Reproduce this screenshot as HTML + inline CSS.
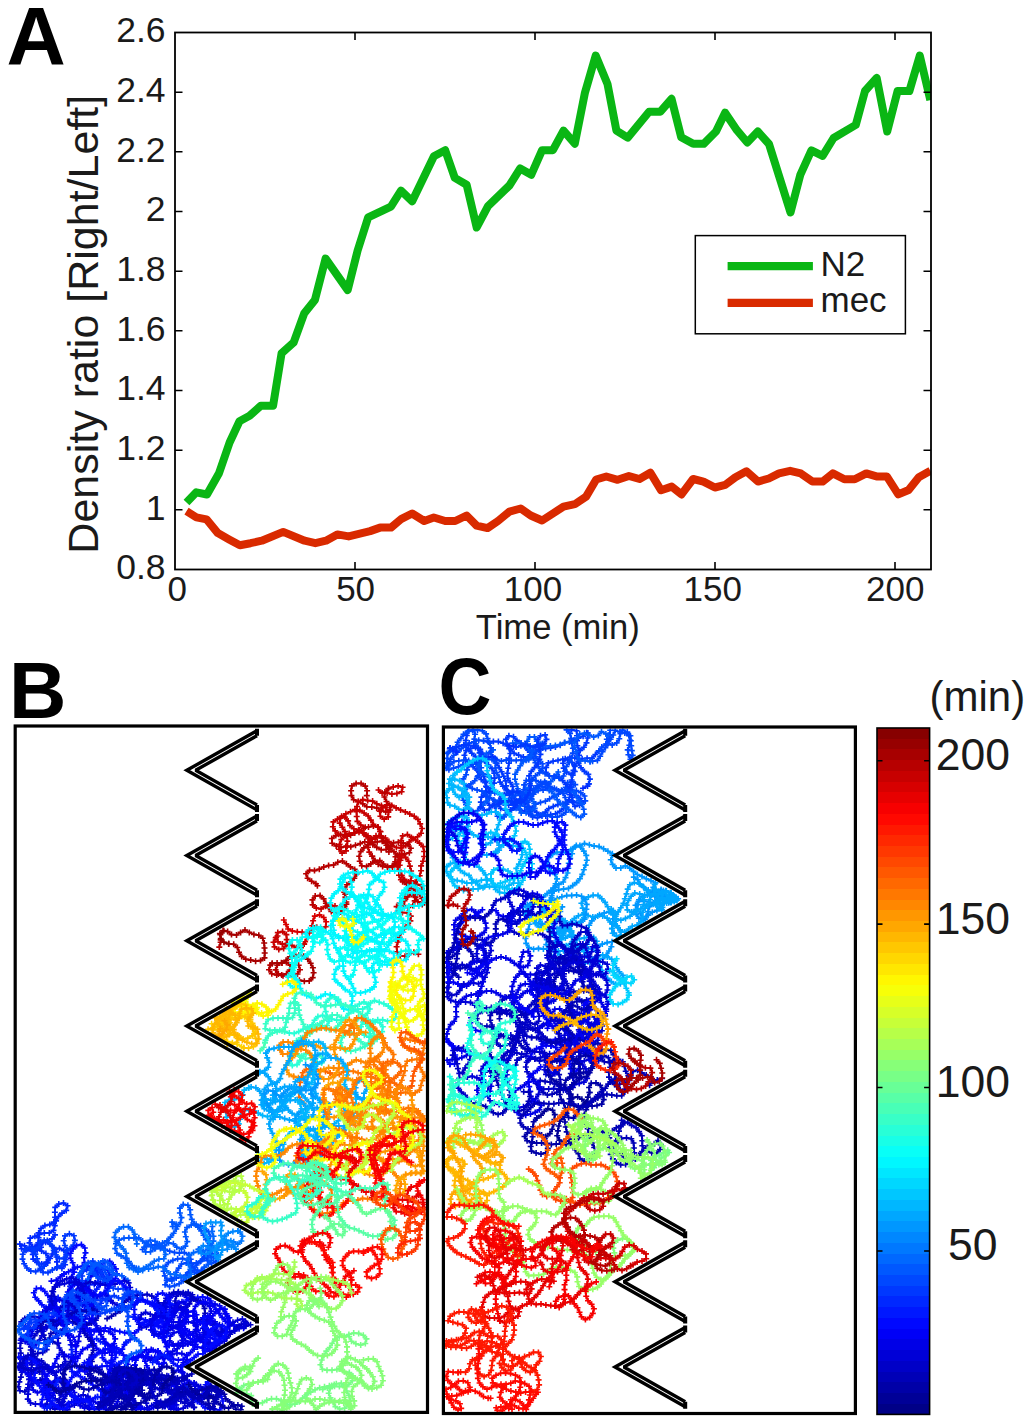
<!DOCTYPE html>
<html><head><meta charset="utf-8"><style>
html,body{margin:0;padding:0;background:#fff;}
svg{display:block;}
</style></head><body>
<svg width="1033" height="1425" viewBox="0 0 1033 1425">
<rect width="1033" height="1425" fill="#fff"/>
<defs><clipPath id="ca"><rect x="175.0" y="32.5" width="756.0" height="537.0"/></clipPath></defs>
<g clip-path="url(#ca)" fill="none" stroke-width="8" stroke-linejoin="round">
<polyline points="186.5,502.5 196.3,492.3 207.0,494.5 219.0,473.2 229.6,442.5 239.5,421.2 249.6,415.8 260.8,405.7 273.1,405.7 281.6,353.2 293.6,342.6 304.3,313.2 314.9,299.9 325.6,258.6 347.7,290.1 357.6,250.6 368.2,217.3 390.9,206.6 401.0,190.6 412.2,201.3 433.9,156.3 445.2,150.2 454.8,177.9 466.6,184.7 476.7,227.5 488.0,206.1 509.4,185.5 520.2,168.4 531.3,174.7 542.1,150.2 552.9,150.2 563.5,130.6 574.8,143.7 584.9,92.9 595.7,55.6 607.5,84.0 616.4,130.6 627.7,137.7 649.1,111.7 660.4,111.7 671.5,98.8 681.2,137.2 693.2,143.8 703.7,143.8 716.0,131.5 725.1,112.7 736.9,130.2 747.3,142.5 757.8,131.5 769.0,144.0 790.5,212.5 800.4,174.6 811.4,150.3 822.6,155.8 833.6,138.0 855.8,124.9 865.0,91.0 876.7,77.9 887.2,131.5 897.6,91.0 909.4,91.0 919.8,55.7 930.3,100.1" stroke="#0ab614"/>
<polyline points="186.5,511.2 196.4,517.3 206.5,519.3 217.8,533.1 229.1,539.4 239.9,545.2 250.5,543.2 261.8,540.7 283.2,531.9 304.6,540.7 315.4,543.2 326.0,540.7 337.3,534.4 348.7,536.4 370.1,531.1 380.1,527.6 391.0,527.6 401.5,518.8 412.1,513.5 424.2,521.0 433.8,517.5 445.2,521.0 455.2,521.0 466.6,515.5 476.6,525.6 487.5,528.1 498.0,521.0 509.4,511.7 520.7,508.5 530.7,515.5 542.1,520.5 563.5,506.7 574.8,504.2 586.1,496.6 596.2,479.5 606.3,476.5 617.6,479.8 628.9,476.0 639.5,479.0 650.3,472.7 661.1,490.3 671.7,486.6 681.5,494.4 693.1,479.0 703.4,481.6 714.9,487.5 725.2,484.9 735.4,477.2 746.4,471.3 758.0,481.6 768.8,478.5 779.0,473.4 790.1,470.8 800.8,473.4 812.4,481.6 822.6,481.6 832.9,473.4 844.4,479.3 854.7,479.3 866.3,473.4 876.5,476.4 886.8,476.4 898.3,494.4 908.6,490.0 918.8,477.2 930.4,470.8" stroke="#d92a00"/>
</g>
<rect x="175.0" y="32.5" width="756.0" height="537.0" fill="none" stroke="#000" stroke-width="1.8"/>
<path d="M355.0 569.5v-7.5M355.0 32.5v7.5M535.0 569.5v-7.5M535.0 32.5v7.5M715.0 569.5v-7.5M715.0 32.5v7.5M895.0 569.5v-7.5M895.0 32.5v7.5M175.0 509.8h7.5M931.0 509.8h-7.5M175.0 450.2h7.5M931.0 450.2h-7.5M175.0 390.5h7.5M931.0 390.5h-7.5M175.0 330.8h7.5M931.0 330.8h-7.5M175.0 271.2h7.5M931.0 271.2h-7.5M175.0 211.5h7.5M931.0 211.5h-7.5M175.0 151.8h7.5M931.0 151.8h-7.5M175.0 92.2h7.5M931.0 92.2h-7.5" stroke="#000" stroke-width="1.6" fill="none"/>
<g font-family='"Liberation Sans", sans-serif' font-size="35.5" fill="#1a1a1a">
<text x="165.5" y="579.3" text-anchor="end">0.8</text>
<text x="165.5" y="519.6" text-anchor="end">1</text>
<text x="165.5" y="460.0" text-anchor="end">1.2</text>
<text x="165.5" y="400.3" text-anchor="end">1.4</text>
<text x="165.5" y="340.6" text-anchor="end">1.6</text>
<text x="165.5" y="281.0" text-anchor="end">1.8</text>
<text x="165.5" y="221.3" text-anchor="end">2</text>
<text x="165.5" y="161.6" text-anchor="end">2.2</text>
<text x="165.5" y="102.0" text-anchor="end">2.4</text>
<text x="165.5" y="42.3" text-anchor="end">2.6</text>
<text x="177.2" y="600.8" text-anchor="middle" font-size="35">0</text>
<text x="355.6" y="600.8" text-anchor="middle" font-size="35">50</text>
<text x="533.0" y="600.8" text-anchor="middle" font-size="35">100</text>
<text x="712.7" y="600.8" text-anchor="middle" font-size="35">150</text>
<text x="895.2" y="600.8" text-anchor="middle" font-size="35">200</text>
<text x="557.8" y="638.8" text-anchor="middle" font-size="34.6">Time (min)</text>
</g>
<text transform="translate(97.5,324.2) rotate(-90)" text-anchor="middle" font-family='"Liberation Sans", sans-serif' font-size="43" fill="#1a1a1a">Density ratio [Right/Left]</text>
<rect x="695.3" y="235.6" width="210.1" height="98.2" fill="#fff" stroke="#000" stroke-width="1.5"/>
<path d="M727.6 266.2H812.9" stroke="#0ab614" stroke-width="8.2"/>
<path d="M727.6 302.9H812.9" stroke="#d92a00" stroke-width="8.2"/>
<g font-family='"Liberation Sans", sans-serif' font-size="35" fill="#1a1a1a"><text x="820.5" y="275.8">N2</text><text x="820.5" y="311.8">mec</text></g>
<g font-family='"Liberation Sans", sans-serif' font-weight="bold" font-size="78" fill="#000">
<text x="6.5" y="63.6" font-size="82">A</text>
<text x="9" y="717.7" font-size="79.5">B</text>
<text transform="translate(441.6,713.6) scale(0.91,1)" x="-3.3" y="0" font-size="80.5">C</text>
</g>
<defs>
<clipPath id="cB"><rect x="16.8" y="727.6" width="409.1" height="683.2"/></clipPath>
<clipPath id="cC"><rect x="445" y="728.6" width="408.8" height="683.3"/></clipPath>
<marker id="m1" markerUnits="userSpaceOnUse" markerWidth="6.0" markerHeight="6.0" refX="3.0" refY="3.0" overflow="visible"><path d="M0 3.0H6.0M3.0 0V6.0" stroke="#000097" stroke-width="1.60"/></marker>
<marker id="m2" markerUnits="userSpaceOnUse" markerWidth="6.0" markerHeight="6.0" refX="3.0" refY="3.0" overflow="visible"><path d="M0 3.0H6.0M3.0 0V6.0" stroke="#0000a7" stroke-width="1.60"/></marker>
<marker id="m3" markerUnits="userSpaceOnUse" markerWidth="6.0" markerHeight="6.0" refX="3.0" refY="3.0" overflow="visible"><path d="M0 3.0H6.0M3.0 0V6.0" stroke="#0000b7" stroke-width="1.60"/></marker>
<marker id="m4" markerUnits="userSpaceOnUse" markerWidth="6.0" markerHeight="6.0" refX="3.0" refY="3.0" overflow="visible"><path d="M0 3.0H6.0M3.0 0V6.0" stroke="#0000c7" stroke-width="1.60"/></marker>
<marker id="m5" markerUnits="userSpaceOnUse" markerWidth="6.0" markerHeight="6.0" refX="3.0" refY="3.0" overflow="visible"><path d="M0 3.0H6.0M3.0 0V6.0" stroke="#0000d7" stroke-width="1.60"/></marker>
<marker id="m6" markerUnits="userSpaceOnUse" markerWidth="6.0" markerHeight="6.0" refX="3.0" refY="3.0" overflow="visible"><path d="M0 3.0H6.0M3.0 0V6.0" stroke="#0000e7" stroke-width="1.60"/></marker>
<marker id="m7" markerUnits="userSpaceOnUse" markerWidth="6.0" markerHeight="6.0" refX="3.0" refY="3.0" overflow="visible"><path d="M0 3.0H6.0M3.0 0V6.0" stroke="#0000f7" stroke-width="1.60"/></marker>
<marker id="m8" markerUnits="userSpaceOnUse" markerWidth="6.0" markerHeight="6.0" refX="3.0" refY="3.0" overflow="visible"><path d="M0 3.0H6.0M3.0 0V6.0" stroke="#0008ff" stroke-width="1.60"/></marker>
<marker id="m9" markerUnits="userSpaceOnUse" markerWidth="6.0" markerHeight="6.0" refX="3.0" refY="3.0" overflow="visible"><path d="M0 3.0H6.0M3.0 0V6.0" stroke="#0018ff" stroke-width="1.60"/></marker>
<marker id="m10" markerUnits="userSpaceOnUse" markerWidth="6.0" markerHeight="6.0" refX="3.0" refY="3.0" overflow="visible"><path d="M0 3.0H6.0M3.0 0V6.0" stroke="#0028ff" stroke-width="1.60"/></marker>
<marker id="m11" markerUnits="userSpaceOnUse" markerWidth="6.0" markerHeight="6.0" refX="3.0" refY="3.0" overflow="visible"><path d="M0 3.0H6.0M3.0 0V6.0" stroke="#0038ff" stroke-width="1.60"/></marker>
<marker id="m12" markerUnits="userSpaceOnUse" markerWidth="6.0" markerHeight="6.0" refX="3.0" refY="3.0" overflow="visible"><path d="M0 3.0H6.0M3.0 0V6.0" stroke="#0048ff" stroke-width="1.60"/></marker>
<marker id="m13" markerUnits="userSpaceOnUse" markerWidth="6.0" markerHeight="6.0" refX="3.0" refY="3.0" overflow="visible"><path d="M0 3.0H6.0M3.0 0V6.0" stroke="#0058ff" stroke-width="1.60"/></marker>
<marker id="m14" markerUnits="userSpaceOnUse" markerWidth="6.0" markerHeight="6.0" refX="3.0" refY="3.0" overflow="visible"><path d="M0 3.0H6.0M3.0 0V6.0" stroke="#0068ff" stroke-width="1.60"/></marker>
<marker id="m15" markerUnits="userSpaceOnUse" markerWidth="6.0" markerHeight="6.0" refX="3.0" refY="3.0" overflow="visible"><path d="M0 3.0H6.0M3.0 0V6.0" stroke="#0078ff" stroke-width="1.60"/></marker>
<marker id="m16" markerUnits="userSpaceOnUse" markerWidth="6.0" markerHeight="6.0" refX="3.0" refY="3.0" overflow="visible"><path d="M0 3.0H6.0M3.0 0V6.0" stroke="#0087ff" stroke-width="1.60"/></marker>
<marker id="m17" markerUnits="userSpaceOnUse" markerWidth="6.0" markerHeight="6.0" refX="3.0" refY="3.0" overflow="visible"><path d="M0 3.0H6.0M3.0 0V6.0" stroke="#0097ff" stroke-width="1.60"/></marker>
<marker id="m18" markerUnits="userSpaceOnUse" markerWidth="6.0" markerHeight="6.0" refX="3.0" refY="3.0" overflow="visible"><path d="M0 3.0H6.0M3.0 0V6.0" stroke="#00a7ff" stroke-width="1.60"/></marker>
<marker id="m19" markerUnits="userSpaceOnUse" markerWidth="6.0" markerHeight="6.0" refX="3.0" refY="3.0" overflow="visible"><path d="M0 3.0H6.0M3.0 0V6.0" stroke="#00b7ff" stroke-width="1.60"/></marker>
<marker id="m20" markerUnits="userSpaceOnUse" markerWidth="6.0" markerHeight="6.0" refX="3.0" refY="3.0" overflow="visible"><path d="M0 3.0H6.0M3.0 0V6.0" stroke="#00c7ff" stroke-width="1.60"/></marker>
<marker id="m21" markerUnits="userSpaceOnUse" markerWidth="6.0" markerHeight="6.0" refX="3.0" refY="3.0" overflow="visible"><path d="M0 3.0H6.0M3.0 0V6.0" stroke="#00d7ff" stroke-width="1.60"/></marker>
<marker id="m23" markerUnits="userSpaceOnUse" markerWidth="6.0" markerHeight="6.0" refX="3.0" refY="3.0" overflow="visible"><path d="M0 3.0H6.0M3.0 0V6.0" stroke="#00f7ff" stroke-width="1.60"/></marker>
<marker id="m24" markerUnits="userSpaceOnUse" markerWidth="6.0" markerHeight="6.0" refX="3.0" refY="3.0" overflow="visible"><path d="M0 3.0H6.0M3.0 0V6.0" stroke="#08fff7" stroke-width="1.60"/></marker>
<marker id="m25" markerUnits="userSpaceOnUse" markerWidth="6.0" markerHeight="6.0" refX="3.0" refY="3.0" overflow="visible"><path d="M0 3.0H6.0M3.0 0V6.0" stroke="#18ffe7" stroke-width="1.60"/></marker>
<marker id="m26" markerUnits="userSpaceOnUse" markerWidth="6.0" markerHeight="6.0" refX="3.0" refY="3.0" overflow="visible"><path d="M0 3.0H6.0M3.0 0V6.0" stroke="#28ffd7" stroke-width="1.60"/></marker>
<marker id="m27" markerUnits="userSpaceOnUse" markerWidth="6.0" markerHeight="6.0" refX="3.0" refY="3.0" overflow="visible"><path d="M0 3.0H6.0M3.0 0V6.0" stroke="#38ffc7" stroke-width="1.60"/></marker>
<marker id="m28" markerUnits="userSpaceOnUse" markerWidth="6.0" markerHeight="6.0" refX="3.0" refY="3.0" overflow="visible"><path d="M0 3.0H6.0M3.0 0V6.0" stroke="#48ffb7" stroke-width="1.60"/></marker>
<marker id="m29" markerUnits="userSpaceOnUse" markerWidth="6.0" markerHeight="6.0" refX="3.0" refY="3.0" overflow="visible"><path d="M0 3.0H6.0M3.0 0V6.0" stroke="#58ffa7" stroke-width="1.60"/></marker>
<marker id="m30" markerUnits="userSpaceOnUse" markerWidth="6.0" markerHeight="6.0" refX="3.0" refY="3.0" overflow="visible"><path d="M0 3.0H6.0M3.0 0V6.0" stroke="#68ff97" stroke-width="1.60"/></marker>
<marker id="m31" markerUnits="userSpaceOnUse" markerWidth="6.0" markerHeight="6.0" refX="3.0" refY="3.0" overflow="visible"><path d="M0 3.0H6.0M3.0 0V6.0" stroke="#78ff87" stroke-width="1.60"/></marker>
<marker id="m32" markerUnits="userSpaceOnUse" markerWidth="6.0" markerHeight="6.0" refX="3.0" refY="3.0" overflow="visible"><path d="M0 3.0H6.0M3.0 0V6.0" stroke="#87ff78" stroke-width="1.60"/></marker>
<marker id="m33" markerUnits="userSpaceOnUse" markerWidth="6.0" markerHeight="6.0" refX="3.0" refY="3.0" overflow="visible"><path d="M0 3.0H6.0M3.0 0V6.0" stroke="#97ff68" stroke-width="1.60"/></marker>
<marker id="m34" markerUnits="userSpaceOnUse" markerWidth="6.0" markerHeight="6.0" refX="3.0" refY="3.0" overflow="visible"><path d="M0 3.0H6.0M3.0 0V6.0" stroke="#a7ff58" stroke-width="1.60"/></marker>
<marker id="m35" markerUnits="userSpaceOnUse" markerWidth="6.0" markerHeight="6.0" refX="3.0" refY="3.0" overflow="visible"><path d="M0 3.0H6.0M3.0 0V6.0" stroke="#b7ff48" stroke-width="1.60"/></marker>
<marker id="m36" markerUnits="userSpaceOnUse" markerWidth="6.0" markerHeight="6.0" refX="3.0" refY="3.0" overflow="visible"><path d="M0 3.0H6.0M3.0 0V6.0" stroke="#c7ff38" stroke-width="1.60"/></marker>
<marker id="m37" markerUnits="userSpaceOnUse" markerWidth="6.0" markerHeight="6.0" refX="3.0" refY="3.0" overflow="visible"><path d="M0 3.0H6.0M3.0 0V6.0" stroke="#d7ff28" stroke-width="1.60"/></marker>
<marker id="m39" markerUnits="userSpaceOnUse" markerWidth="6.0" markerHeight="6.0" refX="3.0" refY="3.0" overflow="visible"><path d="M0 3.0H6.0M3.0 0V6.0" stroke="#f7ff08" stroke-width="1.60"/></marker>
<marker id="m40" markerUnits="userSpaceOnUse" markerWidth="6.0" markerHeight="6.0" refX="3.0" refY="3.0" overflow="visible"><path d="M0 3.0H6.0M3.0 0V6.0" stroke="#fff700" stroke-width="1.60"/></marker>
<marker id="m42" markerUnits="userSpaceOnUse" markerWidth="6.0" markerHeight="6.0" refX="3.0" refY="3.0" overflow="visible"><path d="M0 3.0H6.0M3.0 0V6.0" stroke="#ffd700" stroke-width="1.60"/></marker>
<marker id="m43" markerUnits="userSpaceOnUse" markerWidth="6.0" markerHeight="6.0" refX="3.0" refY="3.0" overflow="visible"><path d="M0 3.0H6.0M3.0 0V6.0" stroke="#ffc700" stroke-width="1.60"/></marker>
<marker id="m44" markerUnits="userSpaceOnUse" markerWidth="6.0" markerHeight="6.0" refX="3.0" refY="3.0" overflow="visible"><path d="M0 3.0H6.0M3.0 0V6.0" stroke="#ffb700" stroke-width="1.60"/></marker>
<marker id="m45" markerUnits="userSpaceOnUse" markerWidth="6.0" markerHeight="6.0" refX="3.0" refY="3.0" overflow="visible"><path d="M0 3.0H6.0M3.0 0V6.0" stroke="#ffa700" stroke-width="1.60"/></marker>
<marker id="m46" markerUnits="userSpaceOnUse" markerWidth="6.0" markerHeight="6.0" refX="3.0" refY="3.0" overflow="visible"><path d="M0 3.0H6.0M3.0 0V6.0" stroke="#ff9700" stroke-width="1.60"/></marker>
<marker id="m47" markerUnits="userSpaceOnUse" markerWidth="6.0" markerHeight="6.0" refX="3.0" refY="3.0" overflow="visible"><path d="M0 3.0H6.0M3.0 0V6.0" stroke="#ff8700" stroke-width="1.60"/></marker>
<marker id="m48" markerUnits="userSpaceOnUse" markerWidth="6.0" markerHeight="6.0" refX="3.0" refY="3.0" overflow="visible"><path d="M0 3.0H6.0M3.0 0V6.0" stroke="#ff7800" stroke-width="1.60"/></marker>
<marker id="m49" markerUnits="userSpaceOnUse" markerWidth="6.0" markerHeight="6.0" refX="3.0" refY="3.0" overflow="visible"><path d="M0 3.0H6.0M3.0 0V6.0" stroke="#ff6800" stroke-width="1.60"/></marker>
<marker id="m50" markerUnits="userSpaceOnUse" markerWidth="6.0" markerHeight="6.0" refX="3.0" refY="3.0" overflow="visible"><path d="M0 3.0H6.0M3.0 0V6.0" stroke="#ff5800" stroke-width="1.60"/></marker>
<marker id="m51" markerUnits="userSpaceOnUse" markerWidth="6.0" markerHeight="6.0" refX="3.0" refY="3.0" overflow="visible"><path d="M0 3.0H6.0M3.0 0V6.0" stroke="#ff4800" stroke-width="1.60"/></marker>
<marker id="m52" markerUnits="userSpaceOnUse" markerWidth="6.0" markerHeight="6.0" refX="3.0" refY="3.0" overflow="visible"><path d="M0 3.0H6.0M3.0 0V6.0" stroke="#ff3800" stroke-width="1.60"/></marker>
<marker id="m53" markerUnits="userSpaceOnUse" markerWidth="6.0" markerHeight="6.0" refX="3.0" refY="3.0" overflow="visible"><path d="M0 3.0H6.0M3.0 0V6.0" stroke="#ff2800" stroke-width="1.60"/></marker>
<marker id="m54" markerUnits="userSpaceOnUse" markerWidth="6.0" markerHeight="6.0" refX="3.0" refY="3.0" overflow="visible"><path d="M0 3.0H6.0M3.0 0V6.0" stroke="#ff1800" stroke-width="1.60"/></marker>
<marker id="m55" markerUnits="userSpaceOnUse" markerWidth="6.0" markerHeight="6.0" refX="3.0" refY="3.0" overflow="visible"><path d="M0 3.0H6.0M3.0 0V6.0" stroke="#ff0800" stroke-width="1.60"/></marker>
<marker id="m56" markerUnits="userSpaceOnUse" markerWidth="6.0" markerHeight="6.0" refX="3.0" refY="3.0" overflow="visible"><path d="M0 3.0H6.0M3.0 0V6.0" stroke="#f70000" stroke-width="1.60"/></marker>
<marker id="m57" markerUnits="userSpaceOnUse" markerWidth="6.0" markerHeight="6.0" refX="3.0" refY="3.0" overflow="visible"><path d="M0 3.0H6.0M3.0 0V6.0" stroke="#e70000" stroke-width="1.60"/></marker>
<marker id="m58" markerUnits="userSpaceOnUse" markerWidth="6.0" markerHeight="6.0" refX="3.0" refY="3.0" overflow="visible"><path d="M0 3.0H6.0M3.0 0V6.0" stroke="#d70000" stroke-width="1.60"/></marker>
<marker id="m59" markerUnits="userSpaceOnUse" markerWidth="6.0" markerHeight="6.0" refX="3.0" refY="3.0" overflow="visible"><path d="M0 3.0H6.0M3.0 0V6.0" stroke="#c70000" stroke-width="1.60"/></marker>
<marker id="m60" markerUnits="userSpaceOnUse" markerWidth="6.0" markerHeight="6.0" refX="3.0" refY="3.0" overflow="visible"><path d="M0 3.0H6.0M3.0 0V6.0" stroke="#b70000" stroke-width="1.60"/></marker>
<marker id="m61" markerUnits="userSpaceOnUse" markerWidth="6.0" markerHeight="6.0" refX="3.0" refY="3.0" overflow="visible"><path d="M0 3.0H6.0M3.0 0V6.0" stroke="#a70000" stroke-width="1.60"/></marker>
<marker id="m62" markerUnits="userSpaceOnUse" markerWidth="6.0" markerHeight="6.0" refX="3.0" refY="3.0" overflow="visible"><path d="M0 3.0H6.0M3.0 0V6.0" stroke="#970000" stroke-width="1.60"/></marker>
</defs>
<g clip-path="url(#cB)" fill="none" stroke-width="2.00" stroke-linejoin="round">
<polyline points="55.0,1234.9 52.0,1238.9 47.3,1240.4 42.9,1242.6 41.0,1247.2 37.1,1250.2 32.3,1251.3 27.9,1249.3 24.5,1245.7 19.8,1244.1 21.6,1248.7 26.1,1250.3 31.0,1249.4 35.1,1246.5 38.3,1242.8 38.6,1237.8 38.6,1232.9 41.0,1228.5 44.9,1225.6 49.8,1224.6 53.8,1222.1 55.1,1217.3 54.9,1212.3 55.2,1207.4 58.8,1204.0 63.5,1203.1 67.6,1205.8 66.2,1210.4 62.0,1213.1 58.5,1216.5 56.1,1220.9 54.8,1225.6 53.5,1230.4 49.3,1232.9 44.3,1233.1 39.5,1234.4 34.9,1236.3 30.3,1238.1 29.5,1242.9 32.6,1246.7 37.0,1249.1 41.6,1251.0 45.9,1253.5 48.5,1257.6 46.3,1262.1 41.7,1263.9 37.0,1262.4 33.2,1259.1 32.8,1254.4 34.5,1249.7 37.3,1245.7 40.8,1242.0 45.6,1242.2 50.2,1244.2 53.8,1247.6 56.1,1252.0 56.4,1257.0 57.0,1261.9 57.4,1266.9 61.9,1268.4 65.1,1264.8 65.7,1259.8 66.2,1254.9 63.8,1250.6 59.5,1248.2 54.9,1249.8 52.2,1254.0 50.1,1258.5 47.7,1262.9 44.1,1266.3" stroke="#0028ff" marker-start="url(#m10)" marker-mid="url(#m10)" marker-end="url(#m10)"/>
<polyline points="44.1,1266.3 40.2,1269.5 35.7,1271.6 30.8,1271.1 26.9,1268.0 24.1,1263.8 22.5,1259.1 22.7,1254.2 25.2,1249.8 29.4,1247.4 33.8,1249.5 35.4,1254.1 37.2,1258.8 38.7,1263.6 40.4,1268.3 43.1,1272.4 48.0,1272.6 52.3,1270.0 56.8,1267.9 61.2,1265.5 64.4,1261.8 65.5,1257.0 66.2,1252.1 70.0,1248.8 73.3,1245.1 74.9,1240.4 73.9,1235.7 69.4,1233.7 65.0,1235.9 63.7,1240.7 64.9,1245.5 67.6,1249.7 67.2,1254.6 64.1,1258.4 59.3,1258.4 55.8,1254.9 53.7,1250.3 51.8,1245.7 48.8,1241.7 44.2,1240.2 39.8,1242.4 38.6,1247.2 34.6,1250.0 32.2,1250.6" stroke="#0038ff" marker-start="url(#m11)" marker-mid="url(#m11)" marker-end="url(#m11)"/>
<polyline points="51.4,1281.1 56.3,1280.2 60.2,1277.0 64.0,1273.9" stroke="#0000f7" marker-start="url(#m7)" marker-mid="url(#m7)" marker-end="url(#m7)"/>
<polyline points="64.0,1273.9 68.5,1271.7 72.9,1269.3 77.4,1267.3 82.3,1266.3 87.2,1266.0 92.0,1267.0 96.2,1269.7 100.2,1272.7 103.7,1276.2 107.1,1279.9 111.7,1281.6 115.4,1278.6 116.9,1273.8 115.9,1268.9 113.2,1264.8 109.7,1261.2 104.9,1261.8 101.4,1265.4 97.2,1268.1 92.3,1268.5 87.9,1266.2 84.5,1262.6 84.1,1257.7 85.5,1252.9 84.8,1248.0 81.4,1244.5 76.6,1245.5 73.1,1249.0 70.5,1253.3 70.4,1258.2 72.7,1262.7 74.6,1267.2 74.1,1272.1 71.7,1276.5 70.4,1281.3" stroke="#0008ff" marker-start="url(#m8)" marker-mid="url(#m8)" marker-end="url(#m8)"/>
<polyline points="70.4,1281.3 70.1,1286.2 69.7,1291.2 69.0,1296.2 71.0,1300.6 75.8,1301.5 80.4,1299.8 84.5,1296.8 88.8,1294.4 93.6,1292.9 96.8,1289.1 99.9,1285.2 103.7,1282.0 107.4,1278.6 109.5,1274.3 107.5,1270.0 102.5,1269.5 97.6,1270.0 93.4,1272.8 90.5,1276.7 89.2,1281.5 87.2,1286.1 83.8,1289.8 80.4,1293.5 76.1,1295.7 71.1,1296.1 67.0,1298.5 66.2,1303.5 68.3,1307.9 72.7,1310.2 75.8,1314.1 80.1,1316.4 85.1,1317.0 88.9,1314.0 90.4,1309.3 91.2,1304.3" stroke="#0018ff" marker-start="url(#m9)" marker-mid="url(#m9)" marker-end="url(#m9)"/>
<polyline points="91.2,1304.3 92.8,1299.7 96.1,1296.0 100.7,1294.2 102.8,1298.5 101.0,1303.2 97.1,1306.3 93.5,1309.7 92.1,1314.4 92.1,1319.4 88.9,1322.9 84.1,1321.8 79.8,1319.3 78.2,1317.4" stroke="#0028ff" marker-start="url(#m10)" marker-mid="url(#m10)" marker-end="url(#m10)"/>
<polyline points="94.8,1273.3 90.8,1276.3 87.7,1280.1 87.0,1284.9" stroke="#0000f7" marker-start="url(#m7)" marker-mid="url(#m7)" marker-end="url(#m7)"/>
<polyline points="87.0,1284.9 88.5,1289.7 91.1,1293.9 93.4,1298.4 94.1,1303.3 93.1,1308.2 93.2,1313.2 92.4,1318.1 90.3,1322.5 85.6,1323.8 81.1,1321.7 76.8,1319.0 72.9,1315.9 69.1,1312.7 65.3,1309.5 60.7,1307.7 55.8,1307.0 50.9,1308.1 46.0,1307.6 41.9,1304.7 38.7,1300.9 35.2,1297.3 33.8,1292.7 36.4,1288.5 41.0,1288.3 44.8,1291.5 47.8,1295.5 50.5,1299.7 54.0,1303.3 56.9,1307.3 59.5,1311.6 59.1,1316.5 56.2,1320.3 51.4,1320.2 48.5,1316.2 47.1,1311.6" stroke="#0008ff" marker-start="url(#m8)" marker-mid="url(#m8)" marker-end="url(#m8)"/>
<polyline points="47.1,1311.6 48.7,1306.8 49.9,1302.0 53.2,1298.4 58.1,1297.6 62.1,1300.5 65.3,1304.4 69.1,1307.5 73.8,1309.3 78.1,1311.7 79.5,1316.4 77.0,1320.6 72.7,1322.9 67.9,1321.7 64.7,1317.8 60.8,1314.8 55.9,1314.0 52.0,1317.1 53.3,1321.7 57.4,1324.3 62.1,1322.8 65.4,1319.0 68.0,1314.7 68.8,1309.8 69.6,1304.9 71.4,1300.3 71.7,1295.3 72.1,1290.3 72.2,1285.3 75.1,1281.3 79.8,1281.6 84.5,1283.3 89.4,1284.5 94.3,1284.4 98.1,1281.4 98.5,1276.5" stroke="#0018ff" marker-start="url(#m9)" marker-mid="url(#m9)" marker-end="url(#m9)"/>
<polyline points="98.5,1276.5 95.9,1272.5 91.7,1270.0 86.7,1269.8 82.0,1271.6 79.1,1275.5 78.6,1280.5 78.3,1285.4 77.1,1290.3 77.0,1295.3 80.3,1298.7 85.2,1299.2 90.2,1299.2 92.6,1299.8" stroke="#0028ff" marker-start="url(#m10)" marker-mid="url(#m10)" marker-end="url(#m10)"/>
<polyline points="127.4,1290.6 123.1,1288.5 118.1,1289.2 113.2,1288.3 108.8,1286.1 106.1,1281.9 103.6,1277.6 101.2,1273.3 98.6,1269.0 96.2,1264.6 92.8,1261.1 88.1,1262.8 84.7,1266.3 83.1,1271.1 82.1,1276.0 82.3,1280.9 81.5,1285.8 79.9,1290.6 78.7,1292.7" stroke="#0038ff" marker-start="url(#m11)" marker-mid="url(#m11)" marker-end="url(#m11)"/>
<polyline points="78.7,1292.7 76.6,1297.2 76.2,1302.2 79.5,1305.5 84.4,1306.2 88.6,1303.7 90.3,1299.0 88.5,1294.4 84.9,1291.1 80.2,1292.3 76.9,1296.0 74.7,1300.5 72.4,1305.0 69.6,1309.1 68.8,1313.8 73.1,1315.6 77.8,1314.2 82.5,1312.4 87.5,1311.7 92.4,1311.0 97.2,1309.8 101.9,1307.9 106.3,1305.8 107.6,1301.0 107.5,1296.0 108.0,1291.1 109.6,1286.3 109.9,1281.4 107.8,1276.9 105.4,1272.5 102.9,1268.2 99.3,1264.8 94.4,1264.8 90.8,1268.1 93.0,1272.4 96.1,1276.3 100.4,1279.0 105.0,1280.8 109.6,1279.1 112.7,1275.3 112.9,1270.4 111.1,1265.8 107.5,1262.5" stroke="#0048ff" marker-start="url(#m12)" marker-mid="url(#m12)" marker-end="url(#m12)"/>
<polyline points="107.5,1262.5 102.9,1260.9 98.4,1262.9 94.3,1265.8 91.4,1269.9 89.2,1274.3 88.0,1279.1 87.3,1284.1 86.9,1289.1 87.1,1294.0 84.3,1298.2 79.8,1299.9 75.5,1297.6 72.4,1293.8 70.1,1289.3 71.5,1284.6 75.2,1281.3 77.9,1277.1 80.2,1272.7 82.9,1268.5 85.6,1264.4 90.4,1263.1 95.2,1264.5 100.1,1265.6 105.0,1266.4 109.2,1269.1 112.6,1272.7 117.1,1274.6 121.9,1275.7 125.6,1279.1 127.7,1280.4" stroke="#0058ff" marker-start="url(#m13)" marker-mid="url(#m13)" marker-end="url(#m13)"/>
<polyline points="142.5,1249.5 146.5,1246.5 151.2,1244.8 156.1,1245.1 160.7,1247.1 165.1,1249.4 169.7,1251.2 174.5,1252.5 179.4,1253.1 184.4,1252.6 188.8,1254.8 190.7,1259.3 191.1,1264.3 192.9,1268.9 197.4,1270.6 197.4,1270.3 192.5,1269.9 188.4,1272.6 186.5,1277.2 183.1,1280.8 179.1,1283.8 174.5,1285.6 169.6,1286.7 165.1,1284.8 166.7,1280.4 171.2,1278.4 176.2,1278.1 181.1,1277.3 185.6,1275.1 189.3,1271.8 192.6,1268.0 196.6,1265.0 200.2,1261.6 204.1,1258.5" stroke="#0048ff" marker-start="url(#m12)" marker-mid="url(#m12)" marker-end="url(#m12)"/>
<polyline points="204.1,1258.5 208.9,1257.2 213.8,1257.4 218.1,1259.8 218.2,1254.9 216.2,1250.3 212.5,1247.1 209.4,1243.2 206.0,1239.6 203.5,1235.3 201.2,1230.9 197.9,1227.1 194.2,1223.8 191.8,1219.4 190.4,1214.7 190.2,1209.8 187.9,1205.3 183.2,1204.5 179.9,1208.1 179.9,1213.0 181.5,1217.6 180.5,1222.5 177.4,1226.4 172.6,1226.5 172.1,1222.1 176.1,1224.2 176.3,1229.0 173.6,1233.2 170.5,1237.1 167.0,1240.7 162.6,1243.0 158.6,1246.0 154.4,1248.7 150.5,1251.7 145.7,1251.9 144.1,1247.3 146.1,1242.7 150.3,1240.2 155.0,1241.3 159.2,1244.0 162.6,1247.6 163.9,1249.8" stroke="#0058ff" marker-start="url(#m13)" marker-mid="url(#m13)" marker-end="url(#m13)"/>
<polyline points="163.9,1249.8 165.7,1254.4 163.8,1258.7 158.9,1259.3 154.3,1261.3 150.5,1264.4 146.2,1267.0 142.6,1270.5 138.0,1272.0 133.6,1269.8 129.2,1267.5 126.8,1263.2 126.6,1258.2 126.2,1253.2 123.4,1249.1 120.0,1245.5 116.6,1241.8 114.4,1237.4 115.6,1232.5 119.1,1229.0 123.5,1226.7 128.4,1226.8 132.2,1230.0 134.8,1234.3 136.4,1239.0 136.8,1243.9" stroke="#0068ff" marker-start="url(#m14)" marker-mid="url(#m14)" marker-end="url(#m14)"/>
<polyline points="198.4,1249.2 202.2,1252.3 204.8,1256.5 207.5,1260.8 211.6,1263.4 215.9,1261.5 216.4,1256.6 212.5,1253.5 207.7,1253.8 204.2,1257.3 200.9,1261.0 196.3,1262.9 191.3,1263.3 186.4,1262.9 181.5,1264.0 178.7,1268.1 176.0,1272.3 174.9,1277.2 171.9,1280.9 167.1,1280.3 164.8,1275.9 163.6,1271.2 165.2,1266.4 168.4,1262.6 172.9,1260.4 177.6,1258.8 182.6,1258.5 187.2,1259.8 190.5,1263.6 192.9,1267.9 194.7,1272.6 196.9,1273.3 201.2,1270.6 204.4,1267.2" stroke="#0048ff" marker-start="url(#m12)" marker-mid="url(#m12)" marker-end="url(#m12)"/>
<polyline points="204.4,1267.2 208.4,1264.3 211.5,1260.4 211.1,1255.5 209.8,1250.7 208.4,1245.9 209.0,1241.0 210.4,1236.4 208.5,1231.8 204.7,1228.7 200.6,1225.8 196.1,1224.2 191.2,1225.0 187.0,1227.6 184.9,1232.0 185.8,1236.8 187.3,1241.6 185.4,1246.1 181.5,1249.0 176.8,1247.3 173.4,1243.7 168.6,1242.8 164.6,1245.7 160.4,1248.5 155.4,1248.5 150.8,1246.6 146.7,1243.7 142.6,1241.0 138.8,1237.8 133.9,1238.0 128.9,1237.8 124.0,1238.3 119.2,1240.0 116.0,1243.7 115.2,1248.6 116.9,1253.2 121.1,1255.9 125.4,1258.4 129.0,1261.6 132.1,1265.6 136.2,1268.3 138.6,1268.8" stroke="#0058ff" marker-start="url(#m13)" marker-mid="url(#m13)" marker-end="url(#m13)"/>
<polyline points="138.6,1268.8 143.6,1268.5 148.6,1269.0 153.5,1268.1 158.2,1266.6 163.1,1267.4 166.6,1270.8 170.3,1274.1 175.3,1274.4 180.1,1275.6 184.7,1277.6 188.6,1277.1 191.1,1274.2 190.4,1269.2 188.4,1264.7 187.5,1259.8 189.5,1255.4 193.6,1252.6 198.4,1251.4 203.4,1251.5 207.7,1249.1 211.3,1245.5 213.5,1241.1 213.5,1236.2 212.1,1231.4 212.4,1226.5" stroke="#0068ff" marker-start="url(#m14)" marker-mid="url(#m14)" marker-end="url(#m14)"/>
<polyline points="233.7,1241.8 237.8,1244.2 241.4,1241.0 242.5,1236.2 240.2,1232.0 237.9,1231.0" stroke="#0078ff" marker-start="url(#m15)" marker-mid="url(#m15)" marker-end="url(#m15)"/>
<polyline points="237.9,1231.0 232.9,1231.5 228.2,1233.2 224.5,1236.4 223.5,1241.2 227.0,1244.7 231.5,1246.9 236.0,1249.1 233.3,1245.0 230.9,1240.8 226.1,1240.3 222.4,1243.5 218.9,1247.0 214.3,1248.9 210.2,1251.8 206.0,1254.2 201.2,1253.4 199.7,1248.9 203.3,1245.6 208.0,1247.0 212.6,1249.0 217.5,1250.2 222.5,1250.1 227.3,1249.2 229.0,1244.8 225.4,1241.7 220.5,1242.4 216.7,1245.5" stroke="#0087ff" marker-start="url(#m16)" marker-mid="url(#m16)" marker-end="url(#m16)"/>
<polyline points="216.7,1245.5 215.2,1250.3 214.7,1255.3 217.8,1259.1 220.4,1254.9 222.3,1250.3 222.5,1245.3 222.4,1240.4 221.1,1235.5 221.1,1230.6 221.8,1225.6 220.7,1222.2 215.8,1222.5 210.8,1222.2 206.0,1223.6 204.0,1227.9 204.9,1232.8 207.3,1237.2 209.0,1241.8" stroke="#0097ff" marker-start="url(#m17)" marker-mid="url(#m17)" marker-end="url(#m17)"/>
<polyline points="108.0,1391.9 110.8,1387.8 111.4,1382.9 111.3,1377.9 114.9,1374.8 119.7,1373.3 124.7,1373.6" stroke="#0000b7" marker-start="url(#m3)" marker-mid="url(#m3)" marker-end="url(#m3)"/>
<polyline points="124.7,1373.6 129.1,1375.9 133.2,1378.8 138.1,1379.2 141.0,1375.6 138.7,1371.2 134.1,1369.5 129.3,1370.4 124.5,1371.8 119.5,1371.8 114.8,1370.2 110.3,1371.3 108.6,1376.0 106.3,1380.4 104.9,1385.2 105.5,1389.9 108.9,1393.6" stroke="#0000c7" marker-start="url(#m4)" marker-mid="url(#m4)" marker-end="url(#m4)"/>
<polyline points="108.9,1393.6 113.5,1395.1 118.0,1393.1 122.3,1390.5 126.7,1388.2 131.7,1387.7 136.6,1386.9 141.3,1385.1 146.1,1383.8 151.0,1384.5 155.1,1387.3 159.5,1389.7 164.5,1389.2 169.4,1389.4 172.7,1393.1 174.1,1397.9 174.2,1402.9 174.0,1405.3" stroke="#0000d7" marker-start="url(#m5)" marker-mid="url(#m5)" marker-end="url(#m5)"/>
<polyline points="174.0,1405.3 170.9,1409.2 172.8,1404.6 170.7,1400.5 166.4,1401.8 165.0,1406.6 164.1,1406.3 167.5,1402.8 170.6,1398.9 174.4,1395.6 175.8,1390.9 174.4,1386.1 173.8,1381.1 173.0,1376.2 173.9,1371.5 178.3,1370.1 182.6,1372.6" stroke="#0000e7" marker-start="url(#m6)" marker-mid="url(#m6)" marker-end="url(#m6)"/>
<polyline points="182.6,1372.6 184.6,1377.1 181.9,1380.8 177.0,1381.3 173.2,1378.1 168.6,1376.3 163.7,1377.6 159.2,1379.7 154.4,1378.5 151.5,1374.5 149.2,1370.0 146.8,1365.7 145.0,1361.1 145.9,1356.2 148.6,1352.1 153.1,1350.3 158.0,1350.9" stroke="#0000f7" marker-start="url(#m7)" marker-mid="url(#m7)" marker-end="url(#m7)"/>
<polyline points="158.0,1350.9 161.6,1354.4 164.5,1358.5 163.7,1363.3 159.0,1363.9 155.4,1360.5 151.4,1357.5 146.6,1356.3 141.6,1355.7 136.8,1357.1 132.3,1359.2 127.6,1358.0 123.5,1355.1 120.2,1351.4 116.7,1347.9 112.4,1345.4 107.5,1344.5 105.1,1343.8" stroke="#0008ff" marker-start="url(#m8)" marker-mid="url(#m8)" marker-end="url(#m8)"/>
<polyline points="105.1,1343.8 100.5,1341.8 96.7,1338.6" stroke="#0018ff" marker-start="url(#m9)" marker-mid="url(#m9)" marker-end="url(#m9)"/>
<polyline points="93.6,1356.9 91.9,1361.5 88.4,1365.1 86.5,1369.5 87.8,1374.3 90.8,1378.3 95.5,1379.3" stroke="#0000b7" marker-start="url(#m3)" marker-mid="url(#m3)" marker-end="url(#m3)"/>
<polyline points="95.5,1379.3 100.2,1380.5 104.8,1382.4 109.7,1383.2 114.7,1383.1 119.3,1385.0 123.2,1388.1 126.4,1391.9 130.0,1395.3 132.7,1399.5 134.5,1404.1 136.2,1408.8 138.2,1407.3 135.7,1402.9 133.2,1398.7 133.6,1393.8 137.8,1391.4" stroke="#0000c7" marker-start="url(#m4)" marker-mid="url(#m4)" marker-end="url(#m4)"/>
<polyline points="137.8,1391.4 141.7,1394.3 144.3,1398.6 146.3,1403.1 147.4,1407.9 151.7,1405.5 155.9,1402.8 160.7,1401.4 165.3,1403.2 169.2,1406.4 173.6,1408.8 178.3,1409.4 183.2,1408.3 187.6,1405.9 191.2,1402.5 194.0,1398.5 194.8,1393.5 195.4,1391.1" stroke="#0000d7" marker-start="url(#m5)" marker-mid="url(#m5)" marker-end="url(#m5)"/>
<polyline points="195.4,1391.1 194.9,1386.3 190.9,1383.3 187.1,1380.2 184.2,1376.1 181.9,1371.7 180.7,1366.9 183.4,1362.8 187.2,1359.6 186.7,1355.1 181.9,1353.6 176.9,1353.3 172.1,1354.6 167.4,1356.2 162.5,1357.4 157.7,1358.8 152.8,1359.8" stroke="#0000e7" marker-start="url(#m6)" marker-mid="url(#m6)" marker-end="url(#m6)"/>
<polyline points="152.8,1359.8 148.0,1358.6 143.2,1357.0 138.3,1356.4 133.4,1357.5 128.9,1359.5 127.7,1364.3 127.6,1369.3 124.9,1373.5 121.7,1377.3 117.9,1380.6 115.1,1384.7 110.4,1386.1 106.0,1388.4 102.9,1392.4 100.7,1396.8 100.9,1401.8" stroke="#0000f7" marker-start="url(#m7)" marker-mid="url(#m7)" marker-end="url(#m7)"/>
<polyline points="100.9,1401.8 101.8,1406.7 105.7,1409.7 105.1,1404.7 105.0,1399.7 103.8,1394.9 100.8,1390.9 97.1,1387.6 92.8,1385.0 88.7,1382.2 84.8,1379.1 80.4,1376.6 76.0,1374.3 71.9,1371.4 71.5,1366.7 72.8,1361.9 71.5,1357.0 71.7,1354.5" stroke="#0008ff" marker-start="url(#m8)" marker-mid="url(#m8)" marker-end="url(#m8)"/>
<polyline points="71.7,1354.5 71.7,1349.6 70.7,1344.7" stroke="#0018ff" marker-start="url(#m9)" marker-mid="url(#m9)" marker-end="url(#m9)"/>
<polyline points="62.7,1364.9 58.2,1366.8 53.2,1366.8 48.3,1367.7 43.7,1369.7 39.3,1371.9 34.5,1373.2" stroke="#0000b7" marker-start="url(#m3)" marker-mid="url(#m3)" marker-end="url(#m3)"/>
<polyline points="34.5,1373.2 30.3,1370.5 25.6,1368.9 20.7,1370.0 18.6,1367.8 20.1,1363.1 20.5,1358.1 20.7,1353.1 20.2,1348.2 20.5,1343.2 22.6,1338.8 27.4,1338.2 30.4,1341.9 30.9,1346.9 33.1,1351.4 34.3,1356.2 36.4,1360.7" stroke="#0000c7" marker-start="url(#m4)" marker-mid="url(#m4)" marker-end="url(#m4)"/>
<polyline points="36.4,1360.7 39.5,1364.6 41.6,1369.1 42.6,1374.0 42.4,1379.0 43.9,1383.8 45.1,1388.6 47.1,1393.2 50.8,1396.5 55.2,1398.7 58.5,1402.5 62.5,1405.4 67.4,1404.4 71.7,1401.9 76.5,1400.6 81.3,1399.4 86.3,1399.5 88.8,1399.8" stroke="#0000d7" marker-start="url(#m5)" marker-mid="url(#m5)" marker-end="url(#m5)"/>
<polyline points="88.8,1399.8 93.5,1401.4 98.0,1403.7 102.0,1406.6 106.2,1409.2 111.1,1409.2 114.7,1405.8 117.5,1401.7 119.1,1396.9 122.9,1393.9 127.6,1392.2 131.1,1388.8 132.8,1384.1 134.0,1379.3 135.8,1374.6 136.4,1369.8 134.8,1365.1" stroke="#0000e7" marker-start="url(#m6)" marker-mid="url(#m6)" marker-end="url(#m6)"/>
<polyline points="134.8,1365.1 135.8,1360.2 138.5,1356.1 142.1,1352.6 146.2,1349.8 151.2,1349.5 155.6,1351.7 160.0,1354.1 163.5,1357.6 163.9,1362.5 161.5,1366.8 158.3,1370.7 154.9,1374.3 151.5,1378.0 148.3,1381.8 143.6,1381.2 140.6,1377.1" stroke="#0000f7" marker-start="url(#m7)" marker-mid="url(#m7)" marker-end="url(#m7)"/>
<polyline points="140.6,1377.1 137.0,1373.8 132.0,1373.1 128.7,1369.3 124.6,1366.8 119.6,1366.9 114.9,1365.4 110.3,1363.4 105.7,1361.4 102.4,1357.8 102.4,1352.9 105.2,1349.1 110.2,1349.6 114.4,1352.3 119.3,1352.8 122.3,1349.1 124.5,1344.6 126.1,1342.6" stroke="#0008ff" marker-start="url(#m8)" marker-mid="url(#m8)" marker-end="url(#m8)"/>
<polyline points="126.1,1342.6 130.1,1339.7 134.6,1337.7" stroke="#0018ff" marker-start="url(#m9)" marker-mid="url(#m9)" marker-end="url(#m9)"/>
<polyline points="59.7,1393.2 56.6,1389.3 53.2,1385.7 49.4,1382.4 45.1,1380.1 40.1,1379.9 35.3,1381.1" stroke="#0000b7" marker-start="url(#m3)" marker-mid="url(#m3)" marker-end="url(#m3)"/>
<polyline points="35.3,1381.1 31.5,1384.4 27.8,1387.8 24.8,1391.8 20.0,1390.8 18.4,1386.7 19.4,1381.9 20.9,1377.1 21.8,1372.3 22.1,1367.3 23.2,1362.4 27.0,1359.3 31.9,1359.3 36.9,1359.2 41.5,1360.9 45.0,1364.4 48.8,1367.4" stroke="#0000c7" marker-start="url(#m4)" marker-mid="url(#m4)" marker-end="url(#m4)"/>
<polyline points="48.8,1367.4 52.4,1370.9 55.0,1375.2 57.7,1379.4 61.4,1382.7 63.4,1387.3 65.6,1391.7 70.1,1394.1 73.7,1397.5 77.5,1400.7 82.0,1402.8 85.8,1406.0 89.6,1409.2 94.5,1409.0 99.4,1408.4 104.1,1406.7 107.7,1403.4 109.2,1401.4" stroke="#0000d7" marker-start="url(#m5)" marker-mid="url(#m5)" marker-end="url(#m5)"/>
<polyline points="109.2,1401.4 112.0,1397.3 112.8,1392.4 112.1,1387.5 111.7,1382.5 112.9,1377.8 116.5,1374.3 121.4,1373.9 125.4,1376.7 129.0,1380.2 133.2,1382.9 138.1,1383.9 142.5,1381.7 147.1,1379.8 152.0,1380.6 156.9,1381.6 161.7,1382.7" stroke="#0000e7" marker-start="url(#m6)" marker-mid="url(#m6)" marker-end="url(#m6)"/>
<polyline points="161.7,1382.7 166.5,1384.1 171.4,1385.1 176.2,1386.7 181.0,1387.9 185.4,1390.4 189.3,1393.5 193.2,1396.6 197.5,1398.9 202.4,1398.9 204.6,1394.7 204.3,1389.8 200.3,1387.4 196.7,1390.7 198.4,1395.1 203.3,1394.1 205.6,1389.7" stroke="#0000f7" marker-start="url(#m7)" marker-mid="url(#m7)" marker-end="url(#m7)"/>
<polyline points="205.6,1389.7 205.6,1384.8 207.8,1381.9 210.2,1386.3 214.3,1389.2 218.1,1392.5 221.4,1396.2 222.7,1401.0 222.7,1406.0 219.7,1410.0 214.8,1409.5 209.8,1409.3 205.0,1407.9 201.5,1404.3 197.3,1401.6 193.0,1399.1 189.5,1395.5 188.6,1393.2" stroke="#0008ff" marker-start="url(#m8)" marker-mid="url(#m8)" marker-end="url(#m8)"/>
<polyline points="188.6,1393.2 187.8,1388.2 184.8,1384.3" stroke="#0018ff" marker-start="url(#m9)" marker-mid="url(#m9)" marker-end="url(#m9)"/>
<polyline points="71.6,1316.8 73.4,1321.5 77.3,1324.5 82.0,1326.1 86.8,1324.9 91.4,1322.9 95.6,1320.2" stroke="#0000b7" marker-start="url(#m3)" marker-mid="url(#m3)" marker-end="url(#m3)"/>
<polyline points="95.6,1320.2 98.4,1316.0 97.0,1311.4 92.6,1309.1 87.8,1308.4 85.9,1304.2 89.9,1301.5 93.8,1303.9 91.9,1308.4 87.5,1307.6 86.3,1302.7 85.0,1297.9 84.1,1293.0 83.9,1288.1 85.9,1283.7 90.4,1281.9 95.2,1283.1" stroke="#0000c7" marker-start="url(#m4)" marker-mid="url(#m4)" marker-end="url(#m4)"/>
<polyline points="95.2,1283.1 100.2,1283.9 105.1,1285.0 110.0,1284.6 115.0,1284.1 119.6,1282.2 124.3,1280.6 128.6,1282.9 130.2,1287.5 129.6,1292.5 129.6,1297.5 131.4,1302.2 131.2,1307.0 126.5,1308.1 121.8,1306.2 117.0,1305.0 112.7,1302.5 110.9,1300.8" stroke="#0000d7" marker-start="url(#m5)" marker-mid="url(#m5)" marker-end="url(#m5)"/>
<polyline points="110.9,1300.8 108.1,1296.6 104.2,1293.8 99.7,1295.8 95.6,1298.7 92.0,1302.2 87.3,1304.0 82.5,1305.0 80.1,1300.7 78.5,1296.0 78.2,1291.0 81.3,1287.2 86.2,1287.0 89.8,1290.3 92.9,1294.2 93.8,1299.1 92.4,1303.8" stroke="#0000e7" marker-start="url(#m6)" marker-mid="url(#m6)" marker-end="url(#m6)"/>
<polyline points="92.4,1303.8 89.3,1307.8 84.6,1309.6 79.8,1310.7 75.2,1308.8 71.8,1305.1 68.7,1301.2 66.5,1296.7 67.8,1292.0 70.7,1288.0 74.4,1284.6 79.2,1283.2 83.1,1286.1 86.3,1290.0 90.3,1293.0 94.8,1294.9 99.8,1294.8" stroke="#0000f7" marker-start="url(#m7)" marker-mid="url(#m7)" marker-end="url(#m7)"/>
<polyline points="99.8,1294.8 104.2,1292.5 107.3,1288.6 109.7,1284.2 113.2,1280.8 118.1,1281.0 122.1,1283.8 125.9,1287.1 129.3,1290.7 132.7,1294.4 136.4,1297.7 140.9,1300.0 145.4,1302.0 150.0,1304.0 154.2,1306.7 159.1,1307.8 163.6,1305.8 165.5,1304.2" stroke="#0008ff" marker-start="url(#m8)" marker-mid="url(#m8)" marker-end="url(#m8)"/>
<polyline points="165.5,1304.2 170.3,1303.2 175.0,1304.6" stroke="#0018ff" marker-start="url(#m9)" marker-mid="url(#m9)" marker-end="url(#m9)"/>
<polyline points="73.6,1357.8 70.3,1361.6 67.0,1365.3 64.6,1369.7 64.1,1374.6 64.7,1379.5 65.2,1384.4" stroke="#0000b7" marker-start="url(#m3)" marker-mid="url(#m3)" marker-end="url(#m3)"/>
<polyline points="65.2,1384.4 66.8,1389.1 66.9,1394.1 64.4,1398.5 62.0,1402.8 63.2,1407.5 67.5,1409.9 62.8,1408.3 59.6,1404.7 59.2,1399.7 60.8,1395.0 63.0,1390.5 65.2,1386.0 63.9,1381.3 59.3,1379.4 54.7,1381.2 51.3,1384.8" stroke="#0000c7" marker-start="url(#m4)" marker-mid="url(#m4)" marker-end="url(#m4)"/>
<polyline points="51.3,1384.8 49.8,1389.4 48.5,1394.2 47.5,1399.1 47.1,1404.0 50.2,1407.8 54.9,1409.1 59.9,1408.5 64.9,1408.2 69.7,1406.8 74.3,1405.1 76.1,1400.5 78.5,1396.3 83.2,1394.8 87.9,1396.2 90.4,1400.3 89.6,1405.2 89.1,1407.7" stroke="#0000d7" marker-start="url(#m5)" marker-mid="url(#m5)" marker-end="url(#m5)"/>
<polyline points="89.1,1407.7 84.5,1408.2 80.2,1405.8 76.8,1402.1 75.3,1397.4 74.4,1392.5 71.8,1388.3 68.7,1384.3 65.1,1380.9 60.4,1379.1 55.9,1380.6 54.7,1385.5 54.2,1390.4 53.0,1395.2 49.1,1397.9 45.2,1395.0 43.6,1390.3" stroke="#0000e7" marker-start="url(#m6)" marker-mid="url(#m6)" marker-end="url(#m6)"/>
<polyline points="43.6,1390.3 43.7,1385.3 45.1,1380.6 47.0,1376.0 49.3,1371.6 52.4,1367.6 54.9,1363.3 56.7,1358.7 59.3,1354.5 64.1,1354.2 68.5,1356.6 73.0,1358.9 77.7,1358.1 80.2,1353.8 82.8,1349.6 87.4,1347.5 91.3,1344.6" stroke="#0000f7" marker-start="url(#m7)" marker-mid="url(#m7)" marker-end="url(#m7)"/>
<polyline points="91.3,1344.6 92.5,1339.8 91.3,1335.0 87.9,1331.4 83.6,1328.8 80.3,1325.1 77.8,1320.8 73.9,1318.0 68.9,1317.8 63.9,1318.1 60.1,1321.3 56.0,1324.2 51.7,1326.6 46.7,1327.4 41.8,1328.0 36.8,1327.8 32.1,1329.3 29.9,1330.5" stroke="#0008ff" marker-start="url(#m8)" marker-mid="url(#m8)" marker-end="url(#m8)"/>
<polyline points="29.9,1330.5 27.1,1334.5 22.7,1336.7" stroke="#0018ff" marker-start="url(#m9)" marker-mid="url(#m9)" marker-end="url(#m9)"/>
<polyline points="91.4,1310.1 86.4,1310.7 81.5,1311.4 76.5,1311.3 72.0,1313.4 67.9,1316.2 64.2,1319.4" stroke="#0000b7" marker-start="url(#m3)" marker-mid="url(#m3)" marker-end="url(#m3)"/>
<polyline points="64.2,1319.4 60.9,1323.1 56.4,1325.2 51.4,1325.8 46.7,1327.6 42.1,1329.4 37.7,1331.8 34.7,1335.7 32.6,1340.2 31.9,1345.1 30.7,1350.0 30.9,1354.9 31.5,1359.9 31.9,1364.9 31.2,1369.7 30.7,1374.7 29.3,1379.4" stroke="#0000c7" marker-start="url(#m4)" marker-mid="url(#m4)" marker-end="url(#m4)"/>
<polyline points="29.3,1379.4 28.2,1384.2 28.7,1389.2 28.2,1394.1 27.7,1399.1 30.6,1403.0 35.4,1404.1 40.4,1404.3 45.3,1405.4 50.1,1406.8 55.0,1406.6 59.8,1405.2 63.1,1401.5 63.8,1396.7 61.7,1392.2 58.7,1388.2 53.8,1387.4 51.4,1388.2" stroke="#0000d7" marker-start="url(#m5)" marker-mid="url(#m5)" marker-end="url(#m5)"/>
<polyline points="51.4,1388.2 46.9,1390.3 42.0,1391.3 37.4,1392.7 33.3,1390.1 31.5,1385.5 31.3,1380.5 28.8,1376.2 25.4,1372.5 21.1,1370.1 18.3,1366.4 23.2,1365.2 27.8,1363.3 32.6,1361.9 37.5,1361.8 41.4,1364.8 43.6,1369.2" stroke="#0000e7" marker-start="url(#m6)" marker-mid="url(#m6)" marker-end="url(#m6)"/>
<polyline points="43.6,1369.2 44.8,1374.1 46.1,1378.9 47.1,1383.8 46.9,1388.8 49.4,1392.9 54.1,1392.5 55.0,1387.8 52.2,1383.8 48.1,1381.0 43.3,1381.7 38.4,1382.7 34.1,1380.6 30.7,1377.0 27.9,1372.9 27.5,1367.9 26.4,1363.0" stroke="#0000f7" marker-start="url(#m7)" marker-mid="url(#m7)" marker-end="url(#m7)"/>
<polyline points="26.4,1363.0 23.2,1359.4 18.7,1357.1 23.7,1357.1 28.7,1357.3 33.2,1359.4 36.2,1363.3 36.8,1368.1 34.9,1372.7 34.3,1377.7 36.3,1382.2 39.6,1385.9 42.6,1389.8 43.4,1394.7 42.3,1399.6 41.4,1404.4 44.5,1408.0 47.0,1407.9" stroke="#0008ff" marker-start="url(#m8)" marker-mid="url(#m8)" marker-end="url(#m8)"/>
<polyline points="47.0,1407.9 51.0,1405.1 52.5,1400.4" stroke="#0018ff" marker-start="url(#m9)" marker-mid="url(#m9)" marker-end="url(#m9)"/>
<polyline points="57.3,1343.8 52.8,1341.6 49.4,1338.1 50.9,1333.6 55.5,1332.0 60.4,1331.3 64.7,1328.7" stroke="#0000b7" marker-start="url(#m3)" marker-mid="url(#m3)" marker-end="url(#m3)"/>
<polyline points="64.7,1328.7 66.9,1324.3 63.8,1320.9 58.8,1320.6 53.9,1321.3 49.1,1320.0 44.2,1319.1 39.4,1317.6 34.5,1316.6 29.5,1316.8 24.8,1318.4 21.3,1321.9 21.2,1324.1 25.5,1326.7 30.1,1328.4 34.9,1327.5 38.4,1324.0" stroke="#0000c7" marker-start="url(#m4)" marker-mid="url(#m4)" marker-end="url(#m4)"/>
<polyline points="38.4,1324.0 40.4,1319.5 42.8,1315.0 46.4,1311.5 50.2,1308.3 54.2,1305.3 56.5,1301.0 54.5,1296.5 53.2,1291.7 54.4,1287.0 57.8,1283.2 62.2,1280.9 66.6,1278.7 71.5,1277.7 76.0,1279.5 77.8,1284.1 78.2,1289.1 78.1,1291.6" stroke="#0000d7" marker-start="url(#m5)" marker-mid="url(#m5)" marker-end="url(#m5)"/>
<polyline points="78.1,1291.6 77.7,1296.5 74.5,1300.2 69.5,1300.5 64.5,1300.2 59.5,1300.1 54.6,1300.8 52.0,1304.8 52.8,1309.6 56.7,1312.6 60.8,1315.5 65.0,1318.2 69.8,1318.2 74.5,1317.0 78.4,1320.1 82.1,1323.4 85.1,1327.4" stroke="#0000e7" marker-start="url(#m6)" marker-mid="url(#m6)" marker-end="url(#m6)"/>
<polyline points="85.1,1327.4 89.4,1329.9 94.1,1331.4 99.1,1331.5 104.0,1330.8 108.9,1331.5 112.8,1334.5 115.2,1338.9 114.1,1343.8 113.0,1348.6 109.7,1352.3 104.9,1353.3 100.3,1351.6 96.6,1348.2 94.1,1343.9 91.8,1339.5 90.1,1334.8" stroke="#0000f7" marker-start="url(#m7)" marker-mid="url(#m7)" marker-end="url(#m7)"/>
<polyline points="90.1,1334.8 90.9,1330.2 95.6,1329.2 100.5,1328.7 105.4,1327.8 110.3,1328.8 114.9,1330.6 119.8,1331.5 124.7,1332.7 129.6,1333.6 134.6,1332.9 138.4,1329.8 141.1,1325.6 144.5,1322.1 149.3,1321.3 154.1,1320.0 157.4,1316.6 158.0,1314.1" stroke="#0008ff" marker-start="url(#m8)" marker-mid="url(#m8)" marker-end="url(#m8)"/>
<polyline points="158.0,1314.1 157.9,1309.1 158.2,1304.2" stroke="#0018ff" marker-start="url(#m9)" marker-mid="url(#m9)" marker-end="url(#m9)"/>
<polyline points="107.1,1318.6 111.5,1316.2 115.6,1313.5 120.0,1311.1 122.9,1307.2 124.2,1302.4 127.9,1299.0" stroke="#0000b7" marker-start="url(#m3)" marker-mid="url(#m3)" marker-end="url(#m3)"/>
<polyline points="127.9,1299.0 132.5,1297.1 137.2,1295.3 142.2,1294.9 147.1,1294.4 151.8,1296.0 156.0,1298.7 158.6,1302.9 160.2,1307.6 161.0,1312.6 160.7,1317.4 162.9,1321.9 166.6,1325.3 171.1,1327.4 175.9,1326.5 180.2,1323.8 183.8,1320.5" stroke="#0000c7" marker-start="url(#m4)" marker-mid="url(#m4)" marker-end="url(#m4)"/>
<polyline points="183.8,1320.5 185.8,1316.0 187.6,1311.3 185.6,1307.2 180.8,1308.3 176.3,1310.5 171.4,1311.3 166.8,1313.3 163.3,1310.2 166.3,1306.7 171.3,1307.0 174.5,1310.6 174.7,1315.5 171.5,1319.2 166.8,1318.5 164.5,1314.2 165.5,1309.3 166.4,1307.0" stroke="#0000d7" marker-start="url(#m5)" marker-mid="url(#m5)" marker-end="url(#m5)"/>
<polyline points="166.4,1307.0 167.6,1302.2 170.0,1297.9 173.6,1294.5 178.2,1292.7 183.0,1293.9 186.5,1297.5 190.8,1299.6 195.8,1299.4 200.4,1301.2 205.2,1302.1 210.0,1303.5 215.0,1304.1 219.6,1305.9 223.1,1309.4 225.3,1313.9 227.4,1318.4" stroke="#0000e7" marker-start="url(#m6)" marker-mid="url(#m6)" marker-end="url(#m6)"/>
<polyline points="227.4,1318.4 230.1,1322.6 234.4,1325.1 239.2,1326.3 244.2,1326.4 243.6,1328.3 238.7,1327.3 234.0,1325.6 229.3,1324.2 225.3,1321.2 222.1,1317.4 219.1,1313.4 216.0,1309.4 212.9,1305.5 210.8,1301.0 207.5,1298.1 202.6,1297.1" stroke="#0000f7" marker-start="url(#m7)" marker-mid="url(#m7)" marker-end="url(#m7)"/>
<polyline points="202.6,1297.1 197.7,1297.6 192.7,1297.9 188.1,1299.8 183.9,1302.3 178.9,1302.8 174.9,1305.5 174.1,1310.4 173.0,1315.2 170.0,1319.2 166.9,1323.1 163.3,1326.6 158.3,1326.6 154.7,1323.4 150.3,1321.1 145.4,1319.9 140.7,1318.4 138.3,1317.8" stroke="#0008ff" marker-start="url(#m8)" marker-mid="url(#m8)" marker-end="url(#m8)"/>
<polyline points="138.3,1317.8 133.3,1317.0 128.4,1316.4" stroke="#0018ff" marker-start="url(#m9)" marker-mid="url(#m9)" marker-end="url(#m9)"/>
<polyline points="199.5,1321.4 202.9,1317.7 205.2,1313.3 204.5,1308.4 202.5,1303.9 198.5,1300.9 193.9,1298.9" stroke="#0000b7" marker-start="url(#m3)" marker-mid="url(#m3)" marker-end="url(#m3)"/>
<polyline points="193.9,1298.9 190.0,1295.8 185.6,1293.7 180.7,1293.7 176.4,1296.2 175.2,1301.0 176.6,1305.7 181.0,1307.9 185.9,1307.0 189.5,1303.9 191.7,1299.4 192.4,1294.7 188.2,1292.3 183.2,1292.7 178.4,1291.7 173.7,1292.3 169.3,1294.7" stroke="#0000c7" marker-start="url(#m4)" marker-mid="url(#m4)" marker-end="url(#m4)"/>
<polyline points="169.3,1294.7 166.1,1298.4 163.9,1302.9 160.7,1306.7 157.8,1310.8 155.4,1315.1 152.3,1319.0 150.0,1323.5 146.4,1326.9 141.7,1327.8 138.8,1324.2 139.1,1319.2 141.3,1314.7 145.6,1312.3 150.2,1314.2 155.0,1315.6 159.9,1315.5 162.4,1315.3" stroke="#0000d7" marker-start="url(#m5)" marker-mid="url(#m5)" marker-end="url(#m5)"/>
<polyline points="162.4,1315.3 167.4,1314.5 171.7,1312.2 174.6,1308.2 177.7,1304.3 182.0,1301.8 185.8,1304.5 184.8,1309.3 181.4,1313.0 179.6,1317.6 179.9,1322.5 180.3,1327.5 180.4,1332.5 182.7,1336.9 185.7,1340.9 190.5,1342.3 195.4,1341.4" stroke="#0000e7" marker-start="url(#m6)" marker-mid="url(#m6)" marker-end="url(#m6)"/>
<polyline points="195.4,1341.4 200.3,1340.5 204.8,1342.6 208.1,1346.3 211.5,1346.6 216.0,1344.6 216.5,1345.8 212.2,1348.4 207.3,1349.0 202.4,1348.0 197.5,1347.1 192.9,1345.2 188.1,1343.7 183.3,1342.7 178.3,1343.5 174.1,1345.9 169.1,1345.3" stroke="#0000f7" marker-start="url(#m7)" marker-mid="url(#m7)" marker-end="url(#m7)"/>
<polyline points="169.1,1345.3 165.1,1342.4 162.3,1338.3 163.1,1333.5 165.9,1329.3 167.5,1324.7 168.1,1319.7 168.8,1314.8 169.7,1309.8 169.6,1304.9 168.9,1300.0 166.6,1295.6 162.5,1293.1 157.9,1294.3 155.5,1298.7 154.1,1303.5 156.0,1308.0 157.1,1310.3" stroke="#0008ff" marker-start="url(#m8)" marker-mid="url(#m8)" marker-end="url(#m8)"/>
<polyline points="157.1,1310.3 159.6,1314.6 163.3,1318.0" stroke="#0018ff" marker-start="url(#m9)" marker-mid="url(#m9)" marker-end="url(#m9)"/>
<polyline points="89.0,1359.3 91.5,1355.0 93.4,1350.4 93.2,1345.5 90.8,1341.1 87.7,1337.2 84.6,1333.2" stroke="#0000b7" marker-start="url(#m3)" marker-mid="url(#m3)" marker-end="url(#m3)"/>
<polyline points="84.6,1333.2 82.2,1328.9 81.6,1324.0 81.8,1319.0 80.5,1314.2 77.7,1310.2 74.6,1306.2 71.0,1302.8 66.1,1302.8 62.7,1306.4 59.6,1310.3 55.0,1310.2 52.4,1305.9 51.4,1301.0 51.5,1296.1 52.2,1291.1 55.1,1287.1" stroke="#0000c7" marker-start="url(#m4)" marker-mid="url(#m4)" marker-end="url(#m4)"/>
<polyline points="55.1,1287.1 59.5,1284.7 64.4,1283.8 69.2,1282.6 74.2,1282.3 79.1,1283.0 82.8,1286.3 82.2,1291.1 78.8,1294.7 74.7,1297.6 71.6,1301.5 68.7,1305.6 68.2,1310.6 67.3,1315.5 65.5,1320.1 63.8,1324.8 63.5,1329.8 64.6,1332.0" stroke="#0000d7" marker-start="url(#m5)" marker-mid="url(#m5)" marker-end="url(#m5)"/>
<polyline points="64.6,1332.0 67.8,1335.8 70.2,1340.2 72.0,1344.8 76.5,1345.7 78.5,1341.4 78.9,1336.4 80.3,1331.6 81.0,1326.7 81.1,1321.8 84.8,1318.5 89.5,1318.7 93.2,1322.2 96.7,1325.7 99.0,1330.1 100.9,1334.7 103.4,1339.1" stroke="#0000e7" marker-start="url(#m6)" marker-mid="url(#m6)" marker-end="url(#m6)"/>
<polyline points="103.4,1339.1 106.1,1343.2 110.0,1346.4 112.7,1350.5 111.8,1355.3 111.4,1360.3 112.0,1365.3 109.5,1369.6 107.9,1374.3 107.4,1379.2 108.9,1383.6 112.9,1386.6 114.9,1390.9 112.5,1395.3 108.7,1398.4 104.5,1401.2 101.2,1405.0" stroke="#0000f7" marker-start="url(#m7)" marker-mid="url(#m7)" marker-end="url(#m7)"/>
<polyline points="101.2,1405.0 99.3,1409.4 94.4,1409.2 91.8,1405.0 88.0,1401.7 83.2,1400.7 78.4,1402.1 73.4,1402.2 68.6,1403.3 67.0,1407.9 62.6,1409.3 58.1,1407.3 54.0,1404.4 50.0,1401.3 48.0,1396.8 46.9,1391.9 49.9,1388.1 52.3,1387.4" stroke="#0008ff" marker-start="url(#m8)" marker-mid="url(#m8)" marker-end="url(#m8)"/>
<polyline points="52.3,1387.4 56.2,1384.4 57.8,1379.7" stroke="#0018ff" marker-start="url(#m9)" marker-mid="url(#m9)" marker-end="url(#m9)"/>
<polyline points="177.4,1378.1 182.4,1377.4 187.1,1375.7 191.8,1374.0 187.4,1376.2 183.9,1379.5 179.3,1381.5" stroke="#0000b7" marker-start="url(#m3)" marker-mid="url(#m3)" marker-end="url(#m3)"/>
<polyline points="179.3,1381.5 174.3,1382.3 170.0,1384.7 166.7,1388.3 167.9,1392.8 172.4,1394.8 177.0,1396.7 182.0,1397.1 186.4,1399.2 184.8,1403.5 180.8,1401.2 181.3,1396.3 185.4,1393.6 190.1,1391.9 195.0,1392.8 199.3,1395.3 203.9,1397.2" stroke="#0000c7" marker-start="url(#m4)" marker-mid="url(#m4)" marker-end="url(#m4)"/>
<polyline points="203.9,1397.2 208.8,1398.3 213.7,1398.1 217.4,1394.9 217.0,1390.0 218.2,1389.4 220.7,1393.7 217.9,1397.4 213.2,1397.1 209.2,1394.1 207.4,1389.5 210.5,1385.9 215.3,1386.8 210.3,1386.5 205.5,1387.8 200.6,1386.8 196.2,1384.3 194.2,1382.9" stroke="#0000d7" marker-start="url(#m5)" marker-mid="url(#m5)" marker-end="url(#m5)"/>
<polyline points="194.2,1382.9 189.3,1382.3 184.5,1383.9 180.6,1387.0 177.1,1390.5 175.0,1395.0 175.7,1400.0 176.4,1404.9 176.5,1409.9 172.7,1406.6 167.8,1405.6 162.9,1405.3 157.9,1405.1 153.5,1407.4 149.2,1409.8 144.3,1409.2 140.1,1406.4" stroke="#0000e7" marker-start="url(#m6)" marker-mid="url(#m6)" marker-end="url(#m6)"/>
<polyline points="140.1,1406.4 135.4,1407.7 135.9,1409.5 140.7,1409.0 140.7,1409.3 136.1,1407.3 131.8,1404.6 129.0,1400.5 127.1,1396.0 126.8,1391.0 125.8,1386.2 123.4,1381.8 119.5,1378.7 115.9,1375.3 113.0,1371.3 111.9,1366.4 112.6,1361.5" stroke="#0000f7" marker-start="url(#m7)" marker-mid="url(#m7)" marker-end="url(#m7)"/>
<polyline points="112.6,1361.5 115.5,1357.5 116.4,1352.6 113.1,1349.0 108.1,1349.1 103.3,1350.2 98.9,1352.6 94.9,1355.6 90.9,1358.6 87.4,1362.2 87.5,1366.8 92.2,1368.1 97.1,1367.5 102.0,1366.3 107.0,1366.0 112.0,1366.2 116.8,1364.8 119.0,1363.8" stroke="#0008ff" marker-start="url(#m8)" marker-mid="url(#m8)" marker-end="url(#m8)"/>
<polyline points="119.0,1363.8 123.1,1360.9 126.4,1357.2" stroke="#0018ff" marker-start="url(#m9)" marker-mid="url(#m9)" marker-end="url(#m9)"/>
<polyline points="53.0,1321.9 48.2,1320.8 43.4,1321.9 40.6,1325.9 41.2,1330.8 43.7,1335.1 45.2,1339.8" stroke="#0000b7" marker-start="url(#m3)" marker-mid="url(#m3)" marker-end="url(#m3)"/>
<polyline points="45.2,1339.8 46.5,1344.7 46.7,1349.6 42.7,1352.6 37.8,1353.4 32.9,1354.6 28.0,1355.3 24.3,1358.6 22.4,1363.1 19.2,1366.9 24.0,1368.2 28.5,1370.2 33.5,1369.9 38.1,1368.0 42.9,1366.9 47.4,1369.1 51.4,1372.1" stroke="#0000c7" marker-start="url(#m4)" marker-mid="url(#m4)" marker-end="url(#m4)"/>
<polyline points="51.4,1372.1 56.2,1372.4 60.5,1370.0 63.4,1365.9 65.6,1361.5 63.9,1356.8 62.1,1352.2 59.4,1348.0 58.3,1343.1 57.7,1338.2 56.8,1333.3 54.6,1328.9 50.4,1326.3 45.5,1326.8 43.5,1331.3 41.8,1335.9 39.4,1340.2 38.4,1342.5" stroke="#0000d7" marker-start="url(#m5)" marker-mid="url(#m5)" marker-end="url(#m5)"/>
<polyline points="38.4,1342.5 34.3,1345.4 29.5,1344.4 25.5,1341.4 21.4,1338.6 20.6,1340.2 25.1,1341.2 29.0,1338.1 31.8,1333.9 33.5,1329.2 35.8,1324.9 39.2,1321.3 40.8,1316.6 42.8,1312.0 46.5,1308.7 50.9,1306.5 55.6,1308.0" stroke="#0000e7" marker-start="url(#m6)" marker-mid="url(#m6)" marker-end="url(#m6)"/>
<polyline points="55.6,1308.0 58.5,1312.0 60.7,1316.5 61.6,1321.4 63.6,1326.0 66.1,1330.4 69.5,1333.9 73.3,1337.2 75.4,1341.7 75.7,1346.7 75.9,1351.7 75.6,1356.6 75.3,1361.6 76.7,1366.3 80.5,1369.5 84.9,1371.8 89.7,1370.4" stroke="#0000f7" marker-start="url(#m7)" marker-mid="url(#m7)" marker-end="url(#m7)"/>
<polyline points="89.7,1370.4 92.1,1366.3 89.2,1362.4 84.5,1362.7 81.8,1366.9 79.3,1371.1 75.3,1374.1 71.8,1377.5 69.2,1381.8 67.5,1386.3 69.2,1391.1 71.9,1395.3 75.9,1397.9 80.8,1398.7 85.6,1399.9 90.5,1399.4 95.2,1397.5 97.5,1396.8" stroke="#0008ff" marker-start="url(#m8)" marker-mid="url(#m8)" marker-end="url(#m8)"/>
<polyline points="97.5,1396.8 102.5,1397.1 107.5,1397.3" stroke="#0018ff" marker-start="url(#m9)" marker-mid="url(#m9)" marker-end="url(#m9)"/>
<polyline points="57.3,1315.9 53.5,1312.6" stroke="#0028ff" marker-start="url(#m10)" marker-mid="url(#m10)" marker-end="url(#m10)"/>
<polyline points="53.5,1312.6 48.7,1313.6 45.0,1316.9 41.1,1320.1 36.4,1321.4 31.6,1322.8 27.6,1325.7 23.9,1329.1 19.2,1329.6 23.8,1328.0 28.7,1328.5 33.7,1327.9 36.6,1324.1 35.5,1319.5 30.7,1319.4 28.1,1323.5 27.7,1328.5 27.8,1333.5 28.5,1338.4 30.5,1343.0 33.9,1346.6 38.5,1348.7 43.3,1349.4 47.2,1346.3 49.9,1342.1 52.9,1338.1 57.2,1335.7 61.8,1334.1 63.5,1332.2" stroke="#0038ff" marker-start="url(#m11)" marker-mid="url(#m11)" marker-end="url(#m11)"/>
<polyline points="63.5,1332.2 66.1,1328.0 66.8,1323.0 64.6,1318.6 63.0,1313.9 63.8,1309.0 64.0,1304.0 64.4,1299.0 66.9,1294.9 71.5,1295.4 74.6,1299.3 76.4,1304.0 79.0,1308.2 80.3,1313.1 81.8,1317.8 81.6,1322.7 78.5,1326.6 74.5,1329.6 69.7,1330.9 64.8,1331.9 59.8,1331.9 55.1,1330.3 51.3,1327.1 49.0,1322.7 47.5,1317.9 44.1,1314.4 39.2,1313.5 34.2,1313.2 29.8,1315.1" stroke="#0048ff" marker-start="url(#m12)" marker-mid="url(#m12)" marker-end="url(#m12)"/>
<polyline points="29.8,1315.1 26.7,1319.1 23.2,1322.7 19.6,1326.1 18.0,1330.8 21.2,1334.6 25.0,1337.8 29.4,1340.1 34.2,1341.4 38.9,1343.2 43.8,1343.3 47.9,1340.8" stroke="#0058ff" marker-start="url(#m13)" marker-mid="url(#m13)" marker-end="url(#m13)"/>
<polyline points="86.2,1303.4 88.0,1308.1" stroke="#0028ff" marker-start="url(#m10)" marker-mid="url(#m10)" marker-end="url(#m10)"/>
<polyline points="88.0,1308.1 90.6,1312.3 95.3,1313.8 100.2,1313.6 105.1,1312.6 109.9,1311.0 114.2,1308.5 118.7,1306.6 123.6,1305.7 128.5,1306.5 133.1,1305.1 137.3,1302.3 140.4,1298.4 140.5,1293.5 136.3,1291.3 131.5,1292.7 127.3,1295.4 123.2,1298.2 118.5,1297.9 114.2,1295.5 109.6,1297.5 105.2,1299.8 100.3,1300.5 95.3,1299.8 90.4,1299.1 86.0,1301.3 81.4,1303.2 76.4,1303.3 74.1,1302.3" stroke="#0038ff" marker-start="url(#m11)" marker-mid="url(#m11)" marker-end="url(#m11)"/>
<polyline points="74.1,1302.3 70.3,1299.2 69.4,1294.3 72.9,1291.1 77.7,1292.2 81.8,1294.9 85.8,1297.9 90.2,1300.3 94.7,1302.4 98.5,1305.7 101.9,1309.2 106.7,1310.5 111.6,1309.5 116.6,1310.1 121.6,1310.1 126.6,1309.9 130.3,1306.7 132.1,1302.0 133.7,1297.3 132.9,1292.5 128.3,1291.4 124.4,1294.4 122.4,1299.0 121.7,1303.8 123.7,1308.3 127.3,1311.8 128.4,1316.5 127.1,1321.4 128.1,1326.3" stroke="#0048ff" marker-start="url(#m12)" marker-mid="url(#m12)" marker-end="url(#m12)"/>
<polyline points="128.1,1326.3 128.6,1331.2 131.0,1335.5 134.6,1338.9 138.9,1341.4 141.5,1345.6 140.8,1350.4 136.3,1352.5 131.5,1354.0 128.0,1357.4 126.2,1362.0 126.0,1366.9" stroke="#0058ff" marker-start="url(#m13)" marker-mid="url(#m13)" marker-end="url(#m13)"/>
<polyline points="245.4,1321.2 245.8,1326.2 250.5,1324.8 246.0,1322.8 241.3,1324.3 237.1,1327.0 233.7,1330.6 230.2,1334.2 226.8,1337.9 226.6,1337.8 225.1,1333.1 222.1,1329.0 219.5,1324.8 214.8,1323.6 212.8,1325.1" stroke="#0000c7" marker-start="url(#m4)" marker-mid="url(#m4)" marker-end="url(#m4)"/>
<polyline points="212.8,1325.1 212.7,1329.9 216.0,1333.5 220.6,1335.5 224.8,1338.2 224.3,1341.2 219.8,1343.4 214.8,1343.4 209.8,1343.2 206.1,1340.2 207.0,1335.4 211.5,1333.3 216.4,1332.7 221.2,1331.4 225.5,1328.9 229.5,1325.9 233.0,1322.3 237.6,1320.3 242.4,1319.1 244.9,1323.4 243.7,1326.7 239.1,1328.7 234.8,1331.0 229.8,1331.5 225.0,1332.5 220.2,1333.7 215.2,1333.7 210.2,1333.5 205.4,1332.4 202.8,1328.4 203.8,1323.6 205.4,1321.7" stroke="#0000d7" marker-start="url(#m5)" marker-mid="url(#m5)" marker-end="url(#m5)"/>
<polyline points="205.4,1321.7 210.2,1320.5 215.0,1321.7 217.7,1325.9 216.1,1330.1 211.5,1331.9 207.2,1334.5 206.7,1339.2 210.1,1342.5 214.4,1345.1 214.2,1348.2 209.9,1350.7 205.2,1351.6 203.7,1347.0 203.4,1342.1 202.9,1337.1 206.0,1333.2 210.4,1330.9 215.2,1331.1 219.2,1334.1 219.0,1339.0 217.3,1343.7 214.0,1345.6 209.2,1344.1 204.7,1341.9 203.0,1337.4 203.7,1332.6 208.2,1330.7 213.1,1331.7 217.5,1334.0 222.1,1336.0 223.7,1337.9" stroke="#0000e7" marker-start="url(#m6)" marker-mid="url(#m6)" marker-end="url(#m6)"/>
<polyline points="223.7,1337.9 225.1,1337.3 226.6,1332.5 227.7,1327.6 228.9,1322.8 229.4,1317.8 226.6,1313.7 224.9,1309.1 219.9,1309.1 215.7,1311.7 212.8,1315.7 211.0,1320.4 207.4,1323.9 206.0,1328.6 207.2,1333.4 210.1,1337.4 214.5,1339.5 219.4,1340.7 219.2,1341.9 216.7,1342.1" stroke="#0000f7" marker-start="url(#m7)" marker-mid="url(#m7)" marker-end="url(#m7)"/>
<polyline points="150.4,1360.1 154.7,1357.6 159.7,1357.1 164.7,1356.9 168.9,1354.4 172.8,1351.3 177.2,1348.8 180.4,1345.0 182.3,1340.4 181.7,1335.5 178.7,1331.6 174.0,1332.7 170.4,1336.1 169.6,1340.8 173.1,1344.1 177.9,1345.5 182.9,1346.0 187.5,1344.1 192.1,1342.1 196.5,1339.7 201.1,1337.9 204.3,1334.2 205.8,1329.4 205.1,1324.5 206.7,1319.8 209.6,1315.7 211.3,1311.1 209.5,1306.5 205.6,1303.4 203.5,1302.1" stroke="#0000e7" marker-start="url(#m6)" marker-mid="url(#m6)" marker-end="url(#m6)"/>
<polyline points="203.5,1302.1 198.7,1302.7 195.4,1306.4 193.8,1311.1 193.5,1316.1 194.0,1321.0 195.7,1325.7 198.0,1330.1 199.9,1334.7 199.4,1339.5 194.7,1340.7 190.3,1338.5 186.8,1334.9 183.9,1330.9 181.0,1326.8 179.4,1322.1 179.9,1317.2 183.6,1313.9 188.2,1311.9 193.1,1311.4 196.5,1314.8 197.2,1319.7 196.9,1324.7 195.7,1329.5 192.9,1333.7 188.2,1335.2 183.5,1333.7 180.2,1330.0 176.5,1326.8 171.8,1325.3 167.0,1323.7 162.2,1322.4" stroke="#0000f7" marker-start="url(#m7)" marker-mid="url(#m7)" marker-end="url(#m7)"/>
<polyline points="162.2,1322.4 157.2,1322.3 153.8,1325.8 152.3,1330.5 154.0,1335.1 158.7,1336.2 161.5,1332.4 160.6,1327.6 157.6,1323.6 153.1,1322.4 148.4,1324.1 143.6,1325.0 139.1,1322.8 135.5,1319.3 134.5,1314.5 134.3,1309.5 134.7,1304.6 138.0,1300.9 142.8,1299.5 147.4,1301.3 152.2,1302.7 156.7,1304.7 160.9,1307.4 164.1,1311.0 163.6,1315.9 160.1,1319.5 156.3,1322.7 153.5,1326.8 155.4,1331.3 158.1,1335.4 162.6,1337.5 166.8,1335.4 167.7,1333.0" stroke="#0008ff" marker-start="url(#m8)" marker-mid="url(#m8)" marker-end="url(#m8)"/>
<polyline points="167.7,1333.0 167.2,1328.0 166.7,1323.1 165.9,1318.2 168.4,1313.9" stroke="#0018ff" marker-start="url(#m9)" marker-mid="url(#m9)" marker-end="url(#m9)"/>
<polyline points="200.3,1339.8 197.1,1336.1 195.5,1331.4 196.2,1326.4 193.2,1322.9 188.3,1321.8 183.4,1322.9 178.5,1322.0 173.5,1322.1 168.6,1321.5 165.1,1318.1 160.9,1315.6 156.1,1316.8 152.6,1320.3 151.1,1325.1 150.9,1329.9 154.1,1333.7 159.0,1334.0 164.0,1333.3 168.2,1330.7 172.7,1328.5 177.5,1326.9 182.0,1325.0 185.5,1321.4 187.3,1316.8 186.2,1312.0 182.3,1309.0 177.5,1309.7 173.8,1313.1 172.4,1315.2" stroke="#0000e7" marker-start="url(#m6)" marker-mid="url(#m6)" marker-end="url(#m6)"/>
<polyline points="172.4,1315.2 170.2,1319.6 166.8,1323.2 163.8,1327.2 163.0,1332.1 163.9,1337.1 165.4,1341.8 166.4,1346.6 167.6,1351.4 170.0,1355.8 173.5,1359.2 178.4,1360.1 183.2,1359.4 186.7,1355.8 190.5,1352.6 194.1,1349.1 195.7,1344.4 195.0,1339.6 192.9,1335.1 189.3,1331.7 185.4,1328.7 183.9,1323.9 185.0,1319.1 188.4,1315.5 193.1,1316.2 196.4,1319.9 200.4,1322.9 205.3,1323.4 210.3,1323.2 211.5,1318.7 207.9,1315.5 203.6,1317.7" stroke="#0000f7" marker-start="url(#m7)" marker-mid="url(#m7)" marker-end="url(#m7)"/>
<polyline points="203.6,1317.7 202.5,1322.4 204.2,1327.1 208.1,1330.1 212.2,1332.9 215.2,1336.9 216.8,1341.6 214.6,1344.1 210.5,1346.4 211.3,1346.7 214.3,1342.6 218.5,1340.1 222.9,1337.9 225.7,1333.8 226.0,1328.8 222.4,1325.4 217.5,1325.5 213.3,1328.1 209.8,1331.7 207.6,1336.2 205.4,1340.7 205.1,1345.6 204.9,1350.6 202.9,1353.8 198.0,1354.3 194.1,1357.5 190.3,1360.7 186.7,1364.1 182.4,1366.2 177.4,1366.0 173.3,1363.3 170.2,1359.4 168.6,1357.5" stroke="#0008ff" marker-start="url(#m8)" marker-mid="url(#m8)" marker-end="url(#m8)"/>
<polyline points="168.6,1357.5 164.4,1354.9 159.5,1355.2 155.9,1358.5 152.7,1362.4" stroke="#0018ff" marker-start="url(#m9)" marker-mid="url(#m9)" marker-end="url(#m9)"/>
<polyline points="147.5,1378.6 144.6,1374.5 141.0,1371.1 136.3,1369.4 132.0,1371.7 131.5,1376.6 132.0,1381.6" stroke="#000097" marker-start="url(#m1)" marker-mid="url(#m1)" marker-end="url(#m1)"/>
<polyline points="132.0,1381.6 133.1,1386.5 133.9,1391.4 131.8,1395.9 128.8,1399.8 126.3,1404.2 125.8,1409.1 120.9,1409.8 124.3,1406.2 129.0,1404.8 132.9,1407.7 131.9,1409.7 130.8,1404.9 128.2,1400.8 123.6,1398.9 118.9,1397.2 113.9,1396.9 110.7,1400.4 109.8,1405.3 112.3,1409.5 116.9,1407.5 121.7,1406.4 126.7,1406.6 131.6,1405.6 136.5,1404.8 141.0,1402.8 145.5,1400.8 149.6,1397.9 150.8,1393.2 150.3,1388.2 152.1,1383.6 154.8,1379.4 158.5,1376.1 158.7,1371.3 154.2,1369.5" stroke="#0000a7" marker-start="url(#m2)" marker-mid="url(#m2)" marker-end="url(#m2)"/>
<polyline points="154.2,1369.5 149.5,1371.1 146.0,1374.7 142.7,1378.4 138.9,1381.6 134.4,1383.8 129.7,1385.6 125.0,1387.1 120.3,1385.6 116.4,1382.6 112.5,1379.6 107.5,1379.1 102.7,1380.3 97.7,1379.9 93.3,1377.7 90.3,1373.7 91.0,1368.9 95.7,1367.5 99.9,1369.9 103.3,1373.6 105.7,1377.9 109.4,1381.3 114.2,1381.2 118.5,1378.6 123.1,1380.5 127.7,1382.1 132.6,1383.1 137.3,1381.8 138.7,1377.1 136.0,1373.1 131.1,1372.4 126.2,1371.9 121.3,1370.6 116.6,1371.9 114.7,1373.6" stroke="#0000b7" marker-start="url(#m3)" marker-mid="url(#m3)" marker-end="url(#m3)"/>
<polyline points="114.7,1373.6 111.9,1377.5 112.0,1382.4 112.9,1387.3 110.0,1391.2 105.7,1393.8 102.6,1397.6 103.9,1402.2 108.5,1401.4 112.8,1398.9" stroke="#0000c7" marker-start="url(#m4)" marker-mid="url(#m4)" marker-end="url(#m4)"/>
<polyline points="48.5,1384.9 52.8,1387.5 56.3,1391.0 61.1,1391.8 65.8,1390.1 70.1,1387.6 74.8,1385.8" stroke="#000097" marker-start="url(#m1)" marker-mid="url(#m1)" marker-end="url(#m1)"/>
<polyline points="74.8,1385.8 79.6,1386.7 83.9,1389.2 88.8,1389.6 93.6,1387.9 97.9,1385.5 102.6,1383.6 107.3,1382.1 112.1,1380.6 115.6,1377.1 117.5,1372.5 121.4,1369.4 126.3,1368.8 131.2,1368.1 135.9,1369.7 138.5,1373.9 141.6,1377.7 146.4,1378.4 151.4,1377.8 156.4,1378.4 161.3,1379.0 165.9,1380.7 167.5,1385.4 164.5,1389.4 161.4,1393.3 157.4,1396.0 152.4,1396.6 147.5,1397.5 142.9,1396.0 138.3,1394.0 135.7,1389.9 137.5,1385.3 141.3,1382.0 144.8,1378.6 146.7,1374.0" stroke="#0000a7" marker-start="url(#m2)" marker-mid="url(#m2)" marker-end="url(#m2)"/>
<polyline points="146.7,1374.0 144.7,1369.8 139.8,1370.6 136.6,1374.4 133.3,1378.2 130.4,1382.2 126.7,1385.5 122.0,1387.1 117.1,1386.6 114.1,1382.9 113.1,1378.0 112.7,1373.1 114.5,1368.5 119.2,1367.2 123.7,1369.3 127.1,1372.8 128.6,1377.6 131.6,1381.4 136.5,1382.2 140.8,1380.0 143.9,1376.0 147.9,1373.3 152.4,1375.2 155.5,1379.1 158.7,1383.0 162.3,1386.4 166.6,1388.9 171.4,1390.2 176.2,1389.0 177.6,1384.2 175.9,1379.6 171.8,1376.8 166.9,1375.8 162.0,1375.2 159.5,1375.5" stroke="#0000b7" marker-start="url(#m3)" marker-mid="url(#m3)" marker-end="url(#m3)"/>
<polyline points="159.5,1375.5 154.7,1377.0 150.9,1380.0 151.1,1384.8 154.9,1387.8 159.8,1388.7 164.7,1389.5 169.3,1391.3 174.0,1392.8 179.0,1393.3" stroke="#0000c7" marker-start="url(#m4)" marker-mid="url(#m4)" marker-end="url(#m4)"/>
<polyline points="101.1,1380.3 96.2,1381.2 91.2,1380.7 86.2,1380.7 81.4,1381.8 76.8,1383.7 73.0,1386.9" stroke="#000097" marker-start="url(#m1)" marker-mid="url(#m1)" marker-end="url(#m1)"/>
<polyline points="73.0,1386.9 69.0,1389.7 64.4,1388.1 63.3,1383.4 63.3,1378.4 63.0,1373.4 65.6,1369.3 70.0,1367.0 74.8,1365.6 79.7,1366.4 84.5,1367.8 89.3,1368.9 94.0,1370.6 98.7,1372.5 103.1,1374.8 107.2,1377.6 111.4,1380.4 115.9,1382.4 120.6,1384.0 125.6,1383.9 130.6,1384.5 135.5,1384.3 140.1,1385.8 142.2,1390.2 139.1,1393.5 134.5,1391.9 130.0,1389.6 125.3,1388.1 120.5,1389.2 115.7,1390.6 110.9,1392.1 106.0,1392.7 102.4,1389.3 101.9,1384.4 105.3,1381.0" stroke="#0000a7" marker-start="url(#m2)" marker-mid="url(#m2)" marker-end="url(#m2)"/>
<polyline points="105.3,1381.0 109.6,1378.5 113.2,1375.0 115.6,1370.6 119.5,1367.7 124.2,1369.0 127.7,1372.6 131.6,1375.7 133.1,1380.3 130.7,1384.7 126.2,1386.9 121.9,1389.3 118.2,1392.7 116.1,1397.2 113.0,1401.2 110.5,1405.5 108.3,1409.9 112.9,1408.2 117.4,1406.0 121.7,1403.4 126.0,1400.8 129.1,1397.0 131.2,1392.4 133.7,1388.1 133.8,1383.1 136.5,1379.0 141.2,1377.3 145.9,1378.6 150.8,1379.7 155.8,1379.7 160.6,1378.3 165.5,1378.8 170.3,1380.4 175.0,1382.0 176.4,1384.0" stroke="#0000b7" marker-start="url(#m3)" marker-mid="url(#m3)" marker-end="url(#m3)"/>
<polyline points="176.4,1384.0 177.8,1388.8 180.1,1393.2 183.8,1396.6 186.9,1400.5 189.8,1404.5 193.8,1407.6 194.3,1407.2 192.5,1402.6 193.0,1397.6" stroke="#0000c7" marker-start="url(#m4)" marker-mid="url(#m4)" marker-end="url(#m4)"/>
<polyline points="162.3,1388.0 164.3,1383.5 168.1,1380.3 172.0,1377.2 173.6,1372.6 171.4,1368.1 166.7,1366.5" stroke="#000097" marker-start="url(#m1)" marker-mid="url(#m1)" marker-end="url(#m1)"/>
<polyline points="166.7,1366.5 161.9,1367.6 158.2,1370.9 155.2,1374.9 154.0,1379.7 153.0,1384.6 152.0,1389.5 149.0,1393.4 144.4,1395.0 140.2,1392.7 139.1,1387.9 140.1,1383.0 138.1,1378.6 136.1,1374.1 132.9,1370.2 128.1,1369.3 123.9,1371.9 121.0,1376.0 119.3,1380.7 119.1,1385.6 120.2,1390.5 122.0,1395.1 126.4,1397.2 131.1,1395.5 134.7,1392.2 138.3,1388.7 141.3,1384.7 143.1,1380.2 143.2,1375.2 141.0,1370.7 136.3,1369.1 131.4,1368.7 128.5,1372.6 129.7,1377.4 130.5,1382.3" stroke="#0000a7" marker-start="url(#m2)" marker-mid="url(#m2)" marker-end="url(#m2)"/>
<polyline points="130.5,1382.3 131.8,1387.1 132.6,1392.1 130.4,1396.2 125.5,1396.8 121.1,1394.7 120.0,1389.9 123.5,1386.4 127.7,1383.7 131.1,1380.0 135.4,1377.6 140.3,1376.8 145.1,1375.5 148.7,1378.5 146.8,1382.9 142.3,1385.1 137.4,1385.3 132.9,1387.5 128.0,1388.6 123.2,1387.5 118.3,1386.9 113.7,1389.0 111.5,1393.4 109.2,1397.9 105.1,1400.5 100.7,1402.5 98.0,1406.7 98.8,1407.6 103.1,1405.2 106.8,1401.8 110.0,1398.1 113.7,1394.6 118.1,1392.3 121.8,1388.9 123.0,1386.8" stroke="#0000b7" marker-start="url(#m3)" marker-mid="url(#m3)" marker-end="url(#m3)"/>
<polyline points="123.0,1386.8 122.8,1381.8 120.8,1377.2 121.3,1372.4 125.4,1369.7 130.3,1370.6 134.1,1373.7 137.1,1377.7 136.3,1382.5 132.1,1385.2" stroke="#0000c7" marker-start="url(#m4)" marker-mid="url(#m4)" marker-end="url(#m4)"/>
<polyline points="188.7,1384.8 191.6,1388.9 195.2,1392.3 199.2,1395.3 204.0,1396.5 208.9,1395.8 213.3,1397.8" stroke="#000097" marker-start="url(#m1)" marker-mid="url(#m1)" marker-end="url(#m1)"/>
<polyline points="213.3,1397.8 216.4,1401.7 220.3,1404.7 224.4,1407.6 228.6,1408.2 233.0,1405.9 237.9,1405.0 241.8,1406.2 240.8,1409.7 235.9,1409.2 233.8,1404.7 229.7,1401.9 225.8,1398.9 224.4,1394.3 221.0,1390.7 216.5,1388.6 211.6,1387.6 207.0,1389.1 206.0,1393.8 207.6,1398.5 208.7,1403.4 210.2,1408.1 213.0,1406.5 213.9,1401.6 216.2,1397.1 217.1,1392.2 216.3,1387.5 211.4,1386.5 206.8,1388.6 202.0,1389.8 197.2,1391.2 192.3,1392.1 187.3,1391.8 182.4,1391.7 177.9,1394.0" stroke="#0000a7" marker-start="url(#m2)" marker-mid="url(#m2)" marker-end="url(#m2)"/>
<polyline points="177.9,1394.0 174.0,1397.1 169.5,1399.3 165.1,1401.6 160.5,1403.4 156.3,1406.1 157.7,1407.9 162.4,1406.7 165.8,1403.0 170.3,1400.9 174.4,1398.1 176.5,1393.5 179.1,1389.3 183.3,1387.2 187.1,1390.4 190.3,1394.2 194.0,1397.5 198.9,1398.0 203.6,1396.3 207.0,1392.7 211.4,1390.4 216.1,1390.7 218.5,1394.8 216.4,1399.3 214.3,1403.8 213.7,1408.7 209.8,1407.3 205.9,1404.3 201.6,1401.7 197.6,1398.8 193.0,1396.9 188.6,1394.5 183.7,1394.0 179.5,1396.6 177.9,1398.5" stroke="#0000b7" marker-start="url(#m3)" marker-mid="url(#m3)" marker-end="url(#m3)"/>
<polyline points="177.9,1398.5 174.0,1401.6 169.7,1404.2 165.1,1406.0 160.7,1403.7 156.8,1400.5 154.0,1396.5 152.7,1391.7 151.0,1387.0 147.7,1383.3" stroke="#0000c7" marker-start="url(#m4)" marker-mid="url(#m4)" marker-end="url(#m4)"/>
<polyline points="378.5,790.0 382.1,793.1 387.1,793.0 391.9,794.0 396.9,793.5 401.6,791.8 402.6,787.3 398.1,785.9 393.2,787.0 388.5,788.6" stroke="#c70000" marker-start="url(#m59)" marker-mid="url(#m59)" marker-end="url(#m59)"/>
<polyline points="388.5,788.6 384.9,792.1 384.4,797.0 386.5,801.5 389.8,805.3 390.1,810.0 385.7,811.9 381.1,810.2 376.7,807.9 371.8,807.1 366.8,806.8 362.8,803.8 358.3,801.6 353.7,799.8 351.4,795.6 351.1,790.7 351.9,785.9 356.1,783.4 361.1,783.4 365.2,786.1 367.1,790.7 366.8,795.6" stroke="#b70000" marker-start="url(#m60)" marker-mid="url(#m60)" marker-end="url(#m60)"/>
<polyline points="365.2,827.3 360.8,825.0 357.4,821.4 356.7,816.5 356.6,811.5 357.0,806.5 358.3,801.8 362.8,799.6 367.7,800.6 372.6,801.1 376.8,803.8 381.4,805.6 385.9,807.8 388.5,812.0 388.2,816.9 384.2,819.3 380.4,816.2 379.7,811.3 382.8,807.5 387.0,804.9 391.8,805.4 396.1,807.9 400.6,810.0 405.3,811.9 409.8,814.0 414.2,816.3 417.9,819.4 420.2,823.9 422.1,828.5 421.1,833.3 417.5,836.7 413.0,838.8 409.2,842.0 405.8,845.6 401.4,847.9 396.4,847.5 391.9,845.6 388.9,841.6 385.4,838.0 380.9,835.9 376.0,835.8 371.7,838.4 368.8,842.4 368.0,847.3 369.3,852.1 372.2,856.2" stroke="#c70000" marker-start="url(#m59)" marker-mid="url(#m59)" marker-end="url(#m59)"/>
<polyline points="372.2,856.2 374.9,860.4 378.2,864.2 382.6,866.4 387.5,867.2 392.5,867.0 396.6,864.4 398.9,860.0 397.5,855.3 394.0,851.7 390.1,848.6 386.4,845.3 383.8,841.0 381.3,836.7 380.5,831.8 378.2,827.3 373.4,826.1 368.5,827.0 363.8,828.2 359.2,830.1 354.9,832.7 350.6,835.2 345.6,835.1 340.6,834.6 335.8,835.6 331.8,838.5 332.2,843.2 336.2,846.0 341.0,847.4 345.8,846.4 350.8,846.8 355.5,845.2 360.2,843.6 364.8,841.7" stroke="#b70000" marker-start="url(#m60)" marker-mid="url(#m60)" marker-end="url(#m60)"/>
<polyline points="338.7,834.2 335.2,830.9 332.8,826.8 333.4,821.9 337.5,819.1 341.6,816.3 345.9,813.8 350.5,811.7 355.0,809.5 359.9,810.3 364.1,813.0 368.1,816.0 370.9,820.1 373.4,824.3 377.7,827.0 380.1,831.2 379.1,836.0 375.1,839.0 370.1,839.1 366.1,836.4 362.6,832.8 358.6,829.8 353.8,828.7 350.0,825.5 348.1,820.9 344.9,817.1 340.4,818.3 339.7,823.1 342.3,827.3 345.0,831.6 347.0,836.1 347.4,841.1 347.2,846.1 346.0,850.9 342.1,853.1 339.1,849.2 339.6,844.2 341.3,839.6 344.9,836.1 349.1,833.5 354.1,832.9 359.0,832.3 363.9,832.9 368.0,835.7 370.1,840.2 372.8,844.4" stroke="#c70000" marker-start="url(#m59)" marker-mid="url(#m59)" marker-end="url(#m59)"/>
<polyline points="372.8,844.4 376.8,847.4 381.2,849.7 386.1,849.5 390.2,846.5 393.5,842.8 398.3,842.2 403.2,843.0 408.0,844.4 410.9,848.3 409.3,852.8 404.4,853.9 399.4,854.2 395.5,856.8 395.2,861.8 392.3,865.7 387.5,866.5 383.5,864.0 379.8,860.6 374.9,861.1 370.8,863.9 366.6,866.5 361.8,865.7 359.7,861.2 359.2,856.3 360.7,851.6 363.9,847.9 367.9,844.8 372.3,842.5 377.2,841.7 382.2,841.3 387.0,842.3 388.2,847.0 388.9,851.9" stroke="#b70000" marker-start="url(#m60)" marker-mid="url(#m60)" marker-end="url(#m60)"/>
<polyline points="418.4,954.3 413.9,952.2 409.2,953.7 405.0,956.3 400.2,955.7 397.2,951.7 396.6,946.8 397.7,942.0 399.5,937.3 401.1,932.6 404.3,928.7 407.6,925.1 410.4,920.9 410.8,916.1 407.4,912.7 402.4,912.5 397.7,911.2 396.6,906.6 399.7,902.7 402.9,898.9 405.2,894.4 407.9,890.3 409.4,885.6 410.6,880.8 411.7,875.9 411.1,871.0 409.9,866.1 408.6,861.3 405.6,857.4 400.8,857.4 398.1,861.5 397.4,866.4 398.9,871.1 401.8,875.2 404.5,879.4 408.5,882.1 413.4,882.9 417.3,880.0 419.7,875.7 421.1,870.8 421.1,865.9 423.0,861.3 424.1,856.5 424.1,851.5 423.1,846.6 419.5,843.1 415.6,840.0 411.4,837.4 407.4,834.5 402.7,835.9 401.2,840.5 401.2,845.5 401.5,850.5 401.7,855.5 400.5,860.3 399.7,865.3 399.0,870.2 399.0,875.2 400.9,879.8 402.7,881.5" stroke="#c70000" marker-start="url(#m59)" marker-mid="url(#m59)" marker-end="url(#m59)"/>
<polyline points="402.7,881.5 406.7,884.4 411.7,885.0 416.6,884.4 421.5,885.5 422.0,888.7 417.9,891.7 415.5,896.0 414.7,900.9 412.8,905.4 408.3,907.5 404.0,905.6 404.5,900.8 407.6,896.9 411.7,894.4 415.5,897.5 418.0,901.8 422.2,904.5 424.5,902.8 422.1,898.4 419.8,894.0 416.0,890.8 411.7,888.2 409.9,886.5" stroke="#b70000" marker-start="url(#m60)" marker-mid="url(#m60)" marker-end="url(#m60)"/>
<polyline points="344.2,892.3 345.4,897.1 346.3,902.0 344.5,906.6 339.8,907.2 335.0,906.0 330.1,905.2 325.4,906.2 321.1,908.9 316.3,908.1 312.7,904.7" stroke="#c70000" marker-start="url(#m59)" marker-mid="url(#m59)" marker-end="url(#m59)"/>
<polyline points="312.7,904.7 312.4,899.9 315.2,896.0 320.1,895.5 323.6,898.9 325.9,903.3 328.5,907.6 331.3,911.5 335.9,913.3 340.6,912.1 344.1,908.5 346.4,904.1 345.7,899.2 345.2,894.2 344.8,889.2 346.9,884.8 351.0,881.9 354.3,878.2 356.6,873.9 354.7,869.4 350.4,866.9 346.4,863.8 342.4,861.0 337.8,862.3 333.6,865.0 328.6,865.5 323.8,867.0 319.3,869.2 314.5,870.6 309.6,870.2 306.1,873.7 307.6,878.2 311.6,881.2 315.9,883.7 317.4,885.7" stroke="#b70000" marker-start="url(#m60)" marker-mid="url(#m60)" marker-end="url(#m60)"/>
<polyline points="283.8,920.0 286.1,924.5 288.1,929.0 292.3,931.0 297.3,931.7 302.2,932.3 307.1,933.5 311.0,930.5 312.2,925.7 313.1,920.8 314.8,916.1 319.5,914.8 323.7,917.5 326.2,921.8 325.7,926.7 321.4,929.0 316.8,927.3 312.2,928.7 309.4,932.8 307.6,937.5 305.1,941.8 304.1,944.1" stroke="#d70000" marker-start="url(#m58)" marker-mid="url(#m58)" marker-end="url(#m58)"/>
<polyline points="304.1,944.1 301.0,947.8 296.3,947.8 291.9,945.4 287.3,943.6 282.3,944.1 278.0,941.8 276.2,937.2 277.8,932.6 282.6,931.6 286.4,934.6 286.7,939.6 286.6,944.6 283.6,948.4 278.8,949.4 274.5,946.9 273.5,942.2 275.7,937.7 277.5,936.0" stroke="#c70000" marker-start="url(#m59)" marker-mid="url(#m59)" marker-end="url(#m59)"/>
<polyline points="219.3,947.1 220.6,942.3 220.8,939.8" stroke="#b70000" marker-start="url(#m60)" marker-mid="url(#m60)" marker-end="url(#m60)"/>
<polyline points="220.8,939.8 220.4,934.8 223.0,930.6 227.6,931.5 231.5,934.6 236.5,935.0 240.6,932.4 245.0,930.0 249.3,932.4 253.9,934.4 258.8,935.2 262.7,938.3 264.2,943.0 264.5,948.0 264.7,953.0 264.5,957.9 260.5,960.6 255.6,961.2 250.7,960.1 245.8,959.3 241.7,956.4 239.0,952.2 237.4,947.5 233.7,944.3 228.7,943.8" stroke="#a70000" marker-start="url(#m61)" marker-mid="url(#m61)" marker-end="url(#m61)"/>
<polyline points="228.7,943.8 224.0,942.3 220.8,938.5 219.9,933.6 223.9,930.8" stroke="#970000" marker-start="url(#m62)" marker-mid="url(#m62)" marker-end="url(#m62)"/>
<polyline points="298.7,965.2 300.0,969.7 297.5,974.0 292.9,976.0 288.0,976.4 283.0,975.7 278.4,973.9 275.6,969.9 277.3,965.2 281.4,962.7 286.4,962.4 290.3,965.1 289.7,970.0 286.5,973.7 281.7,975.1 276.7,974.9 271.8,973.8 269.0,969.7 270.3,965.1 272.2,963.4" stroke="#b70000" marker-start="url(#m60)" marker-mid="url(#m60)" marker-end="url(#m60)"/>
<polyline points="272.2,963.4 277.1,962.9 282.1,963.0 286.1,960.2 289.8,956.9 294.0,954.5 299.0,954.9 303.8,956.2 307.7,959.3 310.7,963.3 312.9,967.7 313.6,972.7 312.7,977.6 309.2,980.9 304.3,981.3 299.4,980.2" stroke="#a70000" marker-start="url(#m61)" marker-mid="url(#m61)" marker-end="url(#m61)"/>
<polyline points="408.4,927.6 403.6,928.4 398.8,927.2 394.0,927.3 389.5,929.5 386.3,933.3 384.0,937.8 381.7,942.2 379.4,946.6 378.0,951.3 377.7,956.3 380.1,960.6 384.8,961.9 389.7,960.8 393.9,958.3 393.7,953.4 389.4,951.2 384.4,951.0 379.6,949.6 374.7,949.3 369.7,949.9 365.5,952.5 361.6,955.6 357.3,958.0 352.3,957.5 348.1,954.9 347.5,950.1 348.8,945.3 348.5,940.4 346.8,935.7 346.0,930.8 346.3,925.8 346.6,920.9 350.6,917.9 354.0,914.5 356.2,910.0 358.2,905.4 358.1,900.4 360.9,896.5 365.5,897.9 367.4,902.4 369.9,906.6 373.8,909.7 377.2,913.2 381.4,915.7 386.4,916.1 391.2,914.6 395.8,912.9 400.3,910.6 404.5,907.9 409.0,905.9 414.0,906.0 418.9,906.0 423.1,903.3 424.9,898.9 424.3,894.0 420.4,891.1 416.6,887.8 412.5,885.1 407.9,886.7 404.5,890.3" stroke="#00f7ff" marker-start="url(#m23)" marker-mid="url(#m23)" marker-end="url(#m23)"/>
<polyline points="404.5,890.3 403.2,895.0 402.3,899.9 400.6,904.6 398.5,909.1 399.4,914.0 401.3,918.6 403.2,923.3 402.7,928.2 399.6,932.1 395.6,935.1 391.4,937.7 388.6,941.8 384.2,944.1 379.2,944.0 374.8,941.9 370.7,939.1 366.4,936.5 362.2,933.7 357.5,932.1 352.9,930.3 351.9,925.9 354.6,921.8 359.1,919.6 363.4,917.3 364.1,912.3 362.3,907.7 358.0,905.5" stroke="#08fff7" marker-start="url(#m24)" marker-mid="url(#m24)" marker-end="url(#m24)"/>
<polyline points="395.4,934.9 390.9,933.3 385.9,933.5 381.2,935.1 376.3,935.8 372.6,932.5 368.5,929.6 365.0,926.1 361.2,922.9 356.2,922.0 352.2,919.1 348.6,915.6 344.1,913.4 339.2,912.9 335.2,915.9 333.0,920.3 333.0,925.2 333.8,930.2 335.3,934.9 338.8,938.2 343.8,937.8 348.6,936.5 353.5,936.7 356.6,940.3 357.4,945.2 356.3,950.1 353.2,953.4 351.4,949.2 355.0,945.8 359.0,942.8 362.2,939.0 367.0,937.9 371.7,939.6 376.5,941.0 380.3,944.2 380.9,949.1 378.9,953.7 375.9,957.6 377.8,962.1 382.2,964.5 387.1,964.8 392.1,965.1 396.7,963.0 401.3,961.2 406.0,959.4 408.5,955.1 408.9,950.3 408.3,945.4 405.6,941.2 401.1,939.1 396.1,939.0 391.7,941.1 388.6,945.1 385.8,949.2 381.5,951.6 376.6,950.8 371.7,951.0 366.7,950.9 361.7,950.9 357.3,953.0 356.7,957.9" stroke="#00f7ff" marker-start="url(#m23)" marker-mid="url(#m23)" marker-end="url(#m23)"/>
<polyline points="356.7,957.9 359.4,962.0 364.2,962.2 368.5,959.7 372.8,957.2 377.1,954.5 381.9,954.6 385.8,957.7 388.6,961.8 392.8,963.5 396.4,960.3 398.4,955.7 401.1,951.5 405.8,950.5 410.7,951.7 415.5,952.7 419.0,949.6 417.7,944.8 418.9,940.4 423.6,938.8 420.2,935.2 416.2,932.3 412.1,929.4 408.4,926.2 407.9,921.2 408.2,916.2 408.9,911.3 408.7,906.3" stroke="#08fff7" marker-start="url(#m24)" marker-mid="url(#m24)" marker-end="url(#m24)"/>
<polyline points="400.4,907.6 400.4,902.7 399.9,897.7 401.9,893.3 406.8,892.5 411.8,892.4 416.7,893.0 421.6,893.7 423.7,890.7 423.6,885.7 421.6,881.2 417.9,877.9 413.5,875.4 409.5,872.5 404.7,871.3 399.7,871.2 394.7,871.0 389.7,870.9 384.9,872.2 380.4,874.3 377.1,878.0 373.4,881.4 369.6,884.6 368.8,889.4 368.2,894.4 366.1,898.9 364.3,903.5 361.1,907.3 361.8,911.7 366.7,912.8 371.0,915.4 374.2,919.2 378.7,921.2 382.6,918.5 383.4,913.6 381.0,909.3 378.2,905.1 374.9,901.4 373.0,896.8 368.7,894.8 363.7,894.9 358.9,896.5 354.1,896.1 351.3,892.1 351.7,887.1 351.4,882.1 349.9,877.4 345.1,877.7 342.8,882.1 340.8,886.7 338.1,890.8 334.2,893.9 331.4,898.1 330.3,902.9 330.9,907.8 335.4,909.7 339.6,907.2 342.7,903.3 345.4,899.1 349.7,897.0 354.7,897.0" stroke="#00f7ff" marker-start="url(#m23)" marker-mid="url(#m23)" marker-end="url(#m23)"/>
<polyline points="354.7,897.0 359.5,898.4 361.6,902.7 361.7,907.7 362.6,912.6 364.4,917.3 364.7,922.2 363.2,927.0 363.5,932.0 362.4,936.9 361.7,941.8 360.4,946.5 356.3,948.9 352.4,946.1 352.0,941.2 355.5,937.6 359.4,934.6 363.9,932.6 368.6,930.8 373.4,929.5 377.7,927.0 382.3,925.0 385.7,921.4 389.5,918.1 394.1,916.5 398.6,918.7 403.2,920.6 408.1,921.7" stroke="#08fff7" marker-start="url(#m24)" marker-mid="url(#m24)" marker-end="url(#m24)"/>
<polyline points="403.3,932.1 398.6,933.9 393.7,933.4 389.4,930.9 384.5,931.0 380.8,934.4 377.0,937.6 372.1,938.9 367.3,939.9 362.4,939.4 357.4,939.2 352.5,940.2 347.5,940.2 342.9,938.3 338.5,935.9 333.7,934.5 330.9,930.5 330.7,925.5 333.0,921.2 337.3,918.8 342.3,918.1 347.2,918.7 352.2,918.4 356.9,916.8 361.7,915.3 366.6,914.3 371.4,913.3 374.4,909.5 376.1,904.8 377.0,899.9 379.4,895.5 382.6,891.7 384.5,887.2 383.5,882.4 379.1,880.0 375.2,877.1 372.0,873.2 367.7,870.8 362.8,871.8 358.0,872.7 353.0,872.3 348.1,873.2 343.6,875.4 340.4,879.1 340.0,884.0 342.5,888.3 346.2,891.6 350.6,894.0 354.3,897.3 357.2,901.4 360.1,905.5 364.6,907.5 369.3,908.9 373.7,911.0 378.5,912.7 383.2,914.3 388.1,915.2 392.5,917.6 394.8,921.9 394.8,926.9 392.3,931.1" stroke="#00f7ff" marker-start="url(#m23)" marker-mid="url(#m23)" marker-end="url(#m23)"/>
<polyline points="392.3,931.1 387.4,931.8 382.8,930.1 380.4,925.7 377.2,921.9 372.3,921.6 367.9,923.8 365.4,928.1 366.1,932.9 368.6,937.2 367.9,942.0 363.6,944.4 358.7,944.7 353.7,944.5 348.7,943.9 345.2,940.7 345.0,935.8 344.8,930.8 344.8,925.8 342.1,921.6 338.2,918.5 334.0,915.8 334.1,911.3 338.5,909.0 343.4,908.9 347.9,910.8 352.3,913.1 357.1,914.5" stroke="#08fff7" marker-start="url(#m24)" marker-mid="url(#m24)" marker-end="url(#m24)"/>
<polyline points="339.5,966.2 336.0,969.6 334.4,974.3 334.5,979.2 337.9,982.8 341.8,986.0 345.3,989.6 349.6,992.0 352.4,996.1 352.3,1001.0 351.4,1005.9 348.5,1009.7 343.8,1008.9 340.7,1005.0 337.8,1000.9 334.6,997.1 330.2,994.8 325.3,994.1 320.9,996.5 316.3,998.4 311.4,997.7 306.8,995.7 302.8,992.8 300.4,988.5 299.4,983.6 296.7,979.5 294.2,975.3 293.4,970.4 294.6,965.6 297.0,961.2 301.5,959.0 305.5,956.1 307.4,954.5" stroke="#00f7ff" marker-start="url(#m23)" marker-mid="url(#m23)" marker-end="url(#m23)"/>
<polyline points="307.4,954.5 311.2,951.3 312.9,946.7 313.0,941.7 313.3,936.7 313.1,931.7 315.7,927.6 320.6,927.2 323.8,930.8 321.5,935.0 317.1,937.2 312.1,938.1 307.3,936.8 302.3,937.2 299.9,941.2 300.7,946.1 302.1,950.8 299.5,955.0 295.4,957.9 294.7,962.7 294.2,967.7 292.8,972.5 292.7,977.4 296.3,980.9 297.8,985.6 294.4,988.3 290.4,985.5 288.0,981.1 287.7,976.4 291.3,972.9 291.7,968.0 292.3,963.1 291.9,958.1 290.4,953.4 288.7,948.6 289.4,943.7 292.4,939.9 297.1,940.1 299.4,944.4 297.2,948.8 293.8,952.5 292.2,954.4" stroke="#08fff7" marker-start="url(#m24)" marker-mid="url(#m24)" marker-end="url(#m24)"/>
<polyline points="373.9,963.5 371.7,967.9 373.2,972.7 374.7,977.4 375.8,982.3 374.0,986.9 370.0,989.9 365.4,991.7 360.6,992.9 355.6,992.5 353.4,988.2 351.4,983.7 348.9,979.4 345.5,975.7 343.5,971.1 343.3,966.1 342.7,961.2 341.2,956.5 338.6,952.2 336.0,947.9 333.9,943.4 332.6,938.6 330.2,934.2 325.9,931.7 320.9,931.4 317.1,934.5 313.3,937.6 308.3,937.3 305.4,933.6 308.5,929.8 313.0,927.7 317.7,928.8 319.6,930.4" stroke="#00f7ff" marker-start="url(#m23)" marker-mid="url(#m23)" marker-end="url(#m23)"/>
<polyline points="319.6,930.4 322.5,934.5 323.3,939.4 319.8,942.7 314.8,942.2 312.9,937.9 316.9,935.4 321.6,937.2 325.6,940.1 327.7,944.6 327.2,949.6 328.1,954.5 330.1,959.0 334.2,961.9 339.0,960.7 343.1,957.7 347.1,954.7 348.4,950.0 344.7,947.1 340.2,948.7 339.4,953.5 342.1,957.5 345.7,961.0 350.3,962.7 355.1,961.4 359.9,960.8 363.8,963.9 366.4,968.1 369.3,971.9 374.3,971.6 378.9,969.9 379.8,965.1 378.3,960.4 374.5,957.2 369.6,956.1 364.7,955.2 360.1,957.0 356.5,960.5 355.2,965.3 354.4,970.2 352.9,974.9 350.9,976.4" stroke="#08fff7" marker-start="url(#m24)" marker-mid="url(#m24)" marker-end="url(#m24)"/>
<polyline points="377.0,1039.2 372.2,1037.8 370.1,1033.5 369.9,1028.5 370.7,1023.6 375.1,1021.8 379.9,1022.8 382.8,1026.7 382.1,1031.6 378.5,1034.9 374.0,1036.9 369.0,1037.2 364.4,1035.3 361.2,1031.5 360.9,1026.6 362.9,1022.0 364.3,1017.2 367.5,1013.3 369.8,1009.0 368.2,1004.3 364.0,1002.0 359.4,1004.0 355.1,1006.4 350.2,1007.3 345.5,1005.8 341.0,1003.5 338.4,999.3 334.2,996.9 329.6,998.6 326.1,1002.2 324.4,1006.8 325.7,1011.6 327.1,1016.4 329.0,1021.1 327.1,1025.5 322.2,1025.8 317.3,1025.1 312.3,1025.4 307.6,1027.1 303.1,1029.2 298.7,1031.6 294.2,1033.5 289.3,1033.1 284.6,1031.5" stroke="#28ffd7" marker-start="url(#m26)" marker-mid="url(#m26)" marker-end="url(#m26)"/>
<polyline points="284.6,1031.5 279.8,1030.3 274.8,1030.0 269.9,1030.5 265.3,1028.7 265.7,1023.8 268.2,1019.6 273.0,1018.3 278.0,1018.0 283.0,1018.1 287.9,1019.0 292.5,1017.5 294.7,1013.1 295.0,1008.1 294.0,1003.2 294.4,998.2 296.5,993.8 301.3,992.4 306.3,992.8 311.0,994.5 313.8,998.6 316.5,1002.7 320.8,1005.2 325.7,1005.8 330.7,1005.6 335.6,1004.7 340.6,1004.1 345.5,1005.0 349.8,1007.4 353.8,1010.4 358.5,1011.9 362.5,1014.7 363.8,1019.5 365.8,1024.1 368.8,1028.1 372.9,1030.9 374.6,1035.3 372.0,1039.6 368.5,1043.1 364.8,1046.4 360.3,1048.4 355.6,1050.2 350.8,1051.3 345.9,1050.5 342.0,1047.3 340.6,1042.6 342.0,1037.8 345.4,1034.1 349.8,1032.1 354.1,1034.5 357.1,1038.5 360.9,1041.7 364.8,1044.7 369.7,1044.7 371.9,1043.4" stroke="#38ffc7" marker-start="url(#m27)" marker-mid="url(#m27)" marker-end="url(#m27)"/>
<polyline points="371.9,1043.4 375.0,1039.5 378.5,1036.0" stroke="#48ffb7" marker-start="url(#m28)" marker-mid="url(#m28)" marker-end="url(#m28)"/>
<polyline points="352.9,1025.7 355.4,1021.5 358.6,1017.8 363.5,1017.6 368.1,1019.6 372.9,1020.9 377.7,1019.7 382.7,1019.7 387.5,1021.2 392.4,1020.5 395.7,1017.0 396.0,1012.0 392.1,1009.1 388.2,1006.1 383.9,1003.8 379.2,1002.2 374.5,1000.5 370.4,1003.0 367.1,1006.7 362.7,1009.0 357.7,1009.2 353.0,1010.9 348.8,1013.6 345.8,1017.6 341.7,1020.3 336.7,1020.1 331.8,1019.0 327.3,1017.1 322.6,1015.4 317.9,1016.6 314.5,1020.2 312.3,1024.7 309.0,1028.4 306.6,1032.8 305.1,1037.6 302.8,1041.9 299.3,1045.4 295.9,1049.0 292.8,1052.9 290.0,1057.0 289.2,1061.9 292.3,1065.6 297.0,1064.6 299.8,1060.6" stroke="#28ffd7" marker-start="url(#m26)" marker-mid="url(#m26)" marker-end="url(#m26)"/>
<polyline points="299.8,1060.6 301.9,1056.1 306.1,1053.4 310.7,1054.8 314.3,1058.3 317.3,1062.3 321.6,1062.9 322.9,1058.2 319.6,1054.7 314.9,1055.8 310.6,1058.1 305.6,1058.7 300.8,1057.3 297.2,1053.9 294.6,1049.7 293.7,1044.8 296.5,1040.7 300.6,1037.9 305.1,1035.6 309.8,1033.9 313.0,1030.2 315.6,1025.9 320.0,1023.6 323.9,1020.5 327.8,1017.4 332.2,1015.1 337.2,1015.0 341.4,1017.5 341.2,1022.4 337.8,1026.0 334.3,1029.6 329.5,1029.7 324.8,1027.9 319.9,1028.0 315.0,1029.1 310.3,1030.6 305.9,1028.6 303.4,1024.3 301.3,1019.7 299.5,1015.1 298.9,1010.1 298.6,1005.1 295.2,1001.9 290.6,1003.4 289.3,1008.2 289.1,1013.2 287.0,1017.7 286.1,1022.5 285.2,1027.3 282.0,1031.1 277.1,1031.7 272.3,1033.1 268.2,1036.0 265.5,1040.1 265.0,1042.6" stroke="#38ffc7" marker-start="url(#m27)" marker-mid="url(#m27)" marker-end="url(#m27)"/>
<polyline points="265.0,1042.6 263.7,1047.3 260.2,1050.8" stroke="#48ffb7" marker-start="url(#m28)" marker-mid="url(#m28)" marker-end="url(#m28)"/>
<polyline points="400.5,1008.0 396.3,1005.4 392.0,1003.0 389.5,998.8 391.6,994.4 394.2,990.1 395.0,985.3 391.3,983.3 390.7,987.7 394.4,991.0 396.9,995.3 399.4,999.7 402.2,1003.8 403.4,1008.6 403.7,1013.6 405.0,1018.4 408.6,1021.7 413.3,1020.0 417.0,1016.8 418.5,1012.0 420.3,1007.4 424.5,1004.8 425.0,1009.8 423.2,1014.4 423.9,1019.3 421.0,1015.2 418.9,1010.7 417.5,1006.0 419.8,1001.6 423.4,998.2 423.9,994.0 422.4,989.2 420.7,984.5 420.6,979.6 421.5,974.7 421.3,969.8 419.1,965.4 414.2,966.0 411.2,969.9 409.2,974.5 408.7,979.5 407.4,984.3 403.6,987.5 398.9,986.5 394.6,984.0 390.8,986.6 390.0,991.5 390.4,996.5 392.4,1001.1 394.8,1005.5 397.8,1009.5 400.5,1013.7 403.4,1017.7 405.2,1022.4 406.9,1027.1 408.8,1031.7 412.1,1035.3 417.0,1035.9 421.5,1033.9 424.0,1029.6 422.7,1025.0 423.3,1020.5 421.3,1016.0 419.0,1011.5 415.0,1008.8 410.1,1009.8 405.5,1011.5 401.3,1014.3 398.7,1018.5 398.6,1023.2 399.2,1028.1 394.9,1030.4 391.6,1026.9 391.6,1021.9 392.2,1016.9 394.1,1012.3 396.7,1008.0 397.1,1003.1 394.2,999.1 390.9,995.4 390.3,990.4 391.6,985.6 395.8,983.3 399.8,986.1 403.3,989.6 408.0,990.7 412.8,989.3 416.2,985.8 416.8,980.8 413.1,977.7 408.4,976.6 403.5,977.5 400.0,981.0 397.6,985.4" stroke="#f7ff08" marker-start="url(#m39)" marker-mid="url(#m39)" marker-end="url(#m39)"/>
<polyline points="397.6,985.4 396.2,990.2 397.6,994.9 401.1,998.4 405.5,1000.5 410.4,1000.0 413.3,996.2 413.9,991.2 414.1,986.2 411.8,981.9 407.3,979.9 404.4,976.0 402.3,971.4 402.5,966.4 400.6,961.9 396.3,959.6 392.5,962.6 392.8,967.6 393.6,972.5 392.7,977.4 390.6,981.9 390.6,986.9" stroke="#fff700" marker-start="url(#m40)" marker-mid="url(#m40)" marker-end="url(#m40)"/>
<polyline points="352.7,918.7 353.9,923.4 350.0,926.2 345.0,926.7 340.3,925.3 338.5,920.8 342.4,918.3 346.2,921.3 347.9,926.0 350.0,930.5 351.7,935.2 352.3,940.1 353.6,942.3" stroke="#f7ff08" marker-start="url(#m39)" marker-mid="url(#m39)" marker-end="url(#m39)"/>
<polyline points="353.6,942.3 358.4,942.5 362.0,939.0 363.4,937.0" stroke="#fff700" marker-start="url(#m40)" marker-mid="url(#m40)" marker-end="url(#m40)"/>
<polyline points="257.1,1007.6 252.7,1005.4 247.8,1004.6 243.7,1007.2 241.2,1011.5 242.0,1016.3 246.8,1016.6 251.5,1015.0 253.1,1010.6 248.8,1008.9 244.5,1011.5 240.0,1013.3 235.1,1012.4 233.6,1007.8 234.0,1002.9 238.8,1001.5 243.5,1000.0 247.1,996.6 249.2,992.1 248.0,996.9 245.5,1001.3 242.7,1005.4 241.1,1007.3" stroke="#f7ff08" marker-start="url(#m39)" marker-mid="url(#m39)" marker-end="url(#m39)"/>
<polyline points="241.1,1007.3 239.4,1012.0 239.7,1016.8 244.5,1017.2 248.4,1014.1 250.9,1009.8 253.3,1005.4 257.2,1003.0 261.9,1004.2 266.0,1007.0 269.3,1010.7 268.0,1015.3 263.2,1016.1 258.8,1013.7 256.3,1009.4 252.1,1006.8 247.2,1005.9 243.1,1003.1 239.1,1000.0 242.5,996.4 239.7,1000.5 237.8,1005.1 234.7,1008.9 229.9,1008.8 228.0,1013.5 225.2,1010.1 227.9,1014.2 232.8,1015.0 237.8,1015.0 242.6,1014.0 247.0,1011.6 251.9,1010.7 256.6,1012.3 261.6,1012.9 266.5,1012.3 271.5,1011.6 275.6,1009.0 278.4,1004.8 280.8,1000.5 283.3,996.2 287.7,993.9 292.5,992.5 295.9,989.0 295.8,984.1 292.1,981.0 287.2,982.2 282.7,984.2" stroke="#fff700" marker-start="url(#m40)" marker-mid="url(#m40)" marker-end="url(#m40)"/>
<polyline points="211.6,1023.7 216.6,1024.4 221.4,1023.1 225.7,1020.7 229.6,1017.7 232.6,1013.7 233.2,1009.1 229.9,1009.0 227.5,1013.3 223.7,1016.5 221.1,1020.8 221.2,1025.7 221.8,1030.7 223.3,1035.5 222.9,1040.3 227.6,1041.6 232.4,1042.8 237.2,1044.2 241.6,1046.7 243.8,1047.8" stroke="#ffd700" marker-start="url(#m42)" marker-mid="url(#m42)" marker-end="url(#m42)"/>
<polyline points="243.8,1047.8 248.6,1048.3 253.3,1046.7 256.8,1043.2 255.7,1038.4 254.1,1033.7 252.6,1028.9 251.3,1024.1 250.5,1019.2 248.4,1014.6 247.2,1009.8 245.7,1005.0 241.1,1003.7 236.8,1006.3 232.6,1009.0 229.8,1013.0 230.5,1017.9 229.9,1022.8 226.9,1026.8 222.4,1028.8 217.5,1029.5 212.5,1029.8 208.1,1029.2 212.9,1027.8 217.8,1026.9 222.2,1024.6 226.5,1022.0 230.9,1019.6 235.4,1017.7 240.2,1016.1 245.1,1016.6 249.1,1019.5 252.5,1023.2 255.2,1027.4 255.6,1032.3 252.2,1035.7 247.9,1038.2 243.1,1039.0 239.1,1036.0 234.2,1035.2 229.4,1034.4 227.0,1030.1 228.1,1025.2 227.9,1020.4 224.5,1016.8 219.7,1016.5 214.8,1017.8 218.4,1021.2 221.2,1025.4 222.2,1030.3 224.0,1034.9 224.3,1039.9 227.1,1044.0 232.0,1044.2 236.6,1042.2 238.5,1037.7 237.6,1035.3" stroke="#ffc700" marker-start="url(#m43)" marker-mid="url(#m43)" marker-end="url(#m43)"/>
<polyline points="237.6,1035.3 233.8,1032.2 230.0,1029.0 228.0,1024.5 228.0,1019.6 229.4,1014.8 229.7,1009.8 227.1,1009.0 224.3,1013.1 221.0,1016.8 217.2,1020.1 214.7,1024.4 212.3,1028.8 213.1,1032.5 217.1,1035.5 221.6,1037.6 226.4,1036.8 229.8,1033.6 230.2,1028.6 228.8,1023.8 226.7,1019.3 225.3,1014.6 226.7,1009.8 231.0,1012.3 235.1,1015.1 236.1,1019.9 234.9,1024.8 233.8,1029.6 235.0,1034.5 237.7,1038.5 242.4,1040.3 246.9,1042.4 251.7,1043.8 256.6,1043.4 258.7,1039.0 258.3,1034.0 257.4,1029.3 252.9,1027.3 248.3,1026.0 247.5,1021.2 250.3,1017.1 253.2,1013.1 251.3,1008.7 246.4,1007.8 241.6,1009.1 239.4,1013.4 239.2,1018.4 236.7,1022.7 233.5,1026.4 229.1,1028.7 224.2,1028.4 219.9,1026.0 216.6,1022.2 215.0,1017.5 219.8,1018.8 224.4,1020.8" stroke="#ffb700" marker-start="url(#m44)" marker-mid="url(#m44)" marker-end="url(#m44)"/>
<polyline points="224.4,1020.8 227.1,1024.9 226.3,1029.6 222.8,1033.2 218.9,1036.2 219.4,1031.2 220.2,1028.9" stroke="#ffa700" marker-start="url(#m45)" marker-mid="url(#m45)" marker-end="url(#m45)"/>
<polyline points="365.7,1032.4 360.8,1032.0 357.0,1035.1 354.6,1039.5 352.7,1044.1 349.8,1048.0 345.1,1049.2 340.2,1048.0 335.3,1047.4 330.3,1047.4 325.4,1048.3 320.4,1047.7 316.1,1045.2 311.4,1044.3 306.4,1044.4 301.8,1046.4 298.0,1049.5 295.6,1053.9 292.4,1057.7 288.4,1060.7 286.3,1065.2 286.6,1070.1 289.1,1074.4 293.6,1076.5" stroke="#ff9700" marker-start="url(#m46)" marker-mid="url(#m46)" marker-end="url(#m46)"/>
<polyline points="293.6,1076.5 298.4,1077.8 303.4,1078.0 307.5,1075.4 310.4,1071.3 313.0,1067.0 314.0,1062.2 312.4,1057.5 309.7,1053.3 305.8,1050.2 301.0,1049.3 296.0,1048.8 291.8,1051.2 287.6,1053.8 282.8,1054.1 280.0,1050.1 279.3,1045.2 283.1,1042.1 288.1,1042.1 292.8,1043.5 297.8,1043.9 301.8,1041.2 304.8,1037.2 307.3,1032.9 311.7,1030.8 316.6,1029.6 321.3,1028.1 326.2,1028.4 331.1,1029.6 336.0,1030.4 340.9,1030.2 345.4,1032.4 349.7,1034.9 354.0,1033.2 354.1,1028.2" stroke="#ff8700" marker-start="url(#m47)" marker-mid="url(#m47)" marker-end="url(#m47)"/>
<polyline points="354.1,1028.2 350.2,1025.3 345.3,1025.2 342.0,1028.7 344.7,1032.7 349.0,1030.6 351.3,1026.1 353.7,1021.7 356.7,1017.9 361.6,1018.2 365.8,1020.9 370.1,1023.5 373.4,1027.0 376.8,1030.6 380.3,1034.1 383.3,1038.1 385.0,1042.8 387.2,1047.2 390.7,1050.6 393.6,1054.5 393.1,1059.5 390.6,1063.8 386.0,1065.8 382.0,1068.8 377.3,1070.5 372.7,1072.3 367.9,1073.7 362.9,1074.0 358.1,1072.7 353.3,1071.2 348.3,1071.2 343.4,1071.7 339.3,1074.5 334.5,1075.5 330.1,1073.1" stroke="#ff7800" marker-start="url(#m48)" marker-mid="url(#m48)" marker-end="url(#m48)"/>
<polyline points="330.1,1073.1 325.5,1071.4 320.6,1070.5 315.8,1069.1 311.0,1068.0 306.3,1069.4 302.7,1072.8 301.4,1077.6 300.2,1082.4 299.6,1087.4 298.7,1092.3 299.3,1097.2 301.6,1101.7 303.4,1103.3" stroke="#ff6800" marker-start="url(#m49)" marker-mid="url(#m49)" marker-end="url(#m49)"/>
<polyline points="359.0,1030.1 356.7,1025.7 353.6,1021.7 349.3,1019.5 345.3,1022.3 343.3,1026.9 340.9,1031.2 338.8,1035.8 336.3,1040.1 334.1,1044.5 334.0,1049.5 334.9,1054.5 337.5,1058.8 339.0,1063.5 338.8,1068.5 336.3,1072.8 333.3,1076.7 328.7,1078.7 323.8,1079.3 319.8,1076.3 319.5,1071.7 323.9,1069.2 328.6,1067.6 333.6,1068.1" stroke="#ff9700" marker-start="url(#m46)" marker-mid="url(#m46)" marker-end="url(#m46)"/>
<polyline points="333.6,1068.1 338.6,1068.5 343.4,1067.4 347.8,1065.1 351.8,1062.2 356.2,1059.8 360.9,1061.2 365.7,1062.8 370.3,1061.2 374.5,1058.5 378.7,1055.9 382.3,1052.3 384.0,1047.7 382.9,1042.8 381.8,1038.0 377.2,1036.4 373.5,1039.4 370.8,1043.6 370.1,1048.4 370.6,1053.3 370.5,1058.3 367.7,1062.4 365.5,1066.9 364.8,1071.8 364.1,1076.7 364.7,1081.6 366.9,1086.1 370.9,1088.5 375.5,1086.4 380.4,1086.6 384.7,1089.1 388.9,1091.8 393.8,1092.1 397.6,1089.2 399.9,1084.8" stroke="#ff8700" marker-start="url(#m47)" marker-mid="url(#m47)" marker-end="url(#m47)"/>
<polyline points="399.9,1084.8 401.8,1080.2 403.3,1075.5 404.9,1070.7 405.2,1065.8 407.2,1061.3 411.9,1059.7 416.9,1059.2 421.7,1060.2 422.4,1059.5 419.7,1055.3 416.1,1051.9 411.2,1050.9 407.1,1048.1 403.0,1045.3 401.5,1040.8 405.4,1038.3 410.1,1040.1 414.9,1041.2 419.8,1042.3 424.6,1043.4 423.7,1048.3 422.9,1053.2 420.8,1057.7 419.6,1062.6 420.2,1067.5 422.5,1072.0 424.9,1076.3 422.4,1080.6 421.0,1085.5 419.4,1090.1 415.2,1092.7 410.4,1093.8 405.7,1092.4 400.7,1092.8" stroke="#ff7800" marker-start="url(#m48)" marker-mid="url(#m48)" marker-end="url(#m48)"/>
<polyline points="400.7,1092.8 396.0,1094.2 394.9,1099.0 395.1,1104.0 394.1,1108.9 390.9,1112.6 386.1,1112.8 381.6,1110.5 377.1,1108.4 372.6,1106.3 367.6,1106.0 363.0,1107.8 358.7,1110.3 356.3,1111.0" stroke="#ff6800" marker-start="url(#m49)" marker-mid="url(#m49)" marker-end="url(#m49)"/>
<polyline points="378.0,1056.8 374.2,1059.9 373.8,1064.8 377.5,1068.2 381.7,1070.9 385.6,1073.9 388.8,1077.7 390.2,1082.4 390.2,1087.4 390.6,1092.4 389.5,1097.3 385.9,1100.5 381.1,1099.3 377.1,1096.4 372.9,1093.8 371.7,1089.3 374.1,1085.0 377.5,1081.3 381.1,1077.8 384.7,1074.3 385.7,1069.7 382.8,1065.7 379.4,1062.0 374.6,1060.5 370.1,1062.4 369.0,1067.2 369.7,1072.1 371.4,1076.8 370.9,1081.7 372.8,1086.3" stroke="#ff7800" marker-start="url(#m48)" marker-mid="url(#m48)" marker-end="url(#m48)"/>
<polyline points="372.8,1086.3 376.9,1089.0 381.6,1087.6 383.3,1083.1 383.8,1078.1 383.0,1073.2 381.6,1068.4 383.2,1063.8 387.6,1061.6 392.6,1061.5 397.3,1063.1 400.7,1066.7 401.0,1071.5 397.7,1075.1 394.0,1078.4 390.1,1081.5 385.2,1081.4 380.8,1079.0 377.3,1075.5 374.7,1071.2 370.3,1069.3 366.2,1072.1 364.0,1076.5 363.7,1081.4 366.3,1085.6 371.0,1086.7 375.1,1083.8 379.8,1082.1 384.7,1081.8 389.7,1081.5 394.4,1083.1 398.2,1086.4 402.8,1088.3 407.7,1088.8 411.7,1085.9" stroke="#ff6800" marker-start="url(#m49)" marker-mid="url(#m49)" marker-end="url(#m49)"/>
<polyline points="411.7,1085.9 412.6,1080.9 413.1,1076.0 414.3,1071.2 416.9,1066.9 419.7,1062.8 422.4,1058.6 422.1,1054.9 418.7,1051.3 414.3,1049.0 409.4,1048.2 404.9,1046.0 402.0,1042.0 400.0,1037.5 401.3,1032.7 406.0,1032.1 410.2,1034.8 414.0,1037.9 418.3,1040.3 422.5,1043.0 425.0,1041.3" stroke="#ff5800" marker-start="url(#m50)" marker-mid="url(#m50)" marker-end="url(#m50)"/>
<polyline points="306.8,1138.4 302.8,1141.3 302.7,1145.9 307.0,1148.0 312.0,1147.9 315.6,1144.6 317.3,1139.9 317.3,1134.9 315.1,1130.6 310.3,1129.3 305.7,1127.4 300.9,1126.1 296.6,1123.4 295.1,1118.8 297.2,1114.3 301.0,1111.2" stroke="#0097ff" marker-start="url(#m17)" marker-mid="url(#m17)" marker-end="url(#m17)"/>
<polyline points="301.0,1111.2 305.5,1109.0 309.8,1106.6 313.2,1103.1 312.7,1098.3 311.2,1093.6 313.3,1089.1 315.0,1084.4 314.4,1079.5 313.0,1074.7 313.4,1069.7 313.4,1064.8 313.5,1059.8 315.5,1055.2 315.3,1050.3 313.0,1046.0 308.3,1044.3 303.3,1043.9 298.5,1045.0 293.8,1046.7 288.8,1046.9 283.9,1046.8 278.9,1047.3 274.0,1048.4 269.2,1049.5 265.9,1053.1 267.2,1057.9 269.3,1062.5 268.3,1067.2 264.7,1070.5 259.9,1071.7 259.8,1072.6 264.7,1073.3 268.2,1076.7 270.8,1081.0 274.8,1084.0 276.5,1088.5 274.8,1093.2 274.5,1098.1 272.6,1102.6 268.5,1105.4 263.7,1104.8 262.1,1100.3 262.2,1095.4 259.6,1091.1 255.9,1087.8 251.1,1087.0 248.7,1087.7" stroke="#00a7ff" marker-start="url(#m18)" marker-mid="url(#m18)" marker-end="url(#m18)"/>
<polyline points="248.7,1087.7 244.3,1090.1 242.8,1094.8 239.0,1098.0 234.3,1099.6 229.3,1100.1 225.1,1102.5 224.6,1107.4 226.1,1112.2 226.6,1117.1 226.9,1122.0 229.9,1126.0 234.8,1126.9 238.8,1123.9 240.2,1119.2 240.9,1114.2 243.9,1110.4 248.9,1110.0 253.8,1110.8 258.2,1113.1 262.6,1115.5 267.4,1116.6 272.3,1115.4 277.2,1114.8" stroke="#00b7ff" marker-start="url(#m19)" marker-mid="url(#m19)" marker-end="url(#m19)"/>
<polyline points="311.3,1094.2 315.4,1097.0 319.8,1099.5 324.4,1101.3 328.3,1104.4 329.4,1109.2 329.2,1114.2 327.6,1118.9 323.7,1122.0 321.9,1126.6 321.2,1131.5 320.6,1136.5 321.8,1141.3 322.1,1146.3 321.3,1151.2 321.2,1156.2" stroke="#0097ff" marker-start="url(#m17)" marker-mid="url(#m17)" marker-end="url(#m17)"/>
<polyline points="321.2,1156.2 318.8,1160.5 315.1,1163.9 310.2,1164.4 305.8,1162.2 302.3,1158.5 300.9,1153.8 301.2,1148.9 303.3,1144.4 305.8,1140.0 307.3,1135.3 309.1,1130.6 313.3,1128.7 317.4,1131.6 321.3,1134.5 325.8,1136.6 330.5,1138.2 335.5,1138.1 339.3,1135.0 341.6,1130.5 345.3,1127.2 346.8,1122.5 347.2,1117.5 346.4,1112.6 343.9,1108.3 339.6,1105.7 334.7,1105.1 329.7,1104.9 324.7,1104.7 320.3,1102.5 317.6,1098.3 315.9,1093.6 312.7,1089.8 308.7,1086.7 307.3,1082.0 307.7,1077.0 309.5,1072.4 311.1,1067.7 313.8,1063.5 315.3,1058.7 317.9,1054.6 322.7,1053.4 327.5,1054.4 331.0,1057.9 335.9,1058.3 340.7,1059.6 343.5,1063.6 344.8,1065.7" stroke="#00a7ff" marker-start="url(#m18)" marker-mid="url(#m18)" marker-end="url(#m18)"/>
<polyline points="344.8,1065.7 347.3,1070.0 347.2,1075.0 345.5,1079.7 344.3,1084.5 346.9,1088.8 350.9,1091.9 355.2,1094.2 356.0,1099.0 355.8,1104.0 353.5,1108.3 349.7,1111.5 345.1,1113.3 341.8,1117.1 338.3,1120.7 334.4,1123.8 329.8,1125.9 325.0,1126.9 320.0,1127.4 317.0,1131.3 316.3,1136.2 317.3,1141.0 319.4,1145.5 319.9,1150.5" stroke="#00b7ff" marker-start="url(#m19)" marker-mid="url(#m19)" marker-end="url(#m19)"/>
<polyline points="305.6,1064.7 310.3,1066.3 313.8,1069.6 316.1,1074.1 318.3,1078.6 317.9,1083.4 315.3,1087.7 310.9,1090.0 305.9,1090.4 301.2,1088.8 296.6,1086.9 291.6,1087.1 287.5,1089.9 283.7,1093.1 281.2,1097.2 282.6,1101.9" stroke="#0097ff" marker-start="url(#m17)" marker-mid="url(#m17)" marker-end="url(#m17)"/>
<polyline points="282.6,1101.9 285.5,1106.0 288.4,1110.0 292.1,1113.3 296.5,1115.7 301.2,1117.4 305.4,1120.0 310.1,1118.7 313.2,1114.9 313.9,1110.0 311.7,1105.6 308.6,1101.7 305.2,1098.0 301.8,1094.4 298.5,1090.6 294.4,1088.0 289.6,1086.5 284.6,1086.6 280.2,1089.0 275.8,1091.3 272.8,1095.1 275.2,1099.1 279.9,1100.7 284.3,1103.0 285.8,1107.7 282.3,1110.8 277.4,1111.7 272.6,1110.4 268.8,1107.1 264.9,1104.1 263.4,1099.3 263.6,1094.3 264.4,1089.4 267.5,1085.6 272.3,1084.1 277.0,1082.4 280.3,1078.6 281.5,1073.8 283.9,1069.4 286.2,1065.0 289.0,1060.8 290.3,1056.0 291.6,1051.2 294.3,1047.0 297.1,1042.9 301.5,1040.6 306.3,1041.8 308.7,1042.4" stroke="#00a7ff" marker-start="url(#m18)" marker-mid="url(#m18)" marker-end="url(#m18)"/>
<polyline points="308.7,1042.4 313.7,1042.3 318.7,1041.6 323.0,1044.0 325.5,1048.3 326.1,1053.3 325.4,1058.2 321.9,1061.6 317.6,1064.1 315.0,1068.3 313.6,1073.1 313.4,1078.1 311.5,1082.6 307.5,1085.6 303.4,1088.3 299.0,1090.8 294.5,1092.9 290.9,1096.4 287.6,1100.1 283.8,1103.4 279.9,1106.5 276.9,1110.4 274.3,1114.7 273.1,1119.5" stroke="#00b7ff" marker-start="url(#m19)" marker-mid="url(#m19)" marker-end="url(#m19)"/>
<polyline points="271.7,1112.1 269.2,1107.8 267.1,1103.3 265.1,1098.7 264.7,1093.7 268.2,1090.4 273.0,1091.1 276.4,1094.8 281.2,1096.1 286.2,1096.2 290.6,1094.0 295.1,1092.0 299.9,1090.8 304.2,1088.2 306.5,1083.8 304.2,1079.6" stroke="#0097ff" marker-start="url(#m17)" marker-mid="url(#m17)" marker-end="url(#m17)"/>
<polyline points="304.2,1079.6 299.4,1078.9 295.4,1081.7 294.2,1086.5 293.1,1091.3 289.2,1094.4 285.1,1097.2 283.2,1101.7 281.7,1106.5 278.1,1109.9 273.7,1111.9 268.9,1110.9 264.3,1108.8 261.4,1104.8 261.5,1100.0 265.9,1098.7 270.6,1100.3 275.4,1101.8 280.2,1100.7 285.2,1100.4 290.2,1100.5 295.2,1100.0 300.0,1101.1 303.8,1104.0 307.2,1107.6 312.1,1108.1 317.1,1107.6 321.6,1109.7 325.3,1112.5 323.4,1117.0 318.6,1117.7 313.6,1117.2 308.7,1117.0 303.7,1117.6 298.9,1118.8 294.3,1120.9 289.4,1119.9 284.7,1118.6 279.9,1117.1 274.9,1116.9 270.6,1119.4 269.0,1124.0 270.2,1128.8 272.4,1133.3 274.6,1137.8 276.8,1142.2 276.4,1147.2 276.0,1149.7" stroke="#00a7ff" marker-start="url(#m18)" marker-mid="url(#m18)" marker-end="url(#m18)"/>
<polyline points="276.0,1149.7 275.0,1154.5 271.9,1158.3 267.1,1159.5 262.7,1157.6 258.8,1154.4 256.6,1158.7 259.2,1162.8 264.1,1163.5 268.9,1162.2 273.3,1159.7 277.3,1156.8 281.3,1153.7 283.3,1149.2 283.6,1144.2 285.1,1139.5 288.1,1135.5 291.5,1131.9 294.8,1128.1 297.6,1124.0 300.1,1119.7 303.6,1116.1 306.9,1112.4 308.9,1107.8" stroke="#00b7ff" marker-start="url(#m19)" marker-mid="url(#m19)" marker-end="url(#m19)"/>
<polyline points="283.2,1142.0 279.7,1145.5 278.9,1150.4 279.0,1155.4 279.8,1160.3 283.7,1163.5 288.5,1164.7 293.4,1164.0 297.1,1160.6 301.0,1157.7 305.6,1155.7 310.1,1153.7 314.4,1151.0 317.5,1147.2 317.0,1142.3 315.8,1137.4" stroke="#0097ff" marker-start="url(#m17)" marker-mid="url(#m17)" marker-end="url(#m17)"/>
<polyline points="315.8,1137.4 316.7,1132.7 319.7,1128.7 324.0,1126.3 328.9,1126.4 333.9,1126.2 338.9,1125.9 343.9,1125.8 348.8,1125.3 352.9,1122.6 353.6,1117.9 353.6,1113.0 356.5,1109.0 360.8,1106.6 364.2,1103.0 363.9,1098.1 364.0,1093.3 366.9,1089.3 367.0,1084.4 364.5,1080.2 359.7,1079.4 356.5,1082.9 355.6,1087.8 355.5,1092.6 357.9,1096.9 362.1,1099.7 364.8,1103.8 363.3,1108.5 360.2,1112.5 357.4,1116.6 352.9,1118.7 349.2,1122.0 347.0,1126.5 343.9,1130.4 339.9,1133.4 335.9,1136.4 333.6,1140.8 330.5,1144.6 326.6,1147.7 322.0,1149.5 317.2,1150.5 312.2,1150.9 307.3,1150.4 302.7,1148.7 300.1,1144.5 300.2,1139.5 302.0,1134.9 304.1,1133.6" stroke="#00a7ff" marker-start="url(#m18)" marker-mid="url(#m18)" marker-end="url(#m18)"/>
<polyline points="304.1,1133.6 309.0,1134.2 313.3,1136.5 315.8,1140.8 318.1,1145.3 319.9,1149.9 320.6,1154.9 319.3,1159.7 315.7,1163.1 310.8,1163.6 306.9,1160.6 304.0,1156.5 302.3,1151.9 303.2,1146.9 304.6,1142.2 305.9,1137.3 305.9,1132.3 305.9,1127.4 306.5,1122.4 305.9,1117.4 303.3,1113.2 301.5,1108.7 300.2,1103.9 297.2,1099.9" stroke="#00b7ff" marker-start="url(#m19)" marker-mid="url(#m19)" marker-end="url(#m19)"/>
<polyline points="229.8,1103.5 234.6,1104.8 238.4,1108.0 242.1,1111.4 243.9,1116.0 247.4,1119.6 251.9,1121.7 254.5,1125.8 252.6,1130.4 248.6,1133.2 243.7,1134.3 239.1,1132.5 234.4,1130.7 229.6,1129.4 228.4,1126.9 227.6,1122.1 223.5,1119.7 218.5,1120.3 214.4,1118.6 210.2,1115.9 213.3,1112.2 212.1,1107.5 208.3,1110.4 208.6,1115.4 212.8,1118.0 217.1,1120.7 221.6,1122.6 226.6,1123.0 231.4,1121.8 236.2,1120.2 240.3,1117.5 244.6,1115.1 249.5,1114.1 253.7,1111.5 254.9,1106.8 251.6,1103.3 246.7,1103.9 242.1,1102.0 238.7,1098.4 234.6,1095.5 229.9,1093.7 229.5,1091.5 234.2,1089.8 238.7,1091.8 242.2,1095.3 241.9,1100.1 239.1,1104.3 237.3,1108.9 234.2,1112.8 232.6,1117.5 234.6,1121.9 237.9,1125.5 240.1,1130.0 240.0,1135.0 240.8,1139.5 245.6,1140.5 248.7,1136.7 249.5,1131.8 251.3,1127.1 253.3,1122.6 254.7,1117.8 253.7,1112.9 250.1,1109.5 245.3,1108.6 240.5,1109.9 235.5,1110.6 230.6,1110.5 225.6,1110.4 223.1,1110.1" stroke="#f70000" marker-start="url(#m56)" marker-mid="url(#m56)" marker-end="url(#m56)"/>
<polyline points="223.1,1110.1 218.7,1107.8 215.2,1104.3 220.0,1104.9 223.1,1108.9 227.2,1111.6 230.1,1115.6 231.0,1120.5 231.7,1125.5 230.6,1130.3 226.3,1127.8 222.0,1125.5 218.7,1121.8 218.9,1116.9 220.8,1112.3 224.3,1108.7 228.0,1105.3 231.2,1101.5 232.5,1096.7 233.1,1091.9 232.2,1092.0 230.8,1096.8" stroke="#e70000" marker-start="url(#m57)" marker-mid="url(#m57)" marker-end="url(#m57)"/>
<polyline points="326.3,1102.3 324.1,1097.9 323.5,1092.9 324.7,1088.1 328.3,1084.7 332.8,1082.5 337.6,1083.1 340.5,1086.8 339.2,1091.6 338.6,1096.6" stroke="#ffa700" marker-start="url(#m45)" marker-mid="url(#m45)" marker-end="url(#m45)"/>
<polyline points="338.6,1096.6 339.8,1101.4 341.4,1106.2 340.9,1111.1 338.7,1115.5 334.1,1117.5 329.3,1116.8 328.0,1112.3 329.2,1107.4 332.9,1104.1 337.1,1101.5 341.4,1099.0 345.5,1096.1 349.2,1092.7 352.7,1089.3 354.4,1084.9 352.5,1080.4 348.0,1078.2 343.1,1078.0 340.2,1082.0 339.4,1086.9 340.5,1091.8 341.5,1096.6 342.3,1101.6 341.8,1106.5 340.3,1111.3 342.6,1115.4 347.5,1115.4 351.8,1112.8 355.1,1109.0 358.7,1105.6" stroke="#ff9700" marker-start="url(#m46)" marker-mid="url(#m46)" marker-end="url(#m46)"/>
<polyline points="358.7,1105.6 363.3,1103.9 368.3,1103.6 372.9,1105.6 376.8,1108.7 379.8,1112.6 384.5,1113.7 388.8,1111.2 393.3,1109.1 396.8,1105.5 397.7,1100.7 394.4,1097.3 389.7,1095.5 385.2,1093.5 380.3,1094.3 375.6,1095.9 371.3,1098.5 367.8,1102.1 365.5,1106.5 364.9,1111.4 363.9,1116.3 362.7,1121.2 360.0,1125.3 355.3,1125.7 351.8,1122.2 349.3,1118.0 349.1,1113.0 349.1,1108.0 347.7,1103.2 345.1,1099.0 342.3,1094.8" stroke="#ff8700" marker-start="url(#m47)" marker-mid="url(#m47)" marker-end="url(#m47)"/>
<polyline points="342.3,1094.8 337.7,1092.9 333.1,1091.1 328.9,1088.5 324.3,1089.9 323.4,1094.7 323.6,1099.7 323.6,1104.7 325.0,1109.5 326.6,1114.2 326.5,1119.2 328.6,1123.7 332.4,1126.9 336.2,1130.2 340.9,1131.7 345.5,1133.5 349.5,1136.5 351.9,1140.9 352.8,1145.7 356.1,1149.4 359.2,1153.3 361.9,1157.6 365.8,1160.6 370.7,1161.2" stroke="#ff7800" marker-start="url(#m48)" marker-mid="url(#m48)" marker-end="url(#m48)"/>
<polyline points="392.1,1122.4 388.1,1125.3 385.4,1129.3 381.5,1131.8 377.0,1129.9 372.4,1128.0 367.6,1126.7 362.7,1125.8 358.9,1122.6 354.4,1120.7" stroke="#ffa700" marker-start="url(#m45)" marker-mid="url(#m45)" marker-end="url(#m45)"/>
<polyline points="354.4,1120.7 350.5,1123.4 348.8,1128.1 349.6,1133.0 352.5,1137.0 355.8,1140.8 358.3,1145.1 359.2,1149.9 361.0,1154.5 365.9,1154.9 370.4,1152.8 375.4,1152.7 380.3,1152.4 385.2,1151.4 390.1,1150.2 395.1,1150.2 400.0,1149.3 405.0,1148.8 409.1,1146.1 411.6,1141.9 412.7,1137.0 411.0,1132.3 409.8,1127.5 408.6,1122.6 405.3,1119.0 400.6,1117.5 395.7,1116.3 391.4,1114.0 387.5,1111.0 383.6,1107.9 378.9,1106.2" stroke="#ff9700" marker-start="url(#m46)" marker-mid="url(#m46)" marker-end="url(#m46)"/>
<polyline points="378.9,1106.2 374.0,1106.2 369.1,1107.5 364.4,1108.9 360.5,1112.0 361.2,1116.9 362.8,1121.6 364.4,1126.4 368.6,1129.0 373.6,1129.2 378.6,1129.5 382.6,1132.3 385.0,1136.6 387.2,1141.1 389.7,1145.5 392.9,1149.2 397.7,1150.0 400.8,1146.4 401.5,1141.4 400.8,1136.5 399.5,1131.6 398.3,1126.8 399.4,1122.0 402.4,1118.0 405.8,1114.3 409.2,1110.7 414.1,1110.7 418.3,1113.3 422.6,1115.9 424.8,1120.3 419.9,1121.1" stroke="#ff8700" marker-start="url(#m47)" marker-mid="url(#m47)" marker-end="url(#m47)"/>
<polyline points="419.9,1121.1 415.2,1122.7 410.3,1122.8 406.5,1119.7 407.0,1114.9 409.8,1110.8 414.0,1108.5 418.2,1110.9 420.5,1115.3 424.0,1118.9 420.4,1115.5 416.9,1111.9 413.1,1108.7 408.3,1107.6 403.6,1109.3 398.9,1111.1 394.2,1112.6 389.3,1113.3 385.8,1110.1 385.7,1105.1 386.7,1100.2 387.1,1095.2 387.6,1090.3 388.1,1085.3" stroke="#ff7800" marker-start="url(#m48)" marker-mid="url(#m48)" marker-end="url(#m48)"/>
<polyline points="320.5,1191.0 315.6,1192.1 310.7,1192.3 305.9,1190.7 301.8,1188.1 299.1,1183.9 297.4,1179.2 294.9,1174.8 290.1,1174.1 286.4,1177.1" stroke="#ffa700" marker-start="url(#m45)" marker-mid="url(#m45)" marker-end="url(#m45)"/>
<polyline points="286.4,1177.1 285.7,1182.1 286.7,1187.0 289.0,1191.4 293.3,1193.8 298.2,1194.5 303.2,1194.8 307.9,1196.4 312.8,1196.1 316.2,1192.5 316.0,1187.6 315.1,1182.7 315.4,1177.8 315.0,1172.8 313.3,1168.1 311.9,1163.3 312.7,1158.5 316.0,1154.8 317.6,1150.1 320.6,1146.1 323.1,1141.8 326.5,1138.3 331.4,1138.3 335.5,1141.2 340.1,1142.9 344.7,1144.8 349.7,1145.3 354.0,1142.9 355.9,1138.3 356.7,1133.4 357.9,1128.6" stroke="#ff9700" marker-start="url(#m46)" marker-mid="url(#m46)" marker-end="url(#m46)"/>
<polyline points="357.9,1128.6 359.5,1123.8 360.4,1118.9 360.6,1114.0 356.8,1110.9 351.8,1110.3 347.2,1112.0 344.8,1116.1 347.9,1119.7 352.7,1118.8 356.9,1116.0 361.8,1115.4 366.8,1114.9 371.7,1115.3 376.4,1117.1 380.9,1119.3 384.5,1122.8 384.7,1127.7 381.2,1130.8 376.5,1129.4 372.7,1126.2 371.5,1121.8 374.7,1118.0 378.0,1114.3 380.0,1109.8 382.5,1105.4 384.3,1100.8 383.1,1095.9 382.1,1091.0 381.4,1086.1 379.4,1081.5" stroke="#ff8700" marker-start="url(#m47)" marker-mid="url(#m47)" marker-end="url(#m47)"/>
<polyline points="379.4,1081.5 375.4,1078.5 370.8,1076.8 365.8,1076.7 360.8,1077.2 356.7,1079.8 354.3,1084.2 352.5,1088.8 350.4,1093.3 347.2,1097.1 344.2,1101.1 339.6,1102.8 336.2,1099.4 335.1,1094.5 336.1,1089.8 340.5,1087.9 344.8,1090.3 348.3,1093.9 351.4,1097.8 352.7,1102.6 353.4,1107.5 352.7,1112.3 350.3,1116.7 347.3,1120.7" stroke="#ff7800" marker-start="url(#m48)" marker-mid="url(#m48)" marker-end="url(#m48)"/>
<polyline points="411.8,1172.9 416.7,1172.2 421.4,1173.6 423.8,1171.2 422.2,1166.5 421.1,1161.6 418.9,1157.1 417.3,1152.4 415.2,1148.0 410.5,1146.2" stroke="#ffa700" marker-start="url(#m45)" marker-mid="url(#m45)" marker-end="url(#m45)"/>
<polyline points="410.5,1146.2 406.2,1143.9 403.4,1139.8 399.6,1136.6 394.8,1135.2 389.9,1135.7 385.1,1137.1 380.6,1139.3 377.6,1143.2 376.7,1148.1 376.3,1153.0 378.7,1157.3 383.2,1159.5 388.0,1160.6 392.8,1159.2 397.8,1158.7 402.8,1159.2 407.0,1161.7 410.8,1164.9 415.4,1166.4 420.0,1164.6 422.4,1160.3 421.5,1155.5 419.8,1150.8 418.7,1146.0 419.2,1141.0 421.9,1136.8 424.2,1137.8 421.7,1142.1 418.2,1145.7 414.5,1149.1" stroke="#ff9700" marker-start="url(#m46)" marker-mid="url(#m46)" marker-end="url(#m46)"/>
<polyline points="414.5,1149.1 410.5,1152.0 406.9,1155.5 403.1,1158.8 399.0,1161.6 394.4,1163.5 390.0,1166.0 386.6,1169.6 383.4,1173.4 379.4,1176.2 374.5,1175.8 369.6,1174.7 364.8,1173.1 362.3,1169.0 363.0,1164.1 365.1,1159.6 369.2,1156.9 374.2,1156.5 378.9,1158.0 382.4,1161.5 386.5,1164.4 390.1,1167.8 392.8,1172.1 396.2,1175.7 399.8,1179.2 401.3,1183.9 399.7,1188.7 399.4,1193.7 396.6,1197.7 392.0,1199.1 387.2,1197.8" stroke="#ff8700" marker-start="url(#m47)" marker-mid="url(#m47)" marker-end="url(#m47)"/>
<polyline points="387.2,1197.8 382.3,1198.6 377.4,1200.0 372.5,1199.8 367.6,1198.7 362.6,1198.4 357.9,1200.0 353.0,1201.0 348.0,1201.0 343.4,1202.7 340.4,1206.7 336.8,1210.2 332.1,1211.6 327.3,1213.1 322.3,1213.5 317.4,1213.5 314.3,1209.6 312.4,1205.0 310.8,1200.3 308.3,1196.0 306.4,1191.4 303.7,1187.1 300.9,1183.0 297.5,1179.3" stroke="#ff7800" marker-start="url(#m48)" marker-mid="url(#m48)" marker-end="url(#m48)"/>
<polyline points="404.0,1179.3 405.2,1184.2 405.3,1189.2 402.7,1193.4 398.0,1194.4 395.4,1190.4 396.5,1185.5 398.0,1180.8 401.6,1177.4 405.7,1174.6" stroke="#ffa700" marker-start="url(#m45)" marker-mid="url(#m45)" marker-end="url(#m45)"/>
<polyline points="405.7,1174.6 410.6,1173.5 415.5,1173.0 420.5,1173.3 422.6,1170.5 421.8,1165.6 421.8,1160.6 421.8,1155.6 423.2,1150.9 423.7,1146.2 422.6,1141.3 422.9,1136.4 422.2,1132.4 418.3,1129.2 414.8,1125.7 411.0,1122.5 406.8,1119.8 402.3,1117.6 397.4,1117.0 392.7,1118.5 392.4,1123.2 394.7,1127.7 399.3,1129.1 403.7,1126.8 407.5,1123.5 410.2,1119.4 411.7,1114.6 413.3,1109.9 412.5,1105.0 411.7,1100.1 412.0,1095.1" stroke="#ff9700" marker-start="url(#m46)" marker-mid="url(#m46)" marker-end="url(#m46)"/>
<polyline points="412.0,1095.1 409.8,1090.7 405.4,1088.3 401.0,1086.0 396.9,1088.7 395.5,1093.4 397.3,1098.0 399.0,1102.7 399.3,1107.6 401.8,1112.0 405.8,1115.0 409.9,1117.8 414.8,1117.5 419.8,1117.6 423.2,1121.0 422.9,1125.9 421.9,1130.8 420.7,1135.7 418.6,1140.1 413.9,1141.2 409.5,1139.0 405.4,1136.1 401.3,1133.3 397.2,1130.5 392.9,1128.1 388.1,1129.1 384.0,1131.9 379.8,1134.6 376.1,1138.0 371.5,1139.8 366.6,1140.8" stroke="#ff8700" marker-start="url(#m47)" marker-mid="url(#m47)" marker-end="url(#m47)"/>
<polyline points="366.6,1140.8 361.8,1139.2 357.1,1137.6 352.1,1137.3 347.4,1135.9 343.7,1132.5 339.6,1129.7 334.7,1129.4 330.8,1132.5 328.4,1136.8 325.4,1140.8 321.8,1144.4 319.2,1148.6 318.2,1153.5 315.3,1157.5 310.6,1157.8 310.6,1153.2 314.4,1150.0 319.4,1150.2 324.4,1150.1 329.3,1149.6 334.2,1148.4 338.3,1145.6 342.3,1142.7" stroke="#ff7800" marker-start="url(#m48)" marker-mid="url(#m48)" marker-end="url(#m48)"/>
<polyline points="262.4,1171.4 266.0,1174.8 266.8,1179.7 265.6,1184.6 265.5,1189.6 266.7,1194.4 270.3,1197.8 275.0,1199.5 279.8,1198.3 284.2,1195.9" stroke="#ffa700" marker-start="url(#m45)" marker-mid="url(#m45)" marker-end="url(#m45)"/>
<polyline points="284.2,1195.9 287.7,1192.4 292.3,1190.3 296.9,1188.6 301.8,1187.5 306.7,1186.7 310.0,1183.1 312.2,1178.6 316.1,1175.5 320.2,1172.8 325.2,1172.6 328.6,1169.0 330.7,1164.5 332.4,1159.8 335.5,1156.0 340.0,1153.9 344.8,1152.5 348.5,1155.6 350.3,1160.2 348.3,1164.6 343.6,1165.7 339.7,1162.8 337.6,1158.3 336.3,1153.5 334.9,1148.7 331.2,1145.6 326.5,1143.8 321.5,1143.6 316.5,1143.1 311.7,1141.9 306.8,1142.0" stroke="#ff9700" marker-start="url(#m46)" marker-mid="url(#m46)" marker-end="url(#m46)"/>
<polyline points="306.8,1142.0 301.9,1143.1 297.0,1144.0 292.2,1145.5 288.1,1148.2 284.9,1152.0 280.8,1154.8 276.0,1156.0 271.0,1156.0 266.1,1155.2 261.8,1157.4 260.9,1162.3 259.3,1167.0 256.6,1171.3 256.1,1176.1 256.6,1181.1 258.0,1185.9 259.5,1190.6 262.5,1194.5 267.4,1195.6 272.3,1194.7 277.0,1193.1 281.2,1190.4 286.1,1189.3 291.0,1188.5 295.6,1186.8 299.9,1184.1 304.3,1181.8 308.9,1179.8 313.7,1178.5 318.5,1177.4" stroke="#ff8700" marker-start="url(#m47)" marker-mid="url(#m47)" marker-end="url(#m47)"/>
<polyline points="318.5,1177.4 321.5,1173.5 321.8,1168.6 319.8,1164.0 315.8,1161.0 312.3,1157.5 309.8,1153.2 305.1,1151.6 300.3,1153.1 296.3,1155.8 296.0,1160.6 299.9,1163.5 304.9,1163.7 309.9,1163.8 314.0,1166.6 317.1,1170.6 318.4,1175.4 320.2,1179.9 324.0,1183.2 328.2,1185.9 331.4,1189.6 331.8,1194.5 329.3,1198.9 325.5,1202.0" stroke="#ff7800" marker-start="url(#m48)" marker-mid="url(#m48)" marker-end="url(#m48)"/>
<polyline points="344.9,1150.3 347.4,1154.6 347.0,1159.6 345.8,1164.4 345.5,1169.4 347.9,1173.6 352.5,1174.7 356.4,1171.6 360.2,1168.3 363.6,1164.7 365.5,1160.2 365.8,1155.2 367.6,1150.6 371.6,1147.9 375.6,1150.2 376.4,1155.1 376.3,1160.1 375.2,1165.0 377.3,1169.5 382.0,1170.9 387.0,1171.1 391.7,1169.6 393.3,1164.9 395.9,1160.7 399.9,1157.8 403.6,1154.5 407.4,1151.3 411.2,1148.0 415.5,1145.4 419.9,1143.0 421.9,1138.5 420.0,1134.0 416.6,1130.4 412.2,1128.0 407.3,1127.2 402.6,1128.6 398.5,1131.4 394.1,1133.7 389.2,1132.8 387.0,1128.5 386.8,1123.5 389.3,1119.4 392.7,1115.8 393.7,1113.5" stroke="#b7ff48" marker-start="url(#m35)" marker-mid="url(#m35)" marker-end="url(#m35)"/>
<polyline points="393.7,1113.5 394.2,1108.6 392.1,1104.1 387.7,1102.1 382.8,1102.9 378.2,1104.9 373.2,1105.4 368.5,1106.8 363.9,1108.7 359.1,1109.7 354.1,1109.2 349.5,1107.3 344.8,1105.6 340.1,1106.9 338.2,1111.4 339.8,1116.2 343.2,1119.8 346.1,1123.9 348.6,1128.1 353.2,1130.1 358.0,1128.8 362.4,1126.6 364.1,1122.1 364.9,1117.2 368.8,1114.4 373.7,1115.1 377.4,1118.4 381.2,1121.6 381.5,1126.3 377.6,1129.5 374.3,1133.1 372.8,1137.9 370.3,1142.2 368.2,1146.6 368.8,1151.6 369.7,1156.5 367.9,1161.1 364.3,1164.5 360.4,1167.7 356.4,1170.5 351.5,1170.3 346.9,1168.5 342.0,1167.7 338.2,1164.6 337.3,1159.8 337.8,1157.3" stroke="#c7ff38" marker-start="url(#m36)" marker-mid="url(#m36)" marker-end="url(#m36)"/>
<polyline points="337.8,1157.3 339.9,1152.9 344.1,1150.1 348.8,1148.8 353.6,1147.4 357.5,1144.5 362.2,1142.6 367.1,1141.6 372.1,1142.1" stroke="#d7ff28" marker-start="url(#m37)" marker-mid="url(#m37)" marker-end="url(#m37)"/>
<polyline points="313.3,1144.1 317.6,1146.7 322.4,1147.5 326.4,1144.4 330.0,1141.0 333.0,1137.0 333.8,1132.1 332.1,1127.4 328.4,1124.1 324.6,1120.8 320.2,1118.8 315.2,1118.5 310.3,1119.5 307.3,1123.5 303.7,1126.9 299.7,1130.0 295.7,1132.9 291.1,1135.0 287.0,1137.7 283.2,1140.9 278.7,1143.0 274.9,1146.2 270.6,1148.8 266.8,1152.0 262.2,1153.9 257.6,1155.1 255.9,1159.7 257.5,1164.1 262.0,1166.4 266.7,1167.8 271.4,1166.2 274.7,1162.5 275.6,1157.8 272.7,1153.7 271.1,1149.0 271.5,1144.0 273.9,1139.7 276.7,1135.6 279.4,1131.4 284.0,1129.4 286.4,1129.0" stroke="#f7ff08" marker-start="url(#m39)" marker-mid="url(#m39)" marker-end="url(#m39)"/>
<polyline points="286.4,1129.0 291.3,1128.0 296.1,1129.1 300.3,1131.7 304.8,1133.9 307.5,1138.0 306.5,1142.9 304.9,1147.6 305.7,1152.4 309.2,1155.9 314.0,1157.2 318.8,1158.6 323.8,1158.8 328.7,1158.1 333.3,1160.0 335.5,1164.4 336.4,1169.4 336.6,1174.3 340.4,1177.4 345.2,1176.8 349.9,1175.3 353.8,1172.2 358.6,1171.3 363.5,1172.4 368.2,1170.9 371.5,1167.1 373.2,1162.4 373.9,1157.6 372.0,1153.0 369.5,1148.7 367.6,1144.1 362.9,1143.2 358.7,1145.7 355.0,1149.0" stroke="#fff700" marker-start="url(#m40)" marker-mid="url(#m40)" marker-end="url(#m40)"/>
<polyline points="398.5,1125.5 398.9,1130.5 396.9,1135.1 396.2,1140.1 396.1,1145.1 399.1,1148.9 404.0,1149.6 408.9,1148.4 412.4,1145.1 413.2,1140.2 412.6,1135.2 411.1,1130.4 409.2,1125.9 410.4,1121.1 408.5,1116.6 404.1,1114.1 400.2,1111.1 398.2,1106.5 394.8,1103.1 390.2,1101.3 385.2,1100.3 380.5,1098.7 376.0,1096.6 372.5,1093.1 370.2,1088.7 367.6,1084.4 364.9,1080.2 362.9,1075.8 364.7,1071.3 369.5,1069.9 374.3,1071.1 378.2,1074.2 381.9,1077.5 381.0,1082.0 376.5,1084.2 372.7,1087.5 371.0,1092.2 369.0,1096.7 366.4,1101.0 363.3,1104.9 361.2,1106.3" stroke="#f7ff08" marker-start="url(#m39)" marker-mid="url(#m39)" marker-end="url(#m39)"/>
<polyline points="361.2,1106.3 356.4,1107.6 351.5,1107.8 346.6,1106.7 342.0,1104.8 337.0,1104.5 332.1,1104.7 327.1,1105.2 322.3,1106.5 319.6,1110.7 319.1,1115.7 319.6,1120.6 319.1,1125.6 319.0,1130.6 321.3,1134.8 326.2,1135.4 330.8,1133.5 335.7,1132.4 340.7,1132.3 343.7,1135.9 342.5,1140.7 338.2,1143.2 334.9,1146.7 333.7,1151.6 331.3,1155.9 327.2,1158.8 322.4,1160.3 317.8,1162.1 312.9,1162.2 310.4,1157.9 310.3,1152.9 312.1,1148.2 312.1,1143.3 308.0,1140.6" stroke="#fff700" marker-start="url(#m40)" marker-mid="url(#m40)" marker-end="url(#m40)"/>
<polyline points="411.4,1162.4 407.1,1159.8 403.4,1156.6 399.4,1153.6 394.5,1152.4 390.1,1154.1 388.3,1158.7 386.0,1163.2 383.1,1167.2 380.3,1171.2 378.5,1175.8 380.5,1180.4 383.7,1184.2 385.8,1188.7 385.4,1193.6 381.4,1196.5 376.5,1197.0 374.0,1192.9 374.4,1187.9 375.4,1183.0 376.4,1178.2 375.2,1173.3 374.3,1168.4 373.8,1163.5 373.1,1158.5 374.7,1154.1 378.6,1151.0 380.8,1146.5 382.5,1141.8 386.0,1138.3 390.3,1135.9 394.3,1138.6 393.8,1143.3 389.2,1144.5 384.3,1143.8 379.5,1142.9 374.9,1145.0 370.8,1147.8 369.7,1150.0" stroke="#ff0800" marker-start="url(#m55)" marker-mid="url(#m55)" marker-end="url(#m55)"/>
<polyline points="369.7,1150.0 369.8,1154.9 371.1,1159.7 371.8,1164.7 374.6,1168.8 378.5,1171.9 383.4,1171.6 387.3,1168.8 387.7,1163.9 388.8,1159.0 390.8,1154.7 395.3,1152.6 400.2,1152.0 404.8,1151.0 406.0,1146.3 404.6,1141.5 405.1,1136.5 408.4,1133.0 413.2,1131.5 418.0,1130.3 422.9,1129.8 422.6,1125.5 418.5,1122.6 413.7,1121.3 408.7,1121.3 404.0,1122.9 401.6,1127.1 403.2,1131.8 403.7,1136.7 400.8,1140.7 396.1,1142.3 391.9,1145.0 387.0,1145.9 382.1,1145.2 377.3,1146.4 374.5,1150.4 374.3,1155.4 375.4,1160.3 377.0,1165.0 378.2,1169.8 379.5,1174.6 381.6,1179.1 381.6,1184.1 383.1,1188.8 383.7,1193.8 385.4,1198.4 389.4,1201.4 393.7,1203.8 398.3,1205.7 403.2,1206.8 407.9,1208.3 411.9,1211.1 409.3,1215.0 404.7,1213.7 404.2,1208.8 407.9,1205.7 412.7,1207.3 416.9,1210.0 421.4,1212.0 424.4,1209.4 423.7,1204.5 422.8,1199.6 420.4,1195.2 417.7,1191.0 417.2,1186.1 419.4,1181.7 424.1,1179.9 420.4,1183.3 416.2,1185.9 411.3,1187.1" stroke="#f70000" marker-start="url(#m56)" marker-mid="url(#m56)" marker-end="url(#m56)"/>
<polyline points="411.3,1187.1 408.1,1190.8 407.1,1195.7 408.9,1200.2 413.3,1202.2 418.3,1202.5 423.3,1202.5 423.0,1207.4 420.2,1211.5 415.7,1213.6 410.7,1213.7 406.1,1212.0 401.1,1211.8 396.2,1211.6 393.3,1207.7 394.1,1202.9 397.7,1199.5 402.5,1199.8 407.4,1200.1 412.2,1198.7 416.5,1196.2 418.6,1194.9" stroke="#e70000" marker-start="url(#m57)" marker-mid="url(#m57)" marker-end="url(#m57)"/>
<polyline points="332.8,1177.2 331.9,1172.3 328.2,1169.0 323.4,1167.6 318.5,1168.0 315.6,1172.0 314.9,1176.8 314.5,1179.3" stroke="#ff1800" marker-start="url(#m54)" marker-mid="url(#m54)" marker-end="url(#m54)"/>
<polyline points="314.5,1179.3 315.6,1184.0 318.9,1187.8 320.8,1192.3 319.6,1197.2 319.6,1202.0 322.9,1205.7 327.5,1207.5 332.5,1207.0 337.4,1207.5 342.3,1206.7 345.7,1203.1 348.2,1198.7 350.5,1194.3 351.9,1189.6 353.1,1184.7 350.8,1180.5 345.9,1179.5 341.0,1179.3 336.5,1177.2 332.4,1174.3 328.1,1171.8 323.6,1173.2 319.9,1176.5 316.5,1180.2 313.6,1184.3 312.6,1189.0 314.4,1193.7 318.1,1196.9 322.2,1199.8 327.1,1201.0 331.2,1203.5 333.4,1207.9 333.2,1212.8 329.4,1216.0 324.5,1216.2 319.6,1215.3 315.5,1212.6 311.7,1209.3 308.7,1205.3 305.1,1201.8 303.5,1197.2 305.8,1192.9 307.2,1188.1 307.2,1185.6" stroke="#ff0800" marker-start="url(#m55)" marker-mid="url(#m55)" marker-end="url(#m55)"/>
<polyline points="307.2,1185.6 307.8,1180.6 310.6,1176.5 315.3,1175.2 320.3,1174.4 325.2,1173.6 330.1,1173.1 334.5,1170.7 338.2,1167.3 340.1,1162.8 341.7,1158.1 346.4,1157.6 350.5,1160.4 354.5,1163.4 358.8,1161.4 361.2,1157.0 360.7,1152.2 357.2,1148.9 352.3,1149.7 347.4,1151.0 342.8,1152.9 338.6,1155.5 334.0,1157.5 329.0,1157.3 324.5,1155.2 320.3,1152.6 315.4,1152.2 311.9,1155.5 308.1,1158.7 303.3,1159.8 298.9,1157.7 297.4,1153.0 299.1,1148.3 302.8,1145.2 307.8,1145.7 312.8,1146.0 317.8,1146.3 322.4,1148.1 326.2,1151.4 330.3,1154.1 335.3,1154.7 340.2,1155.7 345.1,1156.4 350.1,1156.8 352.4,1157.6" stroke="#f70000" marker-start="url(#m56)" marker-mid="url(#m56)" marker-end="url(#m56)"/>
<polyline points="352.4,1157.6 356.2,1160.8 355.9,1165.6 352.2,1168.8 348.9,1172.5 348.3,1177.4 349.4,1182.1 354.1,1183.8 358.3,1186.3 361.6,1190.1 366.0,1192.2 370.9,1191.3 373.1,1195.3 371.9,1197.5" stroke="#e70000" marker-start="url(#m57)" marker-mid="url(#m57)" marker-end="url(#m57)"/>
<polyline points="338.2,1196.4 336.7,1191.7 333.7,1187.8 329.0,1186.3 324.1,1185.3 320.9,1181.6 317.6,1177.9 313.6,1174.9 309.9,1171.6 307.8,1167.7 312.3,1166.6 315.9,1170.1 317.1,1174.9 314.1,1178.7 309.4,1180.2 304.4,1180.4 299.4,1180.6 294.8,1178.6 291.1,1175.5" stroke="#38ffc7" marker-start="url(#m27)" marker-mid="url(#m27)" marker-end="url(#m27)"/>
<polyline points="291.1,1175.5 291.3,1170.5 294.5,1166.7 299.3,1165.6 304.2,1166.0 309.1,1165.7 313.0,1162.6 317.9,1162.6 322.4,1164.5 326.3,1167.6 327.6,1172.3 328.5,1177.2 331.6,1181.1 336.2,1182.8 341.1,1183.9 345.9,1182.8 346.0,1178.2 341.2,1177.4 336.5,1179.1 335.3,1183.9 336.9,1188.5 341.1,1191.3 345.9,1192.6 350.8,1191.5 355.2,1189.2 360.0,1187.8 365.0,1187.9 369.9,1188.6 374.7,1187.9 378.6,1184.7 383.1,1182.7 387.5,1184.8" stroke="#48ffb7" marker-start="url(#m28)" marker-mid="url(#m28)" marker-end="url(#m28)"/>
<polyline points="387.5,1184.8 388.0,1189.5 387.2,1194.5 385.3,1199.1 384.5,1204.0 385.2,1208.9 387.9,1213.0 391.4,1216.6 394.7,1220.3 393.9,1225.1 390.8,1229.0 386.6,1231.7 382.1,1233.7 377.7,1236.2 372.8,1236.3 368.0,1235.1 363.5,1232.8 359.0,1230.8 354.4,1228.8 349.5,1227.7 345.4,1224.9 342.4,1220.9 339.3,1217.0 338.2,1212.2 337.7,1207.3 336.6,1202.5 339.2,1198.3 342.8,1195.0 347.7,1195.2 351.9,1197.9 355.2,1201.7 358.6,1205.3 359.8,1207.5" stroke="#58ffa7" marker-start="url(#m29)" marker-mid="url(#m29)" marker-end="url(#m29)"/>
<polyline points="359.8,1207.5 362.3,1211.8 366.5,1214.1 371.0,1212.1 375.5,1209.9 380.3,1208.4 385.0,1209.3 389.3,1211.9 390.7,1216.6 390.3,1221.5 393.2,1225.4 395.7,1229.7 395.9,1234.6 392.6,1238.2 387.7,1239.1 385.3,1239.7" stroke="#68ff97" marker-start="url(#m30)" marker-mid="url(#m30)" marker-end="url(#m30)"/>
<polyline points="302.2,1192.8 307.0,1193.9 311.8,1195.1 316.7,1194.0 320.1,1190.4 319.8,1185.6 315.9,1182.6 311.6,1180.1 306.7,1179.4 302.1,1181.0 298.6,1184.7 297.4,1189.5 298.0,1194.4 301.0,1198.4 305.9,1199.0 310.7,1197.6 314.5,1194.4 316.8,1190.0 317.8,1185.1" stroke="#38ffc7" marker-start="url(#m27)" marker-mid="url(#m27)" marker-end="url(#m27)"/>
<polyline points="317.8,1185.1 314.8,1181.5 310.4,1179.2 307.0,1175.6 306.0,1170.7 307.1,1165.9 310.7,1162.7 315.6,1163.1 320.2,1165.1 324.7,1167.1 327.7,1171.1 326.6,1175.8 322.1,1177.7 317.2,1177.6 312.2,1177.3 307.2,1177.3 302.7,1175.3 297.9,1175.6 294.0,1178.7 289.9,1181.5 285.0,1181.9 280.4,1179.9 276.2,1177.3 273.6,1173.1 274.3,1168.3 278.6,1165.9 283.1,1163.6 288.0,1163.2 292.6,1164.9 297.0,1167.2 302.0,1167.6 306.9,1166.7" stroke="#48ffb7" marker-start="url(#m28)" marker-mid="url(#m28)" marker-end="url(#m28)"/>
<polyline points="306.9,1166.7 311.8,1166.6 316.4,1168.5 320.6,1171.3 324.8,1174.0 327.2,1178.2 325.9,1182.8 321.2,1184.3 316.2,1184.3 311.6,1186.2 307.0,1187.9 302.9,1190.9 299.7,1194.5 300.6,1199.3 303.4,1203.5 307.9,1205.2 312.9,1204.9 317.6,1203.4 322.3,1201.6 326.2,1198.5 329.7,1195.1 334.6,1194.9 337.1,1199.2 334.4,1203.1 329.6,1204.1 324.6,1204.3 320.5,1207.1 318.1,1211.4 315.1,1215.4 312.5,1219.6 311.9,1224.5 312.7,1229.5 313.4,1231.9" stroke="#58ffa7" marker-start="url(#m29)" marker-mid="url(#m29)" marker-end="url(#m29)"/>
<polyline points="313.4,1231.9 317.7,1234.1 322.5,1233.2 326.1,1229.7 329.9,1226.5 334.0,1223.7 338.9,1224.3 342.8,1227.3 345.0,1231.5 342.4,1235.5 337.8,1234.1 335.5,1229.7 332.1,1225.9 330.2,1221.3 326.9,1217.6 324.6,1216.6" stroke="#68ff97" marker-start="url(#m30)" marker-mid="url(#m30)" marker-end="url(#m30)"/>
<polyline points="239.8,1210.7 235.1,1212.2 231.0,1215.0 235.8,1215.9 240.7,1215.1 245.7,1215.1 250.6,1214.2 255.4,1213.0 260.0,1211.0 264.6,1208.9 268.2,1205.6 268.9,1200.7 265.2,1197.7 260.8,1199.4 259.2,1204.1 257.0,1208.6 255.2,1213.3 252.5,1217.3 247.6,1217.2 245.0,1213.0 241.0,1210.1 236.1,1209.0 231.2,1208.4 226.6,1210.2 222.7,1209.7 220.1,1205.4 219.9,1200.5 220.6,1195.5 222.1,1190.8 225.5,1187.2 230.4,1187.4 234.5,1190.1 239.3,1190.0 242.0,1185.8 242.4,1180.8 241.2,1176.1 236.4,1176.3 235.1,1181.1 234.8,1186.0 234.7,1191.0 231.8,1195.0 229.0,1199.1 227.7,1203.9 227.2,1208.8 222.9,1210.7 218.8,1207.7 215.4,1204.1 212.7,1199.9 212.1,1195.1 212.3,1190.1 216.6,1192.4 219.8,1196.3 222.8,1200.3 224.6,1204.8 223.6,1209.7 223.2,1209.8 219.3,1207.2 215.0,1205.1 213.5,1200.3 211.6,1195.7 212.2,1192.0 215.6,1188.4 219.6,1185.4 224.3,1183.7 228.7,1181.4 233.6,1180.5 238.1,1182.6 241.1,1186.4 239.1,1190.9 234.5,1192.3 229.5,1192.0 224.8,1190.5 222.3,1190.3" stroke="#b7ff48" marker-start="url(#m35)" marker-mid="url(#m35)" marker-end="url(#m35)"/>
<polyline points="222.3,1190.3 217.4,1189.9 216.3,1186.8 221.3,1186.5 226.2,1186.0 230.4,1183.3 235.4,1183.0 240.2,1184.2 245.2,1184.4 249.8,1186.2 254.1,1188.8 258.6,1191.0 263.3,1192.4 267.0,1195.8 266.9,1200.7 266.3,1205.7 265.6,1210.6 262.8,1214.7 258.7,1217.6 253.9,1216.7 251.2,1212.7 252.7,1208.2 256.4,1204.8 259.5,1200.9 262.7,1197.0 267.1,1196.0 268.6,1200.7 265.6,1204.5 261.2,1206.9 256.3,1207.6 251.6,1209.1 248.5,1212.9 248.9,1217.9 246.6,1222.1 241.7,1222.1 237.4,1219.7 234.3,1215.9 236.1,1211.6 240.7,1209.6 244.2,1206.3 246.9,1202.2 247.6,1197.2 245.3,1192.9 243.8,1190.9" stroke="#c7ff38" marker-start="url(#m36)" marker-mid="url(#m36)" marker-end="url(#m36)"/>
<polyline points="263.3,1196.0 258.8,1197.9 256.2,1202.2 252.0,1204.7 247.6,1206.8 246.9,1211.5 250.3,1215.0" stroke="#28ffd7" marker-start="url(#m26)" marker-mid="url(#m26)" marker-end="url(#m26)"/>
<polyline points="250.3,1215.0 254.8,1217.1 259.5,1215.7 262.3,1211.8 264.0,1207.1 266.0,1202.5 268.4,1198.1 267.7,1193.2 265.2,1188.9 266.5,1184.3 269.7,1180.4 274.0,1177.9 278.8,1176.8 283.6,1177.2 287.3,1180.6 289.6,1185.0 292.4,1189.1 294.6,1193.6 295.8,1198.5 296.8,1203.4 297.4,1208.3 295.6,1212.8 291.2,1215.1 286.8,1217.4 282.2,1219.3 277.3,1220.6 272.5,1221.4 267.6,1220.2 263.4,1217.6 261.4,1213.1 263.0,1208.5 266.7,1205.1 269.9,1201.4" stroke="#38ffc7" marker-start="url(#m27)" marker-mid="url(#m27)" marker-end="url(#m27)"/>
<polyline points="269.9,1201.4 274.0,1198.6" stroke="#48ffb7" marker-start="url(#m28)" marker-mid="url(#m28)" marker-end="url(#m28)"/>
<polyline points="402.0,1240.7 401.1,1235.8 398.8,1231.4 394.7,1228.7 389.8,1227.9 385.6,1230.5 383.5,1235.1 381.0,1239.4 381.7,1244.3 383.3,1249.0 385.3,1253.6 388.2,1257.5 393.0,1259.0 397.7,1257.8 400.1,1253.5 401.9,1248.9 404.5,1244.6 404.4,1239.7 404.8,1237.2" stroke="#ff5800" marker-start="url(#m50)" marker-mid="url(#m50)" marker-end="url(#m50)"/>
<polyline points="404.8,1237.2 406.1,1232.4 405.9,1227.4 407.0,1222.6 410.0,1218.6 414.4,1216.5 417.8,1213.0 419.4,1208.2 417.6,1203.7 413.9,1200.3 409.4,1198.2 405.0,1195.9 400.2,1194.6 395.6,1196.4 392.6,1200.4 389.8,1204.5 385.1,1206.2 380.3,1205.1 376.1,1202.4 374.6,1197.8 377.0,1193.6 381.4,1191.2 386.2,1191.9 390.3,1194.8 393.3,1198.8 394.9,1200.6" stroke="#ff4800" marker-start="url(#m51)" marker-mid="url(#m51)" marker-end="url(#m51)"/>
<polyline points="394.9,1200.6 398.7,1203.9 401.8,1207.8 405.4,1211.3 409.6,1213.7 414.6,1213.0 419.3,1211.5 423.9,1209.7 424.8,1214.6 424.0,1219.5 421.6,1223.9 419.1,1228.2 415.1,1231.1 410.1,1231.1 407.9,1227.0 410.4,1222.8 415.1,1221.9 418.9,1225.1 419.9,1229.9 419.4,1234.9 417.8,1239.6 417.9,1244.6 415.5,1249.0 411.6,1252.1 407.0,1253.9" stroke="#ff3800" marker-start="url(#m52)" marker-mid="url(#m52)" marker-end="url(#m52)"/>
<polyline points="407.0,1253.9 402.1,1254.8 397.8,1252.8 398.1,1248.0 401.2,1244.1 405.5,1241.8 410.5,1241.0 415.4,1240.2 420.0,1238.4" stroke="#ff2800" marker-start="url(#m53)" marker-mid="url(#m53)" marker-end="url(#m53)"/>
<polyline points="363.5,1253.1 367.3,1250.0 372.2,1250.6 375.1,1254.6 377.4,1259.0 378.5,1263.9 379.7,1268.7 379.7,1273.7 376.3,1277.2 371.5,1278.5 366.9,1276.5 366.5,1271.9 370.2,1268.6 374.2,1265.5 378.6,1263.3 381.6,1259.3 382.4,1254.4 381.5,1249.5 377.4,1246.8 372.6,1247.5 368.2,1249.9 363.5,1251.4 358.6,1251.4 353.6,1251.2 348.9,1253.0 345.5,1256.6 342.6,1260.7 342.6,1265.5 345.3,1269.7 349.0,1273.0 351.2,1277.4 351.5,1279.9" stroke="#ff0800" marker-start="url(#m55)" marker-mid="url(#m55)" marker-end="url(#m55)"/>
<polyline points="351.5,1279.9 351.1,1284.9 351.2,1289.9 350.2,1294.7 346.3,1297.1 341.8,1294.9 338.0,1291.8 335.8,1287.3 334.3,1282.6 333.0,1277.7 332.6,1272.7 331.6,1267.9 329.7,1263.3 326.4,1259.6 324.3,1255.1 324.1,1250.1 323.4,1245.2 319.8,1242.0 314.8,1242.1 309.8,1241.8 305.5,1243.8 302.0,1247.3 301.7,1252.1 303.2,1256.8 305.8,1261.1 309.4,1264.6 312.0,1268.8 314.4,1273.2 317.2,1277.4 320.4,1281.1 324.2,1284.4 328.0,1287.6 330.8,1291.8 335.5,1293.0 338.8,1289.5 340.4,1284.9 343.1,1280.7 345.7,1276.4 349.9,1273.7 353.9,1270.8" stroke="#f70000" marker-start="url(#m56)" marker-mid="url(#m56)" marker-end="url(#m56)"/>
<polyline points="300.4,1250.8 300.5,1245.9 302.3,1241.4 307.1,1240.4 311.9,1241.9 316.4,1244.0 320.6,1246.6 323.6,1250.6 326.1,1255.0 329.3,1258.8 332.6,1262.5 333.0,1267.3 332.4,1272.3 333.3,1277.2 336.5,1280.9 341.0,1283.1 345.7,1284.7 350.7,1284.7 355.7,1284.9 359.4,1287.6 357.6,1291.9 353.3,1294.3 348.3,1294.7 343.3,1294.4 338.4,1294.6 333.9,1296.7 329.0,1296.1 325.4,1292.7 320.8,1290.9 315.8,1291.5 311.7,1288.7 310.5,1286.5" stroke="#ff0800" marker-start="url(#m55)" marker-mid="url(#m55)" marker-end="url(#m55)"/>
<polyline points="310.5,1286.5 307.7,1282.4 304.5,1278.5 300.1,1276.5 295.1,1276.8 290.5,1278.6 288.0,1282.8 289.6,1287.4 293.2,1290.8 298.0,1292.0 302.8,1290.8 306.0,1287.0 308.3,1282.6 307.6,1277.7 303.6,1275.1 298.7,1273.9 293.8,1274.1 288.8,1273.6 284.5,1271.2 281.9,1266.9 280.3,1262.2 277.6,1258.1 275.1,1253.8 276.2,1249.1 280.3,1246.3 285.1,1245.5 289.6,1247.6 293.5,1250.8 298.2,1252.2 302.3,1249.7 302.9,1244.8 304.4,1240.2 309.1,1238.6 313.4,1236.1 317.7,1233.7 322.6,1232.7 327.4,1233.9 330.5,1237.7 330.2,1242.7 328.4,1247.3" stroke="#f70000" marker-start="url(#m56)" marker-mid="url(#m56)" marker-end="url(#m56)"/>
<polyline points="280.8,1316.8 281.3,1311.8 283.2,1307.2 284.8,1302.5 284.2,1297.6 286.4,1293.1 289.0,1288.9 290.1,1284.0 290.3,1279.0 290.3,1274.0 290.2,1269.1 287.4,1265.1 282.6,1263.7 278.1,1265.7 275.6,1269.9 273.7,1274.6 270.7,1278.5 266.6,1281.4 262.5,1284.2 261.8,1289.0 263.5,1293.7 262.1,1298.3 257.4,1299.8 252.7,1298.3 250.6,1293.9 251.6,1289.0 253.3,1284.3 254.2,1281.9" stroke="#97ff68" marker-start="url(#m33)" marker-mid="url(#m33)" marker-end="url(#m33)"/>
<polyline points="254.2,1281.9 257.3,1278.1 262.0,1276.7 266.8,1277.9 271.7,1278.6 276.7,1279.4 281.6,1279.7 286.5,1280.5 291.2,1282.1 295.5,1284.6 297.4,1289.2 297.3,1294.2 297.0,1299.1 296.5,1304.1 298.5,1308.5 302.2,1305.8 300.7,1301.2 296.5,1298.6 291.5,1298.5 286.6,1298.5 281.7,1297.6 277.4,1295.0 272.8,1293.3 267.9,1292.2 262.9,1292.0 257.9,1292.3 253.1,1293.3 248.1,1293.4 244.5,1290.2 246.4,1285.6 250.8,1283.3 255.4,1281.3 260.0,1279.6 265.0,1278.8 269.4,1276.5 273.7,1274.1 278.7,1273.6 283.6,1274.2 288.6,1274.5 292.5,1271.6 294.5,1267.0 294.5,1262.1" stroke="#a7ff58" marker-start="url(#m34)" marker-mid="url(#m34)" marker-end="url(#m34)"/>
<polyline points="320.2,1288.2 321.5,1293.0 320.5,1297.9 316.6,1300.9 312.0,1299.7 310.8,1297.5" stroke="#87ff78" marker-start="url(#m32)" marker-mid="url(#m32)" marker-end="url(#m32)"/>
<polyline points="310.8,1297.5 309.1,1292.8 309.2,1287.9 310.0,1282.9 311.3,1278.2 316.1,1277.4 321.1,1276.8 326.0,1277.3 329.5,1280.8 332.6,1284.7 335.9,1288.5 339.3,1292.1 342.4,1295.9 342.6,1300.8 339.9,1305.0 336.2,1308.4 331.4,1309.0 327.0,1306.8 322.5,1304.5 318.5,1301.5 314.5,1298.7 311.0,1295.1 306.6,1292.6 302.5,1289.8 297.8,1288.5 293.0,1289.9 288.2,1291.4 283.5,1292.9 278.9,1294.7 275.2,1298.1 270.6,1300.1 266.4,1297.6 263.5,1293.5 263.6,1288.5 266.8,1284.7 270.8,1281.8 275.8,1281.4 280.4,1283.1 284.9,1285.4 289.4,1287.5 294.3,1287.5 298.7,1285.3 302.6,1282.1 306.7,1279.2 311.6,1278.9 316.4,1280.3 321.4,1280.6 326.0,1278.7 328.5,1278.3" stroke="#97ff68" marker-start="url(#m33)" marker-mid="url(#m33)" marker-end="url(#m33)"/>
<polyline points="328.5,1278.3 333.3,1279.5 338.1,1280.9 343.0,1281.9 347.4,1284.1 350.1,1288.3 351.5,1293.0" stroke="#a7ff58" marker-start="url(#m34)" marker-mid="url(#m34)" marker-end="url(#m34)"/>
<polyline points="349.2,1336.8 351.5,1341.3 355.9,1343.7 360.7,1345.0 365.3,1343.5 366.5,1338.9 363.3,1335.2 358.7,1333.4 353.7,1333.1 348.9,1334.5 344.2,1336.3 339.2,1336.7 335.0,1339.1 332.3,1343.3 329.7,1347.5 326.3,1351.1 324.0,1355.6 321.7,1360.0 320.4,1364.7 322.4,1369.3 327.0,1370.2 332.0,1370.2 336.9,1369.5 339.3,1368.7" stroke="#78ff87" marker-start="url(#m31)" marker-mid="url(#m31)" marker-end="url(#m31)"/>
<polyline points="339.3,1368.7 343.0,1365.5 345.6,1361.3 347.6,1356.8 347.1,1351.9 347.0,1346.9 346.0,1342.0 344.1,1337.5 340.4,1334.0 336.8,1330.6 334.4,1326.3 332.1,1321.9 330.5,1317.1 329.0,1312.4 326.9,1307.8 324.5,1303.4 320.8,1300.1 316.0,1300.4 313.2,1304.6 309.9,1308.2 305.1,1309.3 300.2,1309.3 295.8,1311.6 293.2,1315.8 292.8,1320.7 290.9,1325.3 288.2,1329.5 286.7,1334.3 282.3,1336.2 277.5,1336.2 274.1,1332.8 274.8,1327.9 276.8,1323.3 280.7,1320.2 284.2,1316.7 289.1,1315.8 294.0,1316.6 296.1,1320.9 294.9,1325.8 292.4,1330.1 290.5,1334.7 292.8,1339.1 296.8,1342.0 301.3,1344.2 305.6,1346.6 309.2,1350.1 313.1,1353.2 317.5,1355.5 322.5,1356.0 327.4,1355.4 331.9,1353.3 335.2,1349.5 337.4,1345.1 336.8,1340.2 335.1,1335.5 332.8,1331.1 331.6,1326.2 328.8,1322.1 324.3,1320.2 319.5,1318.9 315.1,1316.4 311.1,1313.5 307.7,1309.9 306.8,1305.1 309.3,1300.9 314.2,1300.7 317.6,1304.5 319.0,1306.5" stroke="#87ff78" marker-start="url(#m32)" marker-mid="url(#m32)" marker-end="url(#m32)"/>
<polyline points="322.7,1389.5 327.4,1388.0 331.7,1385.4 336.3,1383.8 341.3,1383.3 345.1,1386.3 346.7,1391.0 349.0,1395.4 350.1,1400.2 348.3,1404.9 344.6,1408.2 339.7,1408.9 335.4,1406.6 333.1,1402.2 330.5,1397.9 328.7,1393.3 330.1,1388.6 334.5,1386.3 339.4,1386.5 344.4,1386.5 348.9,1384.4 352.4,1380.8 352.9,1375.9 349.3,1372.5 344.3,1371.8 340.7,1368.8 342.4,1364.2" stroke="#78ff87" marker-start="url(#m31)" marker-mid="url(#m31)" marker-end="url(#m31)"/>
<polyline points="342.4,1364.2 347.0,1362.9 351.5,1365.1 356.0,1367.1 359.4,1370.8 361.5,1375.3 360.7,1380.2 357.3,1383.7 353.4,1386.8 351.6,1391.5 352.0,1396.4 354.2,1400.9 354.5,1405.8 350.8,1409.1 348.4,1405.0 343.7,1403.3 338.9,1402.0 333.9,1402.3 329.0,1402.4 324.1,1403.6 319.8,1406.1 316.1,1409.4 313.5,1405.2 310.0,1401.6 306.5,1398.1 307.2,1393.1 309.7,1388.9 312.1,1384.5 310.8,1379.8 306.3,1377.9 301.7,1379.6 299.2,1384.0 297.6,1388.7 295.8,1393.4 293.4,1397.7 290.8,1402.0 289.5,1406.8 286.7,1408.8 281.9,1409.7 285.0,1405.8 287.4,1401.4 290.1,1397.3 292.0,1392.6 291.8,1387.7 290.4,1382.9 288.9,1378.1 288.3,1373.1 286.5,1368.5 282.9,1365.1 278.2,1363.6 274.2,1366.3 271.0,1370.1 269.2,1374.7 267.5,1379.4 263.1,1381.6 258.1,1382.0 253.2,1382.9 249.7,1386.3 246.5,1390.0 241.6,1390.7 237.5,1387.9 235.9,1383.4 237.3,1378.6 238.3,1373.7 241.1,1369.6 245.1,1366.6 250.0,1366.8 250.5,1371.5 246.8,1374.8 242.6,1377.6 237.9,1378.3 236.2,1373.9 239.5,1370.4 244.3,1369.1 249.3,1369.6 252.5,1366.0 254.4,1361.3 258.1,1358.1" stroke="#87ff78" marker-start="url(#m32)" marker-mid="url(#m32)" marker-end="url(#m32)"/>
<polyline points="334.2,1384.4 329.4,1385.8 324.5,1386.8 319.6,1387.8 315.0,1389.8 310.7,1392.3 306.4,1394.9 302.6,1398.0 299.2,1401.7 294.9,1404.1 290.0,1404.9 285.2,1403.4 281.1,1400.6 276.5,1398.7 271.5,1398.8 266.8,1400.3 262.4,1402.7 257.5,1403.7 252.5,1404.0 251.6,1400.4 251.2,1395.6 246.7,1393.7 241.8,1392.8 236.8,1392.5 239.9,1388.7 243.8,1385.5 248.5,1383.7" stroke="#78ff87" marker-start="url(#m31)" marker-mid="url(#m31)" marker-end="url(#m31)"/>
<polyline points="248.5,1383.7 253.2,1382.5 258.2,1382.0 262.7,1379.8 265.7,1375.9 269.7,1372.9 274.1,1370.6 278.9,1371.7 282.0,1375.6 284.0,1380.2 284.5,1385.2 285.0,1390.2 284.6,1395.1 284.0,1400.1 282.7,1404.9 282.2,1409.9 277.4,1408.6 272.5,1409.3 272.3,1408.9 276.9,1406.8 281.1,1404.2 285.7,1402.3 290.4,1400.6 295.4,1400.6 300.4,1401.1 305.3,1401.4 310.3,1400.8 315.0,1399.1 319.9,1399.1 324.8,1400.0 329.8,1400.7 334.8,1400.7 339.8,1400.8 344.7,1400.1 349.4,1401.4 351.6,1405.6 349.5,1406.1 346.4,1402.2 344.7,1397.5 344.2,1392.5 344.8,1387.6 345.9,1382.7 347.8,1378.4 352.7,1377.5 357.3,1379.4 361.7,1381.7 364.5,1385.9 368.5,1388.4 372.7,1385.8 374.6,1381.4 372.9,1376.8 370.0,1372.7 366.8,1368.9 362.9,1365.8 359.6,1362.1 355.2,1359.8 350.6,1357.8 345.8,1358.6 341.8,1361.6 340.3,1366.2 342.6,1370.6 346.5,1373.6 350.9,1376.1 355.3,1378.3 359.9,1380.1 363.7,1383.4 367.5,1386.7 372.0,1388.9 376.8,1387.6 381.1,1385.3 382.9,1380.7 382.4,1375.7 380.7,1371.1 378.7,1366.5 377.1,1361.8 373.3,1358.7 368.4,1358.9 363.5,1359.9" stroke="#87ff78" marker-start="url(#m32)" marker-mid="url(#m32)" marker-end="url(#m32)"/>
</g>
<g clip-path="url(#cC)" fill="none" stroke-width="2.00" stroke-linejoin="round">
<polyline points="484.5,760.7 482.6,756.1 482.4,753.6" stroke="#0028ff" marker-start="url(#m10)" marker-mid="url(#m10)" marker-end="url(#m10)"/>
<polyline points="482.4,753.6 480.2,749.2 475.5,747.6 470.6,748.5 466.1,750.6 464.4,755.2 465.8,760.0 469.3,763.5 473.1,766.7 476.9,770.0 481.1,772.7 483.9,776.8 485.8,781.4 486.0,786.4 486.0,791.4 486.3,796.4 486.7,801.3 489.6,805.3 494.4,806.0 499.0,803.9 503.4,801.6 508.2,800.8 512.5,803.2 515.9,806.9 519.8,810.0 524.7,811.0 528.8,813.8 532.6,817.0 537.4,817.7 542.0,815.9 545.4,812.1 548.8,808.5 553.3,806.5 557.9,804.5 562.9,803.8 567.5,801.9 572.4,801.0" stroke="#0038ff" marker-start="url(#m11)" marker-mid="url(#m11)" marker-end="url(#m11)"/>
<polyline points="572.4,801.0 577.0,802.6 581.8,804.1 585.3,800.9 584.5,796.0 580.8,792.7 576.4,790.6 571.5,791.4 566.8,791.8 565.7,787.4 567.6,782.8 572.2,781.5 575.3,784.6 571.7,787.8 566.9,788.9 562.4,791.0 558.4,794.1 554.0,796.4 549.6,798.8 545.4,801.3 540.5,802.5 535.8,804.1 532.6,807.9 528.1,809.6 524.6,806.3 523.4,801.5 521.8,796.8 518.6,793.0 513.9,791.9 509.0,792.9 504.3,794.5 500.9,798.1 498.6,802.5 495.9,806.7 495.6,811.7 497.5,816.3 501.9,818.1 504.0,816.8" stroke="#0048ff" marker-start="url(#m12)" marker-mid="url(#m12)" marker-end="url(#m12)"/>
<polyline points="504.0,816.8 507.6,813.3 511.5,810.3 516.1,808.2 520.4,805.6 523.0,801.4 526.8,798.2 530.7,795.0 534.7,792.0 537.9,788.2 541.2,784.4 546.0,783.1 550.7,781.6 554.3,778.3 557.1,774.2 558.3,772.0" stroke="#0058ff" marker-start="url(#m13)" marker-mid="url(#m13)" marker-end="url(#m13)"/>
<polyline points="531.9,756.5 529.8,752.1 528.3,750.0" stroke="#0028ff" marker-start="url(#m10)" marker-mid="url(#m10)" marker-end="url(#m10)"/>
<polyline points="528.3,750.0 524.7,746.6 521.1,743.1 516.9,740.4 513.5,736.8 508.9,735.7 505.9,739.4 507.1,744.2 509.3,748.7 510.4,753.5 509.2,758.4 508.9,763.3 508.2,768.3 507.4,773.2 507.8,778.2 510.3,782.5 512.8,786.5 512.5,791.5 509.4,795.3 504.4,795.3 499.5,794.3 494.7,792.7 490.1,791.0 486.8,787.3 485.1,782.6 481.2,779.5 478.2,775.7 478.0,770.8 478.5,765.9 477.6,760.9 475.5,756.6 471.8,753.2 468.3,749.6 465.8,745.4 465.7,740.4 466.8,735.5 468.7,731.0" stroke="#0038ff" marker-start="url(#m11)" marker-mid="url(#m11)" marker-end="url(#m11)"/>
<polyline points="468.7,731.0 473.5,729.5 475.1,734.2 474.4,739.1 475.7,743.9 478.4,748.0 479.6,752.9 479.3,757.8 477.2,762.4 472.7,764.2 467.8,763.7 462.8,764.5 458.4,766.7 453.6,768.1 448.9,769.8 446.4,768.1 450.0,764.6 453.9,761.5 458.8,760.8 463.8,760.2 468.6,760.5 473.3,762.4 478.0,764.1 481.2,767.7 480.5,772.6 477.5,776.6 474.7,780.7 470.9,783.9 467.2,787.2 464.5,791.4 461.9,795.6 463.4,800.3 466.0,804.6 469.2,808.4 472.9,811.8 477.6,810.6 480.7,806.7 482.6,805.1" stroke="#0048ff" marker-start="url(#m12)" marker-mid="url(#m12)" marker-end="url(#m12)"/>
<polyline points="482.6,805.1 486.2,801.6 489.5,798.0 490.7,793.1 491.6,788.2 491.5,783.2 491.2,778.3 487.5,774.9 482.7,773.5 479.0,770.3 478.2,765.7 481.3,761.8 483.8,757.5 486.5,753.4 491.1,751.4 493.0,749.9" stroke="#0058ff" marker-start="url(#m13)" marker-mid="url(#m13)" marker-end="url(#m13)"/>
<polyline points="583.0,788.2 587.5,786.1 588.7,783.9" stroke="#0028ff" marker-start="url(#m10)" marker-mid="url(#m10)" marker-end="url(#m10)"/>
<polyline points="588.7,783.9 589.9,779.1 588.3,774.4 584.4,771.4 581.0,767.7 578.6,763.3 577.2,758.5 576.5,753.7 580.2,750.5 583.9,747.2 586.5,742.9 587.6,738.0 587.9,733.0 586.7,732.7 583.1,736.2 578.5,738.1 574.0,740.2 569.4,742.0 564.4,742.7 560.2,745.3 555.4,746.9 550.6,748.0 545.6,748.4 540.8,749.2 536.2,751.3 532.5,754.7 528.2,757.1 523.3,756.9 518.6,755.1 514.1,753.2 510.8,749.4 507.3,746.0 503.1,743.3 498.4,741.6 493.4,741.5 488.4,742.0 483.6,740.7" stroke="#0038ff" marker-start="url(#m11)" marker-mid="url(#m11)" marker-end="url(#m11)"/>
<polyline points="483.6,740.7 478.7,740.3 474.0,741.9 469.2,743.1 464.8,745.3 461.1,748.7 457.7,752.3 453.8,755.3 450.6,759.1 448.5,763.6 446.4,768.2 446.8,763.2 447.4,758.4 447.3,753.4 448.4,752.4 452.9,750.9 456.0,746.9 457.6,742.2 460.9,738.4 463.5,734.2 467.6,731.4 472.5,730.3 477.5,729.9 482.4,730.7 486.1,733.9 487.6,738.6 489.7,743.1 490.9,747.9 490.0,752.8 492.3,757.1 496.6,759.5 501.4,761.1 506.2,760.1 511.2,760.4 516.2,760.4 521.1,760.0 526.1,760.2 528.6,759.6" stroke="#0048ff" marker-start="url(#m12)" marker-mid="url(#m12)" marker-end="url(#m12)"/>
<polyline points="528.6,759.6 531.1,755.4 529.6,750.7 527.6,746.1 527.1,741.2 529.6,736.9 534.4,736.9 536.8,741.2 540.7,744.3 545.5,745.8 550.4,746.1 555.4,745.6 560.3,744.6 564.9,742.6 569.7,741.5 572.2,741.5" stroke="#0058ff" marker-start="url(#m13)" marker-mid="url(#m13)" marker-end="url(#m13)"/>
<polyline points="576.1,795.2 579.9,798.5 581.0,800.7" stroke="#0028ff" marker-start="url(#m10)" marker-mid="url(#m10)" marker-end="url(#m10)"/>
<polyline points="581.0,800.7 579.6,805.2 575.0,806.5 572.7,802.4 572.2,797.4 570.6,792.7 569.4,787.9 565.8,784.5 562.6,780.6 558.9,777.2 554.0,776.4 549.1,775.8 545.8,772.3 546.2,767.4 548.4,762.9 553.1,761.3 558.0,760.4 562.8,759.2 567.7,759.7 571.9,762.4 574.8,766.5 574.8,771.5 571.1,774.4 566.8,772.0 563.7,768.1 563.1,763.2 565.2,758.7 569.9,757.3 574.8,757.8 579.0,755.3 579.1,750.4 577.4,745.8 577.0,740.8 577.0,735.8 576.6,730.8 571.7,729.7 566.7,729.8" stroke="#0038ff" marker-start="url(#m11)" marker-mid="url(#m11)" marker-end="url(#m11)"/>
<polyline points="566.7,729.8 570.1,733.5 571.2,738.3 571.9,743.3 572.9,748.2 572.8,753.1 571.6,758.0 569.2,762.4 566.4,766.5 565.1,771.2 563.5,776.0 559.2,778.3 554.5,776.7 549.5,776.0 545.1,773.7 541.1,770.8 538.3,766.6 535.4,762.6 533.2,758.1 534.6,753.4 538.3,750.1 542.8,748.1 542.3,743.6 537.5,744.9 533.3,747.6 533.3,752.4 535.8,756.7 538.8,760.6 542.6,763.8 542.4,768.7 539.5,772.7 535.5,775.7 532.3,779.5 529.9,783.9 528.4,788.6 526.8,793.3 522.2,794.5 520.1,793.1" stroke="#0048ff" marker-start="url(#m12)" marker-mid="url(#m12)" marker-end="url(#m12)"/>
<polyline points="520.1,793.1 517.8,788.8 516.4,784.0 515.0,779.2 515.1,774.3 517.7,770.0 520.3,765.8 523.3,761.8 527.1,758.5 531.1,755.7 532.5,751.0 529.2,747.3 525.1,744.5 520.2,743.5 515.3,743.4 512.8,743.1" stroke="#0058ff" marker-start="url(#m13)" marker-mid="url(#m13)" marker-end="url(#m13)"/>
<polyline points="488.1,757.1 492.9,756.9 494.8,758.5" stroke="#0028ff" marker-start="url(#m10)" marker-mid="url(#m10)" marker-end="url(#m10)"/>
<polyline points="494.8,758.5 496.7,763.1 499.1,767.5 501.6,771.8 503.7,776.3 505.7,780.9 506.0,785.9 507.6,790.5 512.0,792.5 516.9,791.3 521.2,793.7 524.4,797.6 525.7,802.4 528.9,806.3 532.7,809.4 536.7,812.4 540.9,815.1 545.8,815.9 550.6,814.6 555.5,813.7 559.9,811.3 563.8,808.3 566.5,804.1 568.9,799.7 570.0,794.8 570.4,789.8 570.6,784.8 571.6,780.0 572.7,775.1 573.5,770.2 574.7,765.3 578.3,761.8 582.1,758.7 587.1,758.2 592.0,758.2 595.4,754.5 598.8,750.9" stroke="#0038ff" marker-start="url(#m11)" marker-mid="url(#m11)" marker-end="url(#m11)"/>
<polyline points="598.8,750.9 601.8,747.0 605.8,744.0 608.6,739.9 610.0,735.1 610.2,730.2 609.2,734.9 606.8,739.3 607.4,743.7 612.2,745.0 616.7,742.9 619.3,738.7 620.4,733.8 622.7,730.1 627.3,732.1 630.4,735.7 630.8,740.7 631.2,745.7 631.8,750.6 632.7,755.4 630.4,759.3 628.4,754.8 627.7,749.9 629.3,745.2 630.0,740.4 628.9,735.6 624.8,733.0 619.9,731.9 615.2,730.4 613.3,735.0 610.6,739.2 608.2,743.6 605.4,747.7 602.6,751.8 600.2,756.2 597.4,760.4 592.6,761.3 590.1,761.4" stroke="#0048ff" marker-start="url(#m12)" marker-mid="url(#m12)" marker-end="url(#m12)"/>
<polyline points="590.1,761.4 585.1,760.8 580.1,760.6 577.3,756.7 576.5,751.7 574.3,747.3 574.7,742.6 576.8,738.1 579.7,734.1 584.5,733.2 589.1,735.1 593.7,737.0 598.3,735.4 601.5,731.6 605.9,733.9 608.0,735.3" stroke="#0058ff" marker-start="url(#m13)" marker-mid="url(#m13)" marker-end="url(#m13)"/>
<polyline points="456.4,752.0 452.6,748.8 450.2,747.9" stroke="#0028ff" marker-start="url(#m10)" marker-mid="url(#m10)" marker-end="url(#m10)"/>
<polyline points="450.2,747.9 449.8,748.7 454.6,748.7 459.0,746.3 463.7,744.8 468.6,745.2 473.6,745.9 477.9,748.4 480.5,752.6 483.0,756.9 485.2,761.3 488.5,765.1 492.0,768.7 494.3,773.1 494.6,778.1 494.1,783.1 492.1,787.6 489.2,791.6 484.6,793.5 481.4,797.1 480.8,802.1 480.8,807.1 484.4,810.3 489.2,809.4 492.3,805.5 495.0,801.4 499.8,800.4 504.2,802.6 508.6,804.9 513.5,804.7 516.3,800.9 513.1,797.0 509.9,793.2 506.2,789.9 502.9,786.2 500.1,782.1 499.0,777.2" stroke="#0038ff" marker-start="url(#m11)" marker-mid="url(#m11)" marker-end="url(#m11)"/>
<polyline points="499.0,777.2 496.6,772.8 495.4,768.0 495.6,763.0 492.0,759.6 487.1,758.8 482.1,758.9 477.3,760.1 472.6,761.8 469.0,765.3 467.0,769.9 466.1,774.7 463.3,778.9 463.7,783.7 467.6,786.8 472.3,788.5 477.1,790.0 481.9,791.1 485.6,794.5 489.5,797.6 493.9,800.0 498.2,802.4 503.1,803.0 507.8,801.4 511.3,797.8 515.6,795.4 520.5,794.7 525.5,794.8 530.4,794.5 534.7,792.0 538.3,788.5 540.6,784.1 544.7,781.4 548.8,783.9 547.7,788.2 543.1,790.1 538.1,790.5 535.9,789.4" stroke="#0048ff" marker-start="url(#m12)" marker-mid="url(#m12)" marker-end="url(#m12)"/>
<polyline points="535.9,789.4 531.0,788.6 526.4,790.4 523.4,794.3 521.4,798.9 520.3,803.7 519.4,808.7 521.2,813.0 526.1,812.8 530.8,811.0 534.7,808.2 534.2,803.4 531.7,799.1 529.0,795.0 527.3,790.3 525.8,788.3" stroke="#0058ff" marker-start="url(#m13)" marker-mid="url(#m13)" marker-end="url(#m13)"/>
<polyline points="509.0,745.4 513.7,746.6 516.2,747.1" stroke="#0028ff" marker-start="url(#m10)" marker-mid="url(#m10)" marker-end="url(#m10)"/>
<polyline points="516.2,747.1 520.9,745.7 525.5,744.1 530.1,746.0 535.0,747.2 539.8,746.3 544.1,743.6 546.5,739.4 545.1,734.9 540.5,735.7 537.7,739.8 538.1,744.7 539.8,749.4 540.5,754.4 539.4,759.3 537.9,764.0 534.5,767.6 531.3,771.4 529.1,775.9 529.4,780.9 530.8,785.7 530.0,790.5 527.8,795.0 525.2,799.3 521.4,802.4 516.6,802.9 511.9,801.3 506.9,800.8 501.9,801.0 498.4,804.2 500.7,808.5 505.4,810.2 510.3,809.9 514.5,807.5 517.6,803.5 520.0,799.1 521.7,794.4" stroke="#0038ff" marker-start="url(#m11)" marker-mid="url(#m11)" marker-end="url(#m11)"/>
<polyline points="521.7,794.4 523.7,789.8 524.1,784.9 526.2,780.5 531.1,779.7 536.0,780.6 540.7,782.3 545.2,784.4 549.8,786.4 554.3,788.3 558.5,790.9 563.0,793.1 565.3,797.5 566.1,802.4 566.6,807.3 565.8,812.3 561.9,815.3 557.2,817.0 552.2,817.0 547.5,815.5 542.6,814.6 537.6,815.3 532.7,815.6 529.8,811.7 527.9,807.0 527.8,802.1 531.0,798.3 533.6,794.1 533.7,789.1 537.1,785.8 542.0,786.5 546.9,787.7 551.5,789.4 556.5,789.5 561.5,790.2 566.5,790.3 571.4,791.0 573.7,792.1" stroke="#0048ff" marker-start="url(#m12)" marker-mid="url(#m12)" marker-end="url(#m12)"/>
<polyline points="573.7,792.1 576.4,796.2 579.2,800.3 582.1,804.4 583.7,809.2 584.3,814.1 580.8,817.4 576.2,815.6 572.4,812.4 568.4,809.4 564.3,806.5 560.5,803.3 557.2,799.6 554.7,795.3 551.5,791.5 549.2,790.5" stroke="#0058ff" marker-start="url(#m13)" marker-mid="url(#m13)" marker-end="url(#m13)"/>
<polyline points="481.8,854.4 486.8,854.9 491.7,854.3 495.7,851.3 499.3,848.0 503.4,845.0" stroke="#00a7ff" marker-start="url(#m18)" marker-mid="url(#m18)" marker-end="url(#m18)"/>
<polyline points="503.4,845.0 508.3,844.8 513.2,845.8 518.2,846.6 521.8,849.8 522.3,854.7 520.8,859.5 518.9,864.1 516.3,868.4 516.9,873.3 518.0,878.2 518.7,883.1 517.6,887.9 514.4,891.7 509.5,892.8 504.6,893.0 499.6,892.4 495.7,889.5 493.6,885.0 491.1,880.8 486.3,879.5 481.4,880.3 476.5,881.5 471.7,882.8 466.8,883.2 462.1,881.4 457.2,880.6 452.3,879.3 448.8,875.8 446.3,871.5 446.7,866.6 450.5,863.6 455.5,862.9 460.3,861.5 465.1,862.3 469.8,864.1 474.7,864.9 479.1,867.3 482.6,870.9 485.6,874.9 487.1,879.6 486.7,884.5 483.0,887.8 478.1,888.7 473.1,888.9 468.3,890.2" stroke="#00b7ff" marker-start="url(#m19)" marker-mid="url(#m19)" marker-end="url(#m19)"/>
<polyline points="468.3,890.2 463.5,890.5 459.0,888.2 454.8,885.6 452.1,881.4 450.4,876.7 450.6,871.7 454.0,868.1 458.4,865.8 462.7,863.3 465.7,859.4 465.1,854.5 463.8,849.7 461.2,845.4 458.7,841.2 457.2,836.4 452.8,834.6 448.0,835.7 447.7,831.7 451.6,828.7 456.2,826.8 460.7,824.5 464.1,820.8 464.7,816.2 460.2,814.9 456.7,818.2 457.0,823.1 459.6,827.4 463.1,831.0 463.7,835.9 464.0,840.9 464.7,845.8 463.1,850.5" stroke="#00c7ff" marker-start="url(#m20)" marker-mid="url(#m20)" marker-end="url(#m20)"/>
<polyline points="481.0,844.0 486.0,844.8 490.4,842.9 492.5,838.4 495.4,834.3 497.0,829.5" stroke="#00a7ff" marker-start="url(#m18)" marker-mid="url(#m18)" marker-end="url(#m18)"/>
<polyline points="497.0,829.5 498.5,824.8 500.0,820.0 500.0,815.1 496.2,811.9 491.3,811.9 486.8,814.0 482.0,815.3 477.1,814.4 472.4,812.9 469.4,808.9 467.8,804.2 466.8,799.3 464.5,794.8 462.1,790.5 458.1,787.5 453.5,785.4 448.9,783.5 449.9,779.1 454.8,779.2 459.5,780.8 463.6,783.6 464.7,788.4 466.4,793.1 469.3,797.1 469.0,802.1 467.3,806.9 463.6,810.1 458.7,809.3 454.7,806.3 449.9,805.3 447.6,802.6 447.0,797.7 446.1,792.8 449.1,788.9 453.6,786.8 458.5,787.4 462.4,790.5 463.1,795.3 459.1,797.5 455.4,794.3 452.7,790.0 451.6,785.2 451.6,780.2 453.1,775.5 456.9,772.3" stroke="#00b7ff" marker-start="url(#m19)" marker-mid="url(#m19)" marker-end="url(#m19)"/>
<polyline points="456.9,772.3 461.1,769.6 464.7,766.2 468.8,763.2 473.1,760.7 477.6,758.6 482.6,758.2 486.5,760.9 487.3,765.9 487.3,770.8 488.6,775.7 490.1,780.4 491.5,785.2 493.8,789.6 497.7,792.7 502.1,795.1 504.9,799.1 505.5,804.0 505.5,809.0 508.5,812.9 511.5,816.9 513.5,821.4 515.3,826.1 516.1,831.0 514.5,835.7 511.8,839.9 507.2,841.6 502.4,840.5 499.1,836.8 495.7,833.4 490.8,832.4 486.0,833.9 481.7,836.4" stroke="#00c7ff" marker-start="url(#m20)" marker-mid="url(#m20)" marker-end="url(#m20)"/>
<polyline points="495.7,853.4 499.1,850.1 499.2,845.1 496.8,840.8 493.0,837.6 488.1,836.9" stroke="#00a7ff" marker-start="url(#m18)" marker-mid="url(#m18)" marker-end="url(#m18)"/>
<polyline points="488.1,836.9 483.1,837.4 478.2,836.7 473.6,834.9 469.9,831.6 465.1,830.1 460.1,829.7 455.3,830.7 450.7,828.7 447.5,824.9 448.7,822.0 453.0,819.3 457.3,816.8 462.1,815.8 466.7,817.6 469.2,821.7 468.0,826.4 464.1,829.5 460.4,832.7 457.2,836.6 452.5,838.2 447.9,840.0 446.9,844.0 448.3,848.8 450.5,853.2 452.6,857.8 455.1,862.1 457.3,866.6 460.4,870.5 464.5,873.4 469.0,875.4 471.9,879.5 475.7,882.7 479.7,885.6 484.5,886.8 489.5,886.6 494.5,886.9 499.5,887.4 504.4,887.3 509.0,885.3 513.5,883.1 514.3,878.4 511.9,874.0 508.0,871.0 503.3,869.3 498.4,868.4" stroke="#00b7ff" marker-start="url(#m19)" marker-mid="url(#m19)" marker-end="url(#m19)"/>
<polyline points="498.4,868.4 493.8,869.9 490.9,873.9 491.1,878.9 493.3,883.4 497.8,885.5 502.6,886.9 507.2,888.7 512.1,889.6 516.8,887.9 520.4,884.5 522.9,880.2 525.2,875.7 528.9,872.5 532.0,868.7 532.0,863.7 529.9,859.2 529.7,854.2 529.8,849.2 528.7,844.3 524.9,841.2 521.0,843.8 523.0,848.3 525.7,852.5 527.2,857.2 525.3,861.8 522.8,866.1 520.8,870.7 518.4,875.0 514.6,878.3 509.9,879.8 505.2,881.6 500.5,883.1" stroke="#00c7ff" marker-start="url(#m20)" marker-mid="url(#m20)" marker-end="url(#m20)"/>
<polyline points="463.3,853.8 459.9,850.1 457.7,845.6 456.6,840.8 454.9,836.1 451.6,832.4 447.9,829.0 447.8,824.1 451.3,820.6 455.4,817.8 459.2,814.5 463.6,812.6 468.6,812.9 473.5,813.6" stroke="#0000e7" marker-start="url(#m6)" marker-mid="url(#m6)" marker-end="url(#m6)"/>
<polyline points="473.5,813.6 477.7,816.2 480.8,820.1 482.5,824.9 483.2,829.8 483.3,834.8 482.8,839.8 482.5,844.8 482.6,849.8 480.3,854.1 476.5,857.4 472.5,860.3 467.9,862.1 463.1,863.2 458.5,861.7 455.5,857.7 452.2,854.0 448.4,850.8 446.8,846.9 446.4,841.9 446.4,836.9 447.2,832.0 448.8,827.3 452.4,823.8 457.0,822.0 461.9,821.7 466.8,822.6 471.8,821.9 476.5,820.3 481.4,820.7 484.4,824.6 484.1,829.5 481.3,833.6 480.2,838.5 480.7,843.4 483.2,847.8 482.1,852.5 479.3,856.7 477.7,861.4 474.1,864.5 469.1,864.8 465.2,861.9 463.8,857.2 465.2,852.5" stroke="#0000f7" marker-start="url(#m7)" marker-mid="url(#m7)" marker-end="url(#m7)"/>
<polyline points="465.2,852.5 466.2,847.6 466.4,842.6 467.6,837.8 466.8,832.9 464.1,828.8 459.9,826.2 455.0,826.2 450.2,827.4 449.0,830.5 449.1,835.3 447.9,839.8 447.8,844.8 449.4,849.5 453.6,852.2 458.4,851.8 461.4,848.0 463.7,843.5 465.4,838.8 467.4,834.3 465.6,829.8 460.9,828.8 456.0,829.2 452.1,826.2" stroke="#0008ff" marker-start="url(#m8)" marker-mid="url(#m8)" marker-end="url(#m8)"/>
<polyline points="614.1,933.1 611.9,928.7 612.2,923.8 613.2,918.9 613.1,914.0 609.0,911.7 604.2,913.0 599.5,914.7 595.3,917.3 591.8,920.9 589.2,925.2 587.7,929.9 588.5,934.8 589.2,939.8 587.3,944.3 582.7,946.1 577.7,946.6 573.2,948.9 568.4,949.7 563.5,950.8 558.5,951.0 553.6,950.4 548.9,948.6 546.3,944.6 546.8,939.6 550.4,936.3 555.0,934.5 558.9,931.4 563.1,928.7 567.9,928.5 571.3,931.9 571.6,936.9 572.3,941.8 571.6,946.8 573.8,951.0 578.7,950.8 583.5,949.3 588.5,948.9 593.5,948.3 598.0,946.5 602.3,944.1 607.1,942.6 612.0,941.8 611.4,946.7 608.9,951.0 606.2,955.2 602.6,958.6 597.8,960.1 592.9,959.4 590.5,958.6" stroke="#0097ff" marker-start="url(#m17)" marker-mid="url(#m17)" marker-end="url(#m17)"/>
<polyline points="590.5,958.6 586.6,955.9 583.9,951.7 580.6,947.9 577.0,944.4 575.4,939.7 573.6,935.0 570.7,931.2 565.8,930.9 563.2,935.1 561.4,939.7 557.9,943.2 553.8,946.1 551.0,950.2 551.0,955.1 553.9,959.1 558.5,960.6 561.0,956.7 557.8,953.0 554.4,949.3 553.7,944.4 556.3,940.6 560.4,937.7 562.9,933.4 563.6,928.5 566.4,924.5 570.7,922.1 574.3,918.6 578.4,915.7 583.2,914.4 588.0,915.5 592.8,917.0 597.7,915.9 602.7,916.0 607.1,918.1 610.2,922.0 614.5,924.3 618.0,927.8 620.7,932.0 620.6,935.2 616.5,936.2 612.6,933.3 612.0,928.4 614.3,924.0 616.3,919.4 616.3,914.5 613.2,910.6 611.2,909.1" stroke="#00a7ff" marker-start="url(#m18)" marker-mid="url(#m18)" marker-end="url(#m18)"/>
<polyline points="633.8,877.1 637.9,879.8 640.1,884.2 643.9,887.5 648.2,890.1 652.6,892.4 657.5,893.2 661.9,895.5 665.4,899.0 668.7,902.7 671.3,902.2 672.0,897.2 670.3,892.8 665.8,890.8 661.0,890.8 658.7,895.3 657.0,900.0 653.3,903.0 648.4,901.8 643.5,901.0 638.5,901.4 635.5,905.2 637.3,909.8 640.6,913.6 642.0,918.3 645.2,919.1 648.3,915.2 652.3,912.2 656.9,910.4 661.9,909.9 662.0,905.0 663.5,900.3 664.0,895.4 663.4,890.4 661.1,889.6 656.6,891.7 651.9,893.3 647.2,895.1 642.4,896.3 639.0,899.8 638.0,904.7 636.2,909.3 636.1,914.1 638.9,918.2 643.4,920.3 646.2,916.2 648.0,911.6 649.5,906.8 653.6,904.3 656.0,904.7" stroke="#0097ff" marker-start="url(#m17)" marker-mid="url(#m17)" marker-end="url(#m17)"/>
<polyline points="656.0,904.7 659.0,908.7 661.0,908.6 660.5,903.7 658.2,899.3 655.0,895.4 650.5,893.3 646.5,890.4 643.3,886.6 639.1,883.8 634.3,882.6 629.9,884.8 627.7,889.1 626.5,893.9 624.8,898.7 623.4,903.4 620.8,907.7 618.1,911.9 615.7,916.3 615.5,921.3 617.2,925.9 620.2,929.9 624.7,932.1 628.6,929.0 632.3,926.2 637.1,925.1 641.0,921.9 642.6,917.3 642.4,912.3 645.1,908.1 648.3,904.4 650.2,899.7 651.5,894.9 654.3,890.9 659.0,891.5 663.2,894.3 665.8,898.6 669.6,901.6 674.3,901.5 674.5,896.7 671.0,893.1 666.4,891.0 661.6,892.3 658.8,896.4 657.2,901.1 653.4,904.1 648.5,904.7 646.2,905.7" stroke="#00a7ff" marker-start="url(#m18)" marker-mid="url(#m18)" marker-end="url(#m18)"/>
<polyline points="553.3,948.1 548.4,949.0 543.4,949.1 538.5,948.4 533.6,949.2 529.0,947.6 526.2,943.4 525.5,938.5 526.1,933.5 528.5,929.2 529.4,924.3 529.4,919.3 529.5,914.3 529.1,909.4 530.8,904.8 534.7,901.7 539.0,899.2 543.4,896.9 547.1,893.6 551.0,890.4 555.1,887.6 558.9,884.4 563.2,882.0 565.5,877.6 567.5,873.0 568.3,868.2 568.7,863.2 570.2,858.4 572.1,853.8 572.6,848.8 576.3,845.6 580.8,847.0 583.8,851.1 586.3,855.4 586.8,860.2 585.7,865.1 583.8,869.7 582.3,874.4 579.9,878.8 576.6,882.6 572.7,885.6 568.5,888.4 563.6,889.1 558.7,889.8 553.9,891.3 551.6,895.7 549.5,900.2 547.0,904.5 544.3,908.8 542.9,910.8" stroke="#0097ff" marker-start="url(#m17)" marker-mid="url(#m17)" marker-end="url(#m17)"/>
<polyline points="542.9,910.8 539.9,914.7 539.3,919.7 542.2,923.6 547.1,924.2 551.6,922.2 556.4,920.7 561.4,921.0 566.0,922.9 569.6,926.3 571.6,930.8 569.3,935.1 565.3,938.1 560.6,938.1 559.3,933.4 562.4,929.5 565.6,925.7 565.1,920.8 561.1,918.2 556.7,920.3 553.8,924.3 551.4,928.4 554.1,932.4 558.9,932.8 562.9,929.9 566.5,926.4 571.2,924.7 575.9,923.1 580.5,921.4 584.0,917.8 584.1,912.9 582.7,908.1 581.4,903.3 583.9,899.0 588.4,896.9 593.1,895.3 598.0,895.4 601.8,898.7 605.1,902.4 607.7,906.7 609.6,911.3 613.1,914.9 616.2,918.8 620.9,920.3 625.5,918.4 630.0,916.2 633.7,912.8 635.7,911.5" stroke="#00a7ff" marker-start="url(#m18)" marker-mid="url(#m18)" marker-end="url(#m18)"/>
<polyline points="557.5,916.7 555.4,912.2 554.5,907.3 552.4,902.7 551.6,897.8 552.0,892.9 553.2,888.0 555.6,883.7 557.0,878.9 555.2,874.4 551.4,871.1 548.4,867.1 547.2,862.3 548.8,857.8 552.6,854.5 557.0,852.2 562.0,852.4 566.9,852.5 570.9,849.6 575.1,846.9 579.9,845.4 584.5,843.5 589.4,844.7 594.1,846.1 599.1,846.6 603.6,848.8 607.9,851.2 612.3,853.7 612.4,855.3 610.8,859.8 612.6,864.4 616.0,868.1 620.8,867.9 625.3,865.9 629.7,868.2 633.5,871.4 637.4,874.5 642.0,876.5 646.4,878.8 651.0,880.7 655.5,882.9 653.3,887.3 653.0,892.3 654.9,896.8 659.6,898.2 664.4,896.8 669.0,895.1 673.9,896.1 678.1,898.8 676.0,897.4" stroke="#0097ff" marker-start="url(#m17)" marker-mid="url(#m17)" marker-end="url(#m17)"/>
<polyline points="676.0,897.4 671.1,896.3 666.8,898.4 664.2,902.7 662.4,907.4 660.1,907.5 659.0,902.7 661.7,898.8 666.4,900.0 670.7,902.6 673.4,900.3 673.3,895.3 675.1,900.0 670.3,901.2 665.4,901.6 662.3,897.8 662.9,892.9 665.4,892.8 668.8,896.4 672.4,899.9 676.7,900.3 676.8,900.3 672.7,897.7 671.0,893.2 672.7,897.5 669.4,901.3 666.7,903.0 662.6,900.4 658.5,897.6 655.3,893.7 653.7,889.0 654.7,884.4 655.9,889.2 653.9,893.6 649.6,895.7 644.7,894.8 639.7,893.9 634.8,893.0 631.1,896.2 628.5,900.5 626.6,905.1 627.4,909.9 631.8,912.1 636.6,911.1 640.9,908.6 643.8,904.6 644.1,899.7 643.0,897.5" stroke="#00a7ff" marker-start="url(#m18)" marker-mid="url(#m18)" marker-end="url(#m18)"/>
<polyline points="562.3,906.9 560.3,911.5 557.3,915.4 552.9,917.5 548.2,916.2 545.1,912.3 545.6,907.5 548.5,903.4 552.8,900.9 557.2,898.6 561.9,896.8 566.7,895.6 571.7,895.5 576.6,895.1 581.5,896.3 585.1,899.6 586.7,904.4 586.4,909.3 585.7,914.2 584.6,919.1 580.9,922.5 576.0,923.2 571.0,923.4 566.1,924.3 561.6,926.4 557.0,928.4 552.1,929.2 547.1,928.8 543.0,926.0 538.6,923.6 534.1,921.4 529.7,919.2 526.1,915.7 526.1,910.8 528.8,906.6 533.1,904.3 538.0,903.8 541.4,907.2 541.0,912.0 536.9,914.7 532.0,915.4 527.0,914.9 523.1,912.0 523.4,907.2 527.4,904.5 532.0,902.6 536.4,900.3 541.3,899.9 545.6,902.3 547.0,904.4" stroke="#0097ff" marker-start="url(#m17)" marker-mid="url(#m17)" marker-end="url(#m17)"/>
<polyline points="547.0,904.4 547.5,909.3 544.3,912.7 540.1,915.5 536.2,918.7 535.3,923.4 538.7,927.0 543.6,927.8 548.3,929.5 552.1,932.7 555.0,936.8 557.9,940.9 561.6,944.2 566.2,945.7 570.6,943.5 574.7,940.6 579.4,938.8 584.2,937.9 589.0,936.5 593.7,937.4 596.8,941.3 596.3,946.3 596.6,951.3 596.9,956.2 597.8,961.2 599.7,965.8 601.8,970.3 604.0,974.8 607.6,978.2 611.3,981.6 615.5,984.3 620.4,983.7 623.7,980.1 622.9,975.4 619.4,971.8 616.5,967.8 614.4,963.3 611.7,959.2 607.3,956.9 602.7,954.9 598.1,956.4 594.0,959.3 589.8,961.9 585.0,963.4 580.2,962.6 576.5,959.3 574.1,955.0 573.6,952.5" stroke="#00a7ff" marker-start="url(#m18)" marker-mid="url(#m18)" marker-end="url(#m18)"/>
<polyline points="491.2,854.0 495.5,856.5 498.6,860.4 499.5,865.3 500.2,870.3 502.6,874.6 507.2,876.4 512.2,876.1 517.2,875.8 522.1,875.5 526.5,873.2 531.4,872.3 536.4,872.5 541.1,870.8 543.5,866.5 542.5,861.7 539.5,857.7 535.1,855.6 531.1,858.2 529.0,862.7 528.9,867.7 530.0,872.6 530.5,877.1 535.3,876.8 538.5,873.0 540.4,868.4 544.5,865.8 549.5,865.5 553.8,868.0 558.2,870.5 563.0,870.8 567.3,868.2 569.8,864.0 569.7,859.0 568.1,854.2" stroke="#0000f7" marker-start="url(#m7)" marker-mid="url(#m7)" marker-end="url(#m7)"/>
<polyline points="568.1,854.2 565.9,849.8 564.4,845.0 564.2,840.0 564.5,835.0 564.7,830.0 565.4,825.1 562.0,821.7 557.2,822.7 554.8,827.1 554.7,832.0 556.9,836.5 559.5,840.8 562.2,844.9 563.0,849.8 561.2,854.5 558.6,858.7 558.2,863.7 557.6,868.7 554.7,872.6 549.9,873.5 545.7,871.0 544.5,866.2 545.9,861.4 547.7,856.8 550.7,852.8 554.4,849.5 557.4,845.5 560.5,841.5 562.5,837.0 561.7,832.1 558.9,828.0 556.4,823.7 552.3,820.9 547.4,821.2 542.7,822.9 538.0,824.7 533.1,825.1 528.2,823.9 523.6,822.0 518.7,821.8 513.9,823.3 509.9,826.3 506.9,830.3 503.9,834.3 502.7,839.0 505.6,842.9 509.4,846.0 512.0,850.2 516.8,851.3" stroke="#0008ff" marker-start="url(#m8)" marker-mid="url(#m8)" marker-end="url(#m8)"/>
<polyline points="516.8,851.3 520.6,848.3 518.4,843.9 514.2,841.2 509.9,838.8 504.9,838.9 499.9,839.4 495.0,839.4" stroke="#0018ff" marker-start="url(#m9)" marker-mid="url(#m9)" marker-end="url(#m9)"/>
<polyline points="458.8,943.5 463.4,945.1 467.3,948.3 470.8,951.8 473.0,956.3 472.7,961.2 469.3,964.8 465.1,967.4 460.2,968.6 455.6,966.9 451.6,964.1 446.8,962.7 448.5,959.2 452.5,956.3 456.6,953.4 459.2,949.1 461.6,944.7 465.6,941.9 470.4,941.8 475.1,943.7 479.1,946.6" stroke="#0000b7" marker-start="url(#m3)" marker-mid="url(#m3)" marker-end="url(#m3)"/>
<polyline points="479.1,946.6 483.6,948.8 486.0,953.0 485.4,957.9 482.9,962.3 480.7,966.7 476.2,968.8 471.3,968.5 466.8,966.3 462.2,964.5 457.6,966.4 454.5,970.2 452.9,975.0 450.0,979.0 448.7,983.1 447.2,987.8 447.8,992.5 451.8,995.4 456.5,994.3 459.7,990.5 461.8,985.9 463.7,984.3" stroke="#0000c7" marker-start="url(#m4)" marker-mid="url(#m4)" marker-end="url(#m4)"/>
<polyline points="463.7,984.3 468.6,983.6 473.6,983.1 478.5,983.7 483.0,981.8 485.0,977.2 487.0,972.6 488.1,967.8 485.5,963.8 480.8,962.2 477.4,958.6 476.6,953.7 477.5,948.8 480.9,945.2 485.6,944.0 490.2,945.7 491.1,950.6 489.3,955.2 486.2,959.1 481.9,961.4 476.9,961.3 474.4,961.8" stroke="#0000d7" marker-start="url(#m5)" marker-mid="url(#m5)" marker-end="url(#m5)"/>
<polyline points="474.4,961.8 470.3,964.5 470.1,969.2 474.7,971.1 479.4,972.7 482.4,976.6 483.1,981.5 481.7,986.2 479.9,990.9 476.1,993.9 471.2,994.9 466.4,996.3 462.5,999.4 458.8,1002.8 456.2,1006.8 456.1,1011.8 456.4,1016.7 454.2,1021.2 450.6,1024.6 448.5,1029.1 446.9,1033.9 446.4,1038.9" stroke="#0000e7" marker-start="url(#m6)" marker-mid="url(#m6)" marker-end="url(#m6)"/>
<polyline points="446.4,1038.9 449.5,1042.8 453.2,1046.0 457.4,1048.8 461.8,1051.0 466.8,1051.8 470.5,1055.0" stroke="#0000f7" marker-start="url(#m7)" marker-mid="url(#m7)" marker-end="url(#m7)"/>
<polyline points="504.7,1062.5 499.7,1062.2 495.2,1060.0 491.2,1057.1 489.3,1052.5 490.1,1047.7 493.2,1043.8 494.7,1039.0 495.5,1034.2 494.4,1029.3 491.9,1025.0 490.2,1020.3 490.3,1015.4 492.3,1010.9 496.7,1008.6 501.5,1009.9 506.4,1011.0 511.2,1009.9 516.2,1009.7 520.7,1011.9 524.1,1015.3" stroke="#0000b7" marker-start="url(#m3)" marker-mid="url(#m3)" marker-end="url(#m3)"/>
<polyline points="524.1,1015.3 526.9,1019.5 530.4,1023.0 535.0,1024.4 538.6,1021.2 539.3,1016.3 537.8,1011.6 537.4,1006.9 540.9,1003.2 544.5,999.8 547.7,995.9 552.0,993.5 556.5,991.3 560.5,988.3 562.2,983.6 563.4,978.8 564.0,973.9 563.9,968.9 562.6,964.0 564.4,959.6 568.8,957.2 571.1,956.3" stroke="#0000c7" marker-start="url(#m4)" marker-mid="url(#m4)" marker-end="url(#m4)"/>
<polyline points="571.1,956.3 576.1,956.9 579.3,960.6 581.9,964.9 584.3,969.2 586.9,973.5 589.7,977.6 593.1,981.2 595.9,985.3 599.3,989.0 600.2,993.9 599.1,998.6 595.1,1001.6 590.9,1004.3 588.4,1008.6 586.6,1013.2 584.5,1017.7 581.6,1021.8 580.8,1026.7 582.6,1031.4 586.5,1034.4 589.0,1034.3" stroke="#0000d7" marker-start="url(#m5)" marker-mid="url(#m5)" marker-end="url(#m5)"/>
<polyline points="589.0,1034.3 592.4,1030.7 592.3,1025.8 588.6,1022.5 583.9,1020.7 579.1,1021.2 574.1,1021.9 569.2,1022.7 564.3,1022.0 560.0,1019.6 555.4,1017.7 552.7,1013.6 554.8,1009.2 559.7,1008.7 563.2,1012.2 563.5,1017.2 562.4,1022.0 562.7,1027.0 565.8,1030.9 568.1,1035.2 568.7,1040.2 568.5,1045.1" stroke="#0000e7" marker-start="url(#m6)" marker-mid="url(#m6)" marker-end="url(#m6)"/>
<polyline points="568.5,1045.1 568.2,1050.1 568.0,1055.1 564.7,1058.5 559.8,1059.4 554.8,1059.7 550.3,1061.8" stroke="#0000f7" marker-start="url(#m7)" marker-mid="url(#m7)" marker-end="url(#m7)"/>
<polyline points="559.3,1016.0 554.6,1017.5 550.8,1020.7 546.5,1023.3 542.2,1025.9 537.8,1028.1 532.9,1029.1 527.9,1029.2 522.9,1029.5 519.7,1033.1 518.4,1037.9 516.2,1042.3 512.9,1046.0 510.9,1050.6 510.2,1055.5 508.4,1060.2 506.0,1064.5 507.7,1069.1 512.6,1068.7 515.6,1065.0 517.2,1060.3" stroke="#0000b7" marker-start="url(#m3)" marker-mid="url(#m3)" marker-end="url(#m3)"/>
<polyline points="517.2,1060.3 521.1,1057.3 526.0,1056.1 530.8,1057.3 535.6,1058.5 540.5,1057.6 545.0,1055.7 549.6,1053.8 554.5,1053.4 559.2,1052.1 563.1,1048.9 565.7,1044.8 568.9,1041.0 573.7,1040.0 578.5,1038.6 583.5,1037.7 588.4,1036.9 593.1,1035.4 597.6,1033.3 601.9,1030.8 602.2,1026.0 600.7,1024.0" stroke="#0000c7" marker-start="url(#m4)" marker-mid="url(#m4)" marker-end="url(#m4)"/>
<polyline points="600.7,1024.0 596.1,1022.3 591.7,1024.3 589.1,1028.5 585.2,1031.6 581.0,1034.3 577.4,1037.7 575.8,1042.5 576.6,1047.4 579.0,1051.8 583.6,1053.7 588.1,1055.7 590.3,1060.1 594.1,1062.6 598.6,1060.7 598.0,1056.2 593.2,1054.9 588.5,1053.3 584.3,1050.6 581.0,1046.9 577.4,1043.5 575.2,1042.3" stroke="#0000d7" marker-start="url(#m5)" marker-mid="url(#m5)" marker-end="url(#m5)"/>
<polyline points="575.2,1042.3 570.6,1043.5 566.4,1046.3 561.6,1045.4 556.9,1043.6 552.1,1042.6 547.1,1042.2 542.5,1044.0 541.3,1048.8 543.0,1053.5 546.3,1057.2 548.3,1061.7 548.1,1066.7 548.8,1071.6 553.4,1073.1 557.6,1070.6 559.9,1066.2 559.9,1061.3 559.2,1056.4 558.7,1051.4 555.8,1047.5 551.0,1046.0" stroke="#0000e7" marker-start="url(#m6)" marker-mid="url(#m6)" marker-end="url(#m6)"/>
<polyline points="551.0,1046.0 546.1,1045.6 541.2,1046.7 536.6,1048.6 532.7,1051.7 530.6,1056.2 528.0,1060.5" stroke="#0000f7" marker-start="url(#m7)" marker-mid="url(#m7)" marker-end="url(#m7)"/>
<polyline points="552.5,1067.3 556.3,1070.6 559.1,1074.6 560.3,1079.5 560.7,1084.5 560.3,1089.4 556.8,1092.4 552.1,1094.2 547.4,1094.9 543.1,1092.5 539.8,1088.7 537.7,1084.3 540.2,1080.5 545.1,1081.4 550.1,1082.2 554.7,1083.9 559.2,1086.1 563.6,1088.4 568.5,1089.0 572.9,1087.5 574.1,1082.7" stroke="#0000b7" marker-start="url(#m3)" marker-mid="url(#m3)" marker-end="url(#m3)"/>
<polyline points="574.1,1082.7 572.8,1078.0 570.8,1073.5 571.0,1068.5 572.4,1063.7 573.1,1058.8 571.2,1054.2 569.8,1049.5 570.8,1044.6 571.7,1039.7 570.4,1034.9 568.3,1030.4 564.1,1027.7 559.7,1025.3 559.6,1020.4 561.5,1015.8 564.7,1012.1 569.6,1011.0 572.6,1014.6 571.4,1019.4 569.4,1024.0 568.2,1026.2" stroke="#0000c7" marker-start="url(#m4)" marker-mid="url(#m4)" marker-end="url(#m4)"/>
<polyline points="568.2,1026.2 565.6,1030.5 564.5,1035.3 564.4,1040.3 565.5,1045.1 568.2,1049.3 569.6,1054.1 567.9,1058.8 564.6,1062.6 561.1,1066.1 557.5,1069.5 554.9,1073.8 550.6,1076.1 546.0,1074.4 544.4,1069.8 545.7,1065.0 548.6,1061.0 553.2,1059.2 558.1,1059.6 563.1,1058.8 567.3,1056.3 568.8,1054.3" stroke="#0000d7" marker-start="url(#m5)" marker-mid="url(#m5)" marker-end="url(#m5)"/>
<polyline points="568.8,1054.3 569.2,1049.4 567.8,1044.6 564.9,1040.6 560.3,1038.7 555.3,1039.4 550.8,1041.5 546.0,1043.0 541.5,1041.3 538.3,1037.5 538.4,1032.5 539.4,1027.7 543.4,1024.6 548.1,1023.3 552.1,1026.2 554.8,1030.4 558.4,1033.9 561.4,1037.6 561.6,1042.6 562.0,1047.6 565.0,1051.5 568.8,1054.7" stroke="#0000e7" marker-start="url(#m6)" marker-mid="url(#m6)" marker-end="url(#m6)"/>
<polyline points="568.8,1054.7 570.4,1059.3 569.3,1064.2 570.7,1068.9 574.6,1071.8 578.6,1069.3 579.0,1064.3" stroke="#0000f7" marker-start="url(#m7)" marker-mid="url(#m7)" marker-end="url(#m7)"/>
<polyline points="585.2,1009.7 589.1,1006.7 594.0,1007.0 597.4,1010.7 598.5,1015.5 597.8,1020.5 595.1,1024.7 591.0,1027.5 586.5,1029.4 582.8,1032.8 579.4,1036.5 574.6,1037.8 569.7,1038.5 564.9,1039.8 560.3,1041.8 555.4,1042.9 550.5,1042.7 546.2,1040.1 541.4,1038.9 536.6,1037.4 531.6,1037.4" stroke="#0000b7" marker-start="url(#m3)" marker-mid="url(#m3)" marker-end="url(#m3)"/>
<polyline points="531.6,1037.4 526.8,1036.3 524.3,1032.0 524.5,1027.1 525.7,1022.3 525.7,1017.4 525.5,1012.4 527.8,1008.0 531.4,1004.6 534.8,1000.9 537.7,996.8 538.7,992.0 539.1,987.1 542.2,983.2 547.2,983.2 551.4,985.9 554.9,989.3 558.2,993.0 561.8,996.5 565.8,999.6 568.8,1003.6 570.1,1005.7" stroke="#0000c7" marker-start="url(#m4)" marker-mid="url(#m4)" marker-end="url(#m4)"/>
<polyline points="570.1,1005.7 572.6,1010.0 577.0,1012.3 581.4,1014.6 585.8,1016.8 590.1,1014.5 590.4,1009.6 587.6,1005.5 583.6,1002.5 579.6,999.6 575.3,996.9 570.5,995.5 565.6,994.5 560.6,994.5 556.5,996.9 553.6,1001.0 548.8,1001.7 545.0,998.6 543.7,993.9 544.1,988.9 542.3,984.3 540.7,982.3" stroke="#0000d7" marker-start="url(#m5)" marker-mid="url(#m5)" marker-end="url(#m5)"/>
<polyline points="540.7,982.3 539.0,977.7 535.4,974.7 530.4,974.4 525.4,974.2 521.3,971.4 519.8,966.6 520.6,961.7 521.9,956.8 523.4,952.1 528.1,951.6 530.4,955.9 529.6,960.8 527.8,965.4 523.3,967.4 518.6,965.8 514.3,963.3 510.4,960.2 505.9,958.1 501.0,956.9 496.2,958.1 491.5,959.9" stroke="#0000e7" marker-start="url(#m6)" marker-mid="url(#m6)" marker-end="url(#m6)"/>
<polyline points="491.5,959.9 487.6,963.1 482.9,964.7 479.1,967.9 476.4,972.1 472.1,974.4 467.4,972.7" stroke="#0000f7" marker-start="url(#m7)" marker-mid="url(#m7)" marker-end="url(#m7)"/>
<polyline points="499.5,1018.8 499.8,1013.9 499.2,1008.9 499.0,1003.9 502.2,1000.1 506.4,997.4 510.9,995.1 515.2,996.6 515.0,1001.5 511.8,1005.3 511.3,1010.3 514.2,1014.3 517.4,1018.1 520.1,1022.3 520.7,1027.2 519.3,1032.0 517.5,1036.6 518.8,1041.4 521.3,1045.7 525.1,1048.9 529.8,1050.6" stroke="#0000b7" marker-start="url(#m3)" marker-mid="url(#m3)" marker-end="url(#m3)"/>
<polyline points="529.8,1050.6 534.6,1051.7 539.6,1052.0 544.5,1052.6 547.3,1056.3 544.4,1060.2 539.5,1060.9 534.8,1059.0 530.0,1058.7 526.7,1062.2 525.8,1067.0 527.1,1071.8 530.4,1075.5 533.7,1079.2 536.3,1083.5 539.0,1087.6 543.7,1089.2 548.7,1088.9 553.7,1088.6 558.5,1089.2 563.4,1090.2 565.9,1089.8" stroke="#0000c7" marker-start="url(#m4)" marker-mid="url(#m4)" marker-end="url(#m4)"/>
<polyline points="565.9,1089.8 570.1,1087.2 574.4,1084.6 579.2,1083.5 583.9,1082.1 587.1,1078.4 587.8,1073.4 585.9,1068.9 582.8,1065.0 580.0,1060.9 578.9,1056.0 579.5,1051.3 584.2,1050.4 589.2,1051.1 591.6,1055.2 589.1,1059.5 584.3,1060.8 579.5,1062.1 574.7,1061.0 572.6,1056.7 573.6,1051.9 574.7,1049.6" stroke="#0000d7" marker-start="url(#m5)" marker-mid="url(#m5)" marker-end="url(#m5)"/>
<polyline points="574.7,1049.6 576.1,1044.8 576.1,1039.9 572.8,1036.1 568.9,1033.0 565.1,1029.8 560.4,1028.2 556.1,1025.7 554.0,1021.4 553.0,1016.5 550.5,1012.2 547.3,1008.4 544.5,1004.4 542.8,999.7 543.1,994.8 545.7,990.6 547.5,985.9 546.8,981.3 542.4,978.9 537.6,979.6 533.3,982.3 530.8,986.5" stroke="#0000e7" marker-start="url(#m6)" marker-mid="url(#m6)" marker-end="url(#m6)"/>
<polyline points="530.8,986.5 529.8,991.4 533.2,994.9 537.2,998.0 542.1,999.0 546.7,997.2 550.4,994.0" stroke="#0000f7" marker-start="url(#m7)" marker-mid="url(#m7)" marker-end="url(#m7)"/>
<polyline points="587.4,987.4 592.2,986.7 595.5,989.9 594.5,994.8 591.4,998.6 586.6,1000.0 581.8,1001.2 576.8,1001.4 572.0,1002.6 568.0,1005.7 566.1,1010.2 564.2,1014.8 562.2,1019.4 559.4,1023.5 558.9,1028.5 559.1,1033.5 559.1,1038.5 556.0,1042.2 551.1,1042.2 547.1,1039.2 543.1,1036.2" stroke="#0000b7" marker-start="url(#m3)" marker-mid="url(#m3)" marker-end="url(#m3)"/>
<polyline points="543.1,1036.2 539.9,1032.4 535.4,1030.2 530.9,1028.1 527.1,1024.9 522.3,1023.9 518.1,1026.4 517.2,1031.3 516.2,1036.2 513.6,1040.3 509.9,1043.7 505.2,1045.5 500.3,1046.3 496.7,1043.0 496.9,1038.4 500.9,1035.5 505.8,1034.7 510.8,1035.1 514.6,1038.0 515.9,1042.8 514.9,1047.7 514.2,1050.1" stroke="#0000c7" marker-start="url(#m4)" marker-mid="url(#m4)" marker-end="url(#m4)"/>
<polyline points="514.2,1050.1 512.1,1054.6 508.7,1058.1 504.3,1060.5 500.1,1063.2 497.4,1067.3 496.4,1072.2 499.0,1076.2 503.5,1078.2 506.8,1074.7 506.7,1069.7 505.2,1064.9 501.4,1061.8 496.6,1060.5 491.6,1061.2 487.0,1062.8 483.4,1066.3 481.0,1070.6 481.6,1075.5 483.2,1080.2 481.2,1084.5 479.1,1085.9" stroke="#0000d7" marker-start="url(#m5)" marker-mid="url(#m5)" marker-end="url(#m5)"/>
<polyline points="479.1,1085.9 477.0,1090.3 478.7,1094.8 483.4,1096.7 488.1,1095.6 490.2,1091.2 491.3,1086.3 491.4,1081.3 491.2,1076.3 491.2,1071.3 489.5,1066.6 487.9,1061.9 484.9,1058.0 480.6,1055.4 476.0,1053.6 471.0,1053.8 466.4,1055.5 461.8,1057.6 457.0,1059.0 452.1,1059.6 447.1,1060.2 449.9,1064.3" stroke="#0000e7" marker-start="url(#m6)" marker-mid="url(#m6)" marker-end="url(#m6)"/>
<polyline points="449.9,1064.3 454.5,1064.0 456.5,1059.8 455.2,1055.0 453.1,1050.5 451.7,1045.8 448.3,1042.1" stroke="#0000f7" marker-start="url(#m7)" marker-mid="url(#m7)" marker-end="url(#m7)"/>
<polyline points="512.7,1039.4 507.9,1038.1 503.4,1035.9 498.8,1033.9 495.5,1030.2 491.8,1027.0 486.9,1026.2 481.9,1026.3 478.0,1023.4 476.7,1018.6 477.9,1013.8 482.2,1011.3 487.1,1011.0 491.9,1012.3 496.9,1012.2 501.9,1012.6 506.8,1013.7 511.8,1014.2 516.7,1014.9 521.6,1015.0 526.6,1014.6" stroke="#0000b7" marker-start="url(#m3)" marker-mid="url(#m3)" marker-end="url(#m3)"/>
<polyline points="526.6,1014.6 531.4,1013.3 534.4,1009.3 536.2,1004.6 538.1,1000.0 538.1,995.0 538.8,990.1 539.8,985.2 541.0,980.4 542.1,975.6 545.5,972.0 549.3,968.8 554.2,968.2 558.1,971.3 560.9,975.4 563.9,979.4 566.7,983.5 568.6,988.1 569.8,992.9 569.3,997.9 569.5,1002.9 570.3,1005.2" stroke="#0000c7" marker-start="url(#m4)" marker-mid="url(#m4)" marker-end="url(#m4)"/>
<polyline points="570.3,1005.2 572.0,1009.9 574.3,1014.4 574.8,1019.3 572.7,1023.8 568.2,1025.9 563.7,1023.9 561.9,1019.4 565.0,1015.6 569.9,1014.9 574.9,1014.9 579.8,1014.6 584.7,1013.7 589.6,1014.7 594.1,1016.9 597.0,1020.7 598.2,1025.5 598.9,1030.5 598.9,1035.5 597.5,1040.2 593.4,1042.9 591.0,1042.5" stroke="#0000d7" marker-start="url(#m5)" marker-mid="url(#m5)" marker-end="url(#m5)"/>
<polyline points="591.0,1042.5 588.0,1038.8 588.8,1033.9 590.9,1029.3 593.8,1025.3 597.0,1021.5 600.7,1018.4 605.1,1015.9 606.2,1011.2 603.7,1006.9 601.3,1002.5 599.1,998.1 594.7,996.1 591.3,999.7 590.7,1004.6 589.6,1009.4 588.8,1014.4 587.2,1019.1 583.1,1021.8 579.5,1025.1 578.8,1029.9 580.7,1034.5" stroke="#0000e7" marker-start="url(#m6)" marker-mid="url(#m6)" marker-end="url(#m6)"/>
<polyline points="580.7,1034.5 583.2,1038.8 586.4,1042.6 590.1,1046.0 591.8,1050.6 592.0,1055.6 591.2,1060.5" stroke="#0000f7" marker-start="url(#m7)" marker-mid="url(#m7)" marker-end="url(#m7)"/>
<polyline points="558.7,963.3 559.7,968.2 558.5,973.0 555.9,977.3 553.5,981.5 555.1,986.0 559.3,988.6 564.1,990.2 568.8,991.7 573.8,991.5 578.8,991.6 583.7,990.8 588.0,988.2 591.4,984.7 591.4,979.8 587.7,976.4 583.4,974.0 578.6,972.6 573.7,971.5 568.8,970.5 563.9,970.7" stroke="#0000b7" marker-start="url(#m3)" marker-mid="url(#m3)" marker-end="url(#m3)"/>
<polyline points="563.9,970.7 559.3,972.5 554.4,973.5 550.1,975.8 547.3,979.9 545.3,984.5 540.9,986.0 536.7,983.5 535.5,978.7 536.5,973.9 541.0,971.9 545.9,970.7 550.6,969.3 554.3,965.9 557.4,962.0 560.7,958.3 565.0,955.7 568.7,952.5 571.6,948.5 575.4,945.3 580.2,943.9 582.7,944.1" stroke="#0000c7" marker-start="url(#m4)" marker-mid="url(#m4)" marker-end="url(#m4)"/>
<polyline points="582.7,944.1 585.6,948.0 587.4,952.7 588.5,957.5 591.0,961.8 595.6,963.8 599.4,967.0 600.0,971.7 596.2,974.9 591.4,974.1 587.7,970.7 584.5,966.9 580.6,963.8 576.0,961.8 571.1,961.1 566.7,963.4 563.2,967.0 562.0,971.7 563.7,976.4 565.0,981.2 563.3,985.8 561.6,987.7" stroke="#0000d7" marker-start="url(#m5)" marker-mid="url(#m5)" marker-end="url(#m5)"/>
<polyline points="561.6,987.7 556.8,988.8 551.9,989.6 547.0,990.5 542.0,991.0 537.1,990.4 532.2,989.7 527.3,990.9 523.0,993.5 519.8,997.3 514.9,998.5 510.0,997.9 505.0,997.1 500.4,995.5 496.1,992.8 491.4,991.1 486.5,991.1 481.7,992.7 478.2,996.1 477.4,1001.0 478.2,1005.9 478.2,1010.9" stroke="#0000e7" marker-start="url(#m6)" marker-mid="url(#m6)" marker-end="url(#m6)"/>
<polyline points="478.2,1010.9 474.6,1014.4 471.0,1017.8 470.4,1022.7 471.7,1027.5 475.7,1030.3 480.6,1031.5" stroke="#0000f7" marker-start="url(#m7)" marker-mid="url(#m7)" marker-end="url(#m7)"/>
<polyline points="485.1,1071.9 490.0,1070.9 494.9,1071.7 499.2,1074.3 503.1,1077.4 506.9,1080.6 508.6,1085.2 509.5,1090.1 510.0,1095.0 508.7,1099.8 507.3,1104.6 506.1,1109.4 502.8,1113.0 498.1,1114.4 493.4,1112.7 489.6,1109.4 485.6,1106.5 480.9,1105.0 476.1,1103.6 471.2,1102.8 467.5,1099.6" stroke="#0000b7" marker-start="url(#m3)" marker-mid="url(#m3)" marker-end="url(#m3)"/>
<polyline points="467.5,1099.6 465.1,1095.3 461.3,1092.1 458.3,1088.2 458.3,1083.3 459.4,1078.4 459.3,1073.4 457.9,1068.6 457.3,1063.7 455.2,1059.2 452.7,1055.1 454.3,1050.4 458.7,1048.1 463.5,1047.6 467.7,1050.2 470.2,1054.5 469.9,1059.5 468.2,1064.2 465.1,1068.0 462.5,1072.2 464.9,1076.3 467.3,1077.0" stroke="#0000c7" marker-start="url(#m4)" marker-mid="url(#m4)" marker-end="url(#m4)"/>
<polyline points="467.3,1077.0 472.2,1076.3 476.9,1077.7 481.2,1080.3 485.6,1082.5 488.6,1086.4 487.8,1091.3 487.9,1096.3 490.1,1100.7 494.3,1103.3 499.1,1104.4 504.1,1104.3 509.1,1104.9 513.9,1106.3 518.6,1107.7 523.5,1106.7 528.1,1104.9 531.7,1101.4 535.8,1098.6 538.5,1094.4 539.6,1089.5 539.7,1087.0" stroke="#0000d7" marker-start="url(#m5)" marker-mid="url(#m5)" marker-end="url(#m5)"/>
<polyline points="539.7,1087.0 538.1,1082.4 533.4,1081.0 528.6,1082.2 524.5,1085.0 520.4,1087.8 515.8,1089.9 512.7,1093.7 512.1,1098.7 512.7,1103.6 515.3,1107.8 517.1,1112.4 520.7,1115.4 525.7,1115.3 530.5,1114.1 535.2,1112.4 539.4,1109.7 541.5,1105.3 537.6,1102.6 533.1,1100.8 530.8,1096.4 530.2,1091.5" stroke="#0000e7" marker-start="url(#m6)" marker-mid="url(#m6)" marker-end="url(#m6)"/>
<polyline points="530.2,1091.5 529.2,1086.6 528.3,1081.7 529.5,1076.9 533.2,1073.5 537.2,1070.5 540.6,1066.9" stroke="#0000f7" marker-start="url(#m7)" marker-mid="url(#m7)" marker-end="url(#m7)"/>
<polyline points="567.4,952.2 572.0,950.3 576.9,951.1 580.0,955.0 581.9,959.6 582.6,964.5 583.2,969.4 579.6,972.1 575.1,970.0 570.9,967.4 567.2,964.1 564.7,959.7 560.6,957.1 555.7,958.1 551.2,956.3 549.6,951.7 549.4,946.7 549.4,941.7 549.9,936.7 549.7,931.8 548.7,926.9" stroke="#0000b7" marker-start="url(#m3)" marker-mid="url(#m3)" marker-end="url(#m3)"/>
<polyline points="548.7,926.9 547.6,922.0 547.5,917.1 549.4,912.5 553.6,909.9 558.2,911.8 559.7,916.5 559.6,921.5 562.5,925.5 567.4,925.4 572.1,923.7 576.9,924.7 581.5,926.5 586.2,928.2 588.7,932.5 590.8,937.0 593.8,941.0 596.0,945.5 597.4,950.3 597.3,955.2 595.0,959.6 593.7,961.8" stroke="#0000c7" marker-start="url(#m4)" marker-mid="url(#m4)" marker-end="url(#m4)"/>
<polyline points="593.7,961.8 592.0,966.4 591.0,971.3 589.9,976.2 589.6,981.1 590.8,986.0 592.1,990.8 595.5,994.1 600.5,994.8 605.2,994.4 607.5,990.0 607.6,985.1 606.4,980.2 603.0,976.6 598.5,974.6 593.5,974.4 588.5,974.2 583.6,973.8 579.3,971.2 577.6,966.5 576.2,961.8 575.5,959.4" stroke="#0000d7" marker-start="url(#m5)" marker-mid="url(#m5)" marker-end="url(#m5)"/>
<polyline points="575.5,959.4 572.8,955.2 569.2,951.8 564.9,949.2 561.0,946.1 558.5,941.8 556.0,937.5 553.8,933.0 553.3,928.2 554.9,923.5 553.4,918.8 550.9,914.4 548.8,909.9 545.8,905.9 543.0,901.9 541.2,897.3 537.3,894.3 532.5,893.2 528.1,895.4 525.6,899.7 522.9,903.9 519.8,907.8" stroke="#0000e7" marker-start="url(#m6)" marker-mid="url(#m6)" marker-end="url(#m6)"/>
<polyline points="519.8,907.8 516.4,911.5 512.8,914.9 508.2,916.8 503.2,916.6 498.6,915.0 496.0,910.8" stroke="#0000f7" marker-start="url(#m7)" marker-mid="url(#m7)" marker-end="url(#m7)"/>
<polyline points="453.8,973.1 454.0,968.1 455.7,963.5 456.9,958.6 457.3,953.7 458.3,948.8 459.4,943.9 462.5,940.1 467.4,939.0 472.4,939.0 477.3,939.6 482.3,939.8 486.4,942.7 491.1,942.4 494.4,938.7 495.8,933.9 495.8,928.9 495.6,924.0 498.4,919.8 503.1,919.1 507.4,921.6" stroke="#0000b7" marker-start="url(#m3)" marker-mid="url(#m3)" marker-end="url(#m3)"/>
<polyline points="507.4,921.6 511.8,923.9 516.7,923.9 519.5,919.8 520.3,915.1 516.5,912.1 511.6,912.8 507.7,915.9 506.9,920.7 507.9,925.6 509.8,930.2 514.2,932.2 518.8,934.1 523.6,935.2 528.4,933.9 533.1,932.2 538.0,933.2 542.7,934.6 546.6,937.8 550.4,941.0 553.7,944.7 555.1,946.9" stroke="#0000c7" marker-start="url(#m4)" marker-mid="url(#m4)" marker-end="url(#m4)"/>
<polyline points="555.1,946.9 555.5,951.8 554.0,956.6 552.7,961.4 550.7,966.0 547.6,969.9 543.9,973.2 539.1,972.5 536.9,968.1 540.4,965.0 545.2,966.3 548.1,970.3 548.8,975.3 550.5,979.9 551.7,984.8 552.9,989.6 551.4,994.3 546.8,996.3 541.9,996.4 538.3,992.9 536.0,988.5 534.7,986.4" stroke="#0000d7" marker-start="url(#m5)" marker-mid="url(#m5)" marker-end="url(#m5)"/>
<polyline points="534.7,986.4 530.2,984.2 525.2,983.8 520.6,985.6 518.3,990.0 516.0,994.4 513.1,998.5 511.4,1003.2 514.3,1007.0 519.1,1008.3 523.9,1009.8 528.8,1010.8 533.6,1011.0 538.1,1008.9 542.5,1006.4 546.7,1003.8 551.1,1001.5 555.0,998.8 554.4,994.1 549.6,994.4 545.9,997.8 542.8,1001.7" stroke="#0000e7" marker-start="url(#m6)" marker-mid="url(#m6)" marker-end="url(#m6)"/>
<polyline points="542.8,1001.7 540.8,1006.2 541.4,1011.2 543.5,1015.7 546.8,1019.4 549.2,1023.7 547.5,1028.2" stroke="#0000f7" marker-start="url(#m7)" marker-mid="url(#m7)" marker-end="url(#m7)"/>
<polyline points="563.2,1046.8 565.7,1051.1 570.3,1052.9 575.1,1052.0 580.1,1051.2 585.0,1050.2 589.3,1047.7 593.3,1044.7 597.9,1043.2 602.0,1045.2 601.1,1049.7 596.3,1050.5 592.7,1047.0 589.4,1043.3 585.0,1041.0 580.1,1040.1 575.5,1038.2 572.4,1034.3 568.8,1030.8 564.4,1028.5 561.1,1024.8" stroke="#0000b7" marker-start="url(#m3)" marker-mid="url(#m3)" marker-end="url(#m3)"/>
<polyline points="561.1,1024.8 557.5,1021.3 553.4,1018.5 549.2,1015.8 545.7,1012.2 545.6,1007.3 547.3,1002.7 548.2,997.7 548.7,992.8 549.6,987.9 549.5,982.9 549.0,977.9 547.7,973.1 546.5,968.2 548.8,963.9 552.9,961.3 557.9,962.1 562.9,962.2 567.7,961.0 572.2,958.9 577.0,957.6 579.5,957.1" stroke="#0000c7" marker-start="url(#m4)" marker-mid="url(#m4)" marker-end="url(#m4)"/>
<polyline points="579.5,957.1 584.5,956.6 589.5,956.2 591.6,951.8 592.5,946.8 597.2,947.4 598.0,952.3 596.4,957.0 594.5,961.7 592.6,966.3 589.3,969.9 585.1,972.4 583.3,976.8 582.6,981.8 583.9,986.6 588.1,989.2 592.9,990.7 597.7,992.0 602.0,994.5 606.2,997.3 608.0,1001.8 607.7,1004.3" stroke="#0000d7" marker-start="url(#m5)" marker-mid="url(#m5)" marker-end="url(#m5)"/>
<polyline points="607.7,1004.3 606.2,1009.1 605.0,1013.9 602.8,1018.4 600.6,1022.9 597.9,1027.1 593.9,1030.1 589.1,1031.4 584.2,1030.7 579.4,1031.9 576.8,1036.1 575.5,1040.9 576.8,1045.7 579.8,1049.5 584.8,1049.6 589.0,1047.1 591.8,1042.9 592.5,1038.1 591.6,1033.2 589.3,1028.8 588.0,1024.0 587.3,1019.0" stroke="#0000e7" marker-start="url(#m6)" marker-mid="url(#m6)" marker-end="url(#m6)"/>
<polyline points="587.3,1019.0 585.3,1014.5 583.4,1009.9 584.2,1005.1 587.7,1001.6 592.1,999.2 594.6,994.9" stroke="#0000f7" marker-start="url(#m7)" marker-mid="url(#m7)" marker-end="url(#m7)"/>
<polyline points="523.7,1091.8 528.6,1092.1 530.1,1096.5 528.5,1101.2 526.6,1105.8 523.8,1109.8 519.0,1110.9 514.1,1109.7 510.1,1106.8 506.4,1103.5 503.8,1099.2 501.9,1094.6 500.4,1089.9 498.4,1085.3 496.7,1080.6 493.7,1076.6 492.7,1071.7 494.7,1067.1 497.3,1062.8 501.0,1059.6 503.9,1055.6" stroke="#0000b7" marker-start="url(#m3)" marker-mid="url(#m3)" marker-end="url(#m3)"/>
<polyline points="503.9,1055.6 507.4,1052.0 512.2,1051.5 516.9,1053.1 521.8,1054.1 526.6,1053.6 528.4,1049.1 526.8,1044.5 523.9,1040.4 522.9,1035.5 521.3,1030.8 518.4,1026.7 515.8,1022.5 512.9,1018.3 509.8,1014.5 505.7,1011.6 501.0,1009.9 496.2,1008.5 491.4,1007.5 486.5,1008.3 481.5,1008.0 479.0,1007.5" stroke="#0000c7" marker-start="url(#m4)" marker-mid="url(#m4)" marker-end="url(#m4)"/>
<polyline points="479.0,1007.5 474.7,1005.2 470.5,1002.4 465.6,1002.0 460.6,1001.9 455.6,1001.7 450.8,1000.4 447.4,996.8 447.5,992.2 448.7,987.3 448.6,982.4 448.6,977.4 446.9,972.7 447.3,967.7 446.9,962.7 447.2,957.8 447.1,952.9 448.7,950.9 453.7,950.3 457.1,946.7 457.0,941.8 456.2,939.4" stroke="#0000d7" marker-start="url(#m5)" marker-mid="url(#m5)" marker-end="url(#m5)"/>
<polyline points="456.2,939.4 454.3,934.8 454.4,929.8 454.0,924.8 455.7,920.3 459.5,917.2 463.2,913.8 466.9,910.5 471.7,909.3 475.7,912.1 478.8,916.1 482.9,919.0 485.6,923.1 486.4,928.0 484.1,932.4 480.1,935.4 475.4,937.2 470.4,937.2 465.5,936.4 460.9,934.6 457.4,931.3 458.1,926.4" stroke="#0000e7" marker-start="url(#m6)" marker-mid="url(#m6)" marker-end="url(#m6)"/>
<polyline points="458.1,926.4 461.3,922.7 465.5,920.1 470.0,917.8 474.5,915.8 478.4,912.6 482.4,909.7" stroke="#0000f7" marker-start="url(#m7)" marker-mid="url(#m7)" marker-end="url(#m7)"/>
<polyline points="458.7,977.3 455.3,973.7 451.5,970.5 448.7,966.4 447.7,961.6 448.6,956.7 450.4,952.1 452.5,947.5 454.4,942.9 455.5,938.0 456.6,933.2 458.4,928.5 460.1,923.8 461.5,919.0 465.4,916.3 470.3,916.7 475.1,918.3 480.0,918.0 484.9,916.7 488.7,913.6 491.9,909.8" stroke="#0000b7" marker-start="url(#m3)" marker-mid="url(#m3)" marker-end="url(#m3)"/>
<polyline points="491.9,909.8 493.4,905.1 496.1,900.8 500.8,899.4 505.2,897.4 508.9,893.9 513.5,892.6 518.2,894.1 522.9,896.0 527.7,896.4 532.7,895.6 537.1,897.5 538.8,902.1 539.9,906.9 539.9,911.9 536.7,915.4 532.3,913.4 528.2,910.9 523.2,911.5 518.2,911.4 513.3,911.6 511.1,912.8" stroke="#0000c7" marker-start="url(#m4)" marker-mid="url(#m4)" marker-end="url(#m4)"/>
<polyline points="511.1,912.8 507.8,916.3 510.5,920.3 515.1,921.7 520.0,920.7 524.6,918.7 528.0,915.1 531.3,911.5 533.4,906.9 533.5,902.2 531.0,897.9 527.8,894.1 523.8,891.2 519.1,889.4 514.4,890.7 510.0,893.0 508.2,897.5 509.8,902.2 512.2,906.5 513.9,911.2 512.9,916.1 511.7,918.3" stroke="#0000d7" marker-start="url(#m5)" marker-mid="url(#m5)" marker-end="url(#m5)"/>
<polyline points="511.7,918.3 511.1,923.2 510.6,928.2 507.5,932.0 502.9,934.0 498.2,935.5 493.3,936.2 488.5,937.5 484.6,940.6 483.1,945.3 483.3,950.3 484.1,955.2 485.7,959.9 486.5,964.8 484.9,969.5 481.5,973.2 477.3,975.7 473.5,978.9 470.3,982.8 466.6,986.1 461.9,987.1 457.9,984.0" stroke="#0000e7" marker-start="url(#m6)" marker-mid="url(#m6)" marker-end="url(#m6)"/>
<polyline points="457.9,984.0 453.4,982.2 448.4,982.1 448.2,977.1 449.1,972.3 449.5,967.3 447.1,963.0" stroke="#0000f7" marker-start="url(#m7)" marker-mid="url(#m7)" marker-end="url(#m7)"/>
<polyline points="581.3,1018.0 576.5,1019.3 572.1,1017.2 569.5,1012.9 569.0,1008.1 572.8,1005.3 577.5,1006.8 581.6,1009.5 586.4,1009.3 589.6,1005.5 593.0,1001.8 593.6,997.0 591.1,992.7 586.8,990.1 583.6,986.3 582.0,981.6 581.2,976.7 579.9,971.9 579.0,967.0 577.7,962.2 575.0,957.9" stroke="#0000b7" marker-start="url(#m3)" marker-mid="url(#m3)" marker-end="url(#m3)"/>
<polyline points="575.0,957.9 572.7,953.5 571.1,948.8 572.1,944.0 574.5,939.6 577.7,935.8 580.8,932.2 585.7,931.7 589.2,935.2 588.6,940.1 585.9,944.2 581.8,947.1 578.1,950.3 573.8,952.5 568.9,951.7 565.3,948.3 561.8,944.8 557.0,944.8 552.8,947.5 549.0,950.8 547.1,955.2 547.6,957.7" stroke="#0000c7" marker-start="url(#m4)" marker-mid="url(#m4)" marker-end="url(#m4)"/>
<polyline points="547.6,957.7 550.6,961.6 553.9,965.4 556.6,969.5 561.1,971.0 565.3,968.4 568.5,964.6 573.1,962.7 578.1,962.6 583.1,962.5 588.0,961.4 592.9,960.6 597.8,961.1 602.8,962.1 607.2,964.2 608.0,969.1 605.7,973.4 601.1,975.3 596.2,974.3 591.3,973.6 586.8,975.6 584.8,977.1" stroke="#0000d7" marker-start="url(#m5)" marker-mid="url(#m5)" marker-end="url(#m5)"/>
<polyline points="584.8,977.1 580.2,979.1 575.6,980.9 572.7,984.9 570.8,989.5 566.6,992.2 562.0,994.0 557.1,993.7 552.6,991.4 548.6,988.6 543.8,987.1 538.9,986.2 534.3,984.6 530.4,981.4 527.8,977.2 524.3,973.7 519.4,973.8 515.9,977.2 513.8,981.7 512.3,986.4 512.2,991.4 513.3,996.2" stroke="#0000e7" marker-start="url(#m6)" marker-mid="url(#m6)" marker-end="url(#m6)"/>
<polyline points="513.3,996.2 515.8,1000.6 519.0,1004.4 522.7,1007.7 527.2,1009.8 531.4,1012.5 533.7,1016.9" stroke="#0000f7" marker-start="url(#m7)" marker-mid="url(#m7)" marker-end="url(#m7)"/>
<polyline points="545.8,1136.6 549.8,1133.6 552.2,1129.2 553.6,1124.5 554.4,1119.6 554.8,1114.6 552.5,1110.2 547.9,1108.5 544.2,1111.5 541.0,1115.3 536.8,1118.0" stroke="#000097" marker-start="url(#m1)" marker-mid="url(#m1)" marker-end="url(#m1)"/>
<polyline points="536.8,1118.0 533.6,1121.8 533.0,1126.8 532.8,1131.8 532.6,1136.7 532.1,1141.7 530.7,1146.5 531.5,1151.1 536.1,1153.0 541.0,1154.0 545.7,1152.7 547.8,1148.2 547.0,1143.2 544.8,1138.8 541.6,1134.9 537.4,1132.6 532.4,1132.6 527.4,1132.8 524.5,1136.5 527.1,1140.7 531.6,1142.7 536.6,1143.1 541.6,1142.9 546.4,1144.5 551.3,1144.5 556.2,1143.9 561.1,1144.1 566.1,1144.5 570.8,1143.2 574.8,1140.2 578.8,1137.3 583.7,1136.1 588.3,1134.4 592.8,1132.1 597.7,1131.7 602.7,1131.6 607.4,1133.3 609.3,1137.9 609.4,1142.9 610.0,1147.8 612.6,1152.0 617.4,1153.4 622.2,1154.7 626.0,1157.9 630.5,1159.9 635.3,1159.0 638.7,1155.3 641.9,1151.5 645.7,1148.3 649.5,1145.1 654.3,1143.7 658.0,1140.5 660.7,1144.6 660.0,1149.5 656.7,1152.9 651.7,1152.7 646.9,1151.4 644.9,1150.0" stroke="#0000a7" marker-start="url(#m2)" marker-mid="url(#m2)" marker-end="url(#m2)"/>
<polyline points="644.9,1150.0 642.3,1145.7 642.3,1140.7 641.8,1135.8 639.1,1131.6 636.1,1127.7 631.6,1125.4 627.7,1122.3 624.8,1122.7 620.8,1125.5 616.3,1127.7 612.4,1130.8 609.0,1134.4 607.1,1139.0 608.6,1143.5 613.4,1144.0 617.8,1141.8 621.5,1138.4 626.5,1137.7 631.3,1138.7 633.6,1143.0 633.9,1148.0 634.2,1152.9 632.4,1157.5 629.8,1161.8 625.6,1164.5 620.7,1164.8 616.3,1162.6 612.9,1158.9 610.7,1154.4 611.9,1149.6 614.7,1145.4 615.8,1140.6 617.8,1136.0 619.0,1131.1 620.9,1126.6 623.4,1122.4 621.6,1120.3" stroke="#0000b7" marker-start="url(#m3)" marker-mid="url(#m3)" marker-end="url(#m3)"/>
<polyline points="585.7,1102.6 581.9,1099.3 577.6,1096.8 572.8,1097.7 570.8,1101.9 574.0,1105.7 578.6,1107.4 583.1,1105.3 586.7,1102.0 587.9,1097.1 589.6,1092.5" stroke="#000097" marker-start="url(#m1)" marker-mid="url(#m1)" marker-end="url(#m1)"/>
<polyline points="589.6,1092.5 589.1,1087.5 591.2,1083.2 596.0,1082.9 600.2,1085.4 602.8,1089.7 603.3,1094.6 603.7,1099.6 601.7,1104.1 597.0,1105.5 592.1,1106.3 587.1,1105.5 582.2,1106.2 578.9,1109.8 576.6,1114.3 573.5,1118.1 568.6,1117.5 566.6,1113.2 568.0,1108.5 569.4,1103.7 569.5,1098.7 569.1,1093.7 566.6,1089.5 564.4,1085.0 565.9,1080.3 569.7,1077.1 574.0,1074.6 578.8,1073.0 583.7,1072.4 588.7,1071.8 592.3,1068.3 594.8,1064.1 594.4,1059.2 590.6,1056.0 585.7,1055.4 580.8,1056.5 576.6,1059.1 574.5,1063.6 573.6,1068.4 573.6,1073.4 576.6,1077.2 581.5,1077.6 586.4,1076.6 589.6,1072.8 591.0,1068.0 592.4,1063.2 595.6,1059.4 599.0,1055.8 601.7,1051.6 606.0,1049.3 610.8,1050.4 613.4,1054.6 615.1,1059.3 615.6,1064.3 615.1,1069.2 614.9,1074.2 615.3,1079.2 615.5,1081.7" stroke="#0000a7" marker-start="url(#m2)" marker-mid="url(#m2)" marker-end="url(#m2)"/>
<polyline points="615.5,1081.7 616.8,1086.4 620.2,1090.0 624.9,1089.3 626.8,1084.7 629.4,1080.4 628.3,1075.7 625.7,1071.3 624.5,1066.5 622.8,1061.8 618.4,1059.4 613.7,1060.3 609.3,1062.5 604.4,1061.7 600.7,1058.5 603.9,1055.6 608.4,1057.7 610.2,1062.4 610.2,1067.3 608.9,1072.1 609.0,1077.1 610.6,1081.7 614.7,1084.4 619.7,1084.2 624.6,1083.2 628.4,1080.3 630.7,1075.9 633.0,1071.5 637.6,1070.3 641.9,1072.8 646.2,1075.1 650.8,1076.9 653.7,1081.0 657.8,1080.8 662.0,1078.5 657.3,1079.9 652.4,1081.1 649.6,1085.2" stroke="#0000b7" marker-start="url(#m3)" marker-mid="url(#m3)" marker-end="url(#m3)"/>
<polyline points="583.0,1136.2 578.3,1137.6 573.4,1139.0 568.8,1140.7 564.0,1142.1 559.4,1140.1 557.2,1135.8 557.9,1130.9 558.7,1126.0 560.0,1121.2 562.7,1117.1" stroke="#000097" marker-start="url(#m1)" marker-mid="url(#m1)" marker-end="url(#m1)"/>
<polyline points="562.7,1117.1 565.7,1113.1 565.3,1108.2 563.8,1103.4 561.1,1099.2 559.7,1094.5 560.1,1089.5 559.9,1084.5 556.1,1081.4 551.7,1079.0 548.8,1075.0 547.6,1070.1 548.7,1065.4 552.0,1061.7 556.9,1061.1 561.9,1060.6 566.6,1059.1 571.4,1058.1 576.0,1060.2 579.2,1063.9 580.3,1068.8 580.0,1073.8 579.8,1078.8 576.0,1082.0 571.9,1084.7 569.8,1089.2 570.7,1094.1 571.5,1099.0 570.4,1103.8 568.0,1108.1 565.7,1112.6 563.9,1117.2 565.0,1122.0 565.8,1127.0 566.7,1131.9 568.8,1136.4 570.4,1141.1 572.5,1145.7 575.2,1149.8 578.4,1153.7 579.9,1158.5 584.1,1161.0 588.9,1160.2 592.4,1156.8 594.6,1152.3 594.2,1147.5 592.1,1143.0 590.9,1138.1 588.8,1133.6 587.7,1128.7 585.9,1124.1 584.5,1119.3 584.3,1114.4 586.2,1109.8 588.4,1105.3 591.0,1101.1 595.5,1098.9 597.7,1097.7" stroke="#0000a7" marker-start="url(#m2)" marker-mid="url(#m2)" marker-end="url(#m2)"/>
<polyline points="597.7,1097.7 602.1,1095.4 606.9,1094.2 611.8,1094.9 616.8,1095.8 621.7,1095.8 624.8,1092.0 626.6,1087.3 624.6,1082.8 621.1,1079.3 616.3,1078.4 611.9,1080.8 608.2,1084.1 605.3,1088.2 601.6,1091.5 597.9,1094.8 594.5,1098.4 591.3,1102.3 587.4,1105.4 583.0,1107.4 578.2,1106.1 573.7,1104.0 568.8,1103.7 563.8,1102.8 558.8,1103.0 553.9,1103.7 548.9,1103.7 543.9,1103.4 539.0,1102.6 534.2,1104.0 530.7,1107.5 527.3,1111.2 523.4,1114.2 520.3,1118.1 520.4,1123.0 523.5,1126.9 528.0,1128.9 532.5,1131.1" stroke="#0000b7" marker-start="url(#m3)" marker-mid="url(#m3)" marker-end="url(#m3)"/>
<polyline points="449.8,1076.6 452.3,1081.0 453.2,1085.9 453.0,1090.8 455.2,1095.2 459.6,1097.5 464.4,1098.8 469.4,1099.4 474.3,1098.5 478.9,1096.5 483.6,1094.8 488.4,1093.5 493.3,1094.0 495.8,1093.7" stroke="#18ffe7" marker-start="url(#m25)" marker-mid="url(#m25)" marker-end="url(#m25)"/>
<polyline points="495.8,1093.7 499.6,1090.6 502.0,1086.3 501.9,1081.3 501.6,1076.4 500.8,1071.7 496.9,1068.7 493.4,1065.4 494.0,1060.6 496.9,1056.5 500.1,1052.7 503.8,1049.3 505.1,1044.5 505.7,1039.6 507.1,1034.8 504.9,1030.5 500.1,1029.2 495.3,1030.6 490.4,1031.3 485.4,1031.3 481.6,1034.4 480.8,1039.3 483.5,1043.3 488.4,1044.0 492.4,1041.4 495.0,1037.2 497.0,1032.6 497.5,1027.6 500.5,1023.8 505.4,1022.5 510.2,1021.6" stroke="#28ffd7" marker-start="url(#m26)" marker-mid="url(#m26)" marker-end="url(#m26)"/>
<polyline points="510.2,1021.6 514.2,1019.1 515.3,1014.2 513.7,1009.6 510.1,1006.1 505.3,1004.6 500.5,1003.4 496.0,1004.9 492.6,1008.6 488.1,1010.7 483.1,1010.4 478.7,1008.4 476.2,1004.2 479.7,1001.6 482.8,1005.4 480.4,1009.5 476.4,1012.6 473.2,1016.4 470.6,1020.6 469.7,1025.5 470.7,1030.4 471.6,1035.2 471.1,1040.2 471.2,1045.1 473.5,1049.5 476.8,1053.2 480.6,1056.4 484.6,1059.3 489.5,1060.5 493.9,1062.9 497.9,1065.8 498.9,1068.1" stroke="#38ffc7" marker-start="url(#m27)" marker-mid="url(#m27)" marker-end="url(#m27)"/>
<polyline points="498.9,1068.1 500.6,1072.8" stroke="#48ffb7" marker-start="url(#m28)" marker-mid="url(#m28)" marker-end="url(#m28)"/>
<polyline points="468.9,1025.1 471.8,1029.2 472.1,1034.1 469.6,1038.5 467.8,1043.1 466.8,1047.9 468.9,1052.5 473.3,1054.7 478.2,1055.5 483.2,1055.9 487.6,1058.1 490.7,1062.0 492.2,1066.7 493.0,1069.1" stroke="#18ffe7" marker-start="url(#m25)" marker-mid="url(#m25)" marker-end="url(#m25)"/>
<polyline points="493.0,1069.1 493.6,1074.1 492.1,1078.9 489.2,1082.7 485.5,1086.0 482.7,1090.1 482.2,1095.1 480.9,1099.9 478.7,1104.4 475.8,1108.5 471.0,1109.7 467.3,1106.5 464.0,1102.7 459.1,1101.9 454.2,1102.1 449.2,1102.5 448.3,1099.1 450.7,1094.8 452.3,1090.1 455.0,1085.9 459.1,1083.2 464.1,1082.8 469.1,1082.6 474.1,1082.4 478.7,1084.0 482.1,1087.5 483.0,1092.4 480.8,1096.9 478.8,1101.5 476.3,1105.7 473.8,1110.0" stroke="#28ffd7" marker-start="url(#m26)" marker-mid="url(#m26)" marker-end="url(#m26)"/>
<polyline points="473.8,1110.0 470.7,1113.9 466.7,1116.9 462.2,1115.4 458.3,1112.3 454.8,1108.7 453.6,1103.9 453.4,1098.9 453.0,1093.9 451.0,1089.4 450.0,1084.6 453.1,1081.0 457.9,1079.7 462.8,1079.1 466.2,1075.4 468.7,1071.1 469.2,1066.1 471.4,1061.7 474.8,1058.1 479.8,1057.2 484.2,1055.0 488.2,1052.0 491.2,1048.1 492.8,1043.4 493.5,1038.4 491.9,1033.7 487.5,1031.2 483.3,1028.6 479.3,1025.6 476.2,1021.7 474.2,1017.1 472.3,1015.5" stroke="#38ffc7" marker-start="url(#m27)" marker-mid="url(#m27)" marker-end="url(#m27)"/>
<polyline points="472.3,1015.5 467.9,1013.0" stroke="#48ffb7" marker-start="url(#m28)" marker-mid="url(#m28)" marker-end="url(#m28)"/>
<polyline points="609.8,970.7 614.4,972.7 618.0,976.2 621.6,979.5 624.2,983.8 626.3,988.3 628.7,992.7 628.8,995.2" stroke="#00c7ff" marker-start="url(#m20)" marker-mid="url(#m20)" marker-end="url(#m20)"/>
<polyline points="628.8,995.2 626.7,999.6 622.6,1002.5 618.1,1004.4 613.2,1003.8 610.3,999.8 609.8,994.8 612.5,990.6 615.4,986.6 619.0,983.1 623.4,980.8 627.0,977.3 631.5,976.0 634.2,979.8 631.0,983.4 626.2,982.4 621.7,980.4 617.1,978.4 613.4,975.2 612.7,970.2 613.2,965.3 615.2,960.7 616.7,958.7" stroke="#00d7ff" marker-start="url(#m21)" marker-mid="url(#m21)" marker-end="url(#m21)"/>
<polyline points="457.6,906.2 453.2,904.2 448.5,905.8 447.6,905.2 449.1,900.5 451.6,896.2 455.6,893.2 459.2,889.7 464.0,888.5 468.5,890.4 469.9,895.0 468.5,899.8 465.7,903.9 463.5,908.4 463.9,910.9" stroke="#b70000" marker-start="url(#m60)" marker-mid="url(#m60)" marker-end="url(#m60)"/>
<polyline points="463.9,910.9 464.7,915.8 466.2,920.5 465.9,925.4 462.9,929.4 461.9,934.3 462.1,939.2 463.2,944.1 467.8,945.4 471.2,941.8 473.9,937.7 472.9,932.9 471.1,931.2" stroke="#a70000" marker-start="url(#m61)" marker-mid="url(#m61)" marker-end="url(#m61)"/>
<polyline points="533.5,900.7 538.1,902.7 543.0,903.2 548.0,903.9 553.0,903.9 557.4,906.0 559.0,910.6 556.5,914.8 552.9,918.3 549.6,922.0 546.4,925.8 542.8,929.3 538.2,931.1 533.3,931.8 529.1,934.5 524.3,935.4 520.8,931.9 520.7,926.9 524.2,923.4 528.6,921.2 533.1,919.0 537.9,917.5 542.7,916.4" stroke="#f7ff08" marker-start="url(#m39)" marker-mid="url(#m39)" marker-end="url(#m39)"/>
<polyline points="542.7,916.4 547.3,914.3 550.9,910.8 554.7,907.6 557.9,904.0 557.5,901.5" stroke="#fff700" marker-start="url(#m40)" marker-mid="url(#m40)" marker-end="url(#m40)"/>
<polyline points="555.2,1030.2 559.1,1027.1 563.5,1024.8 568.3,1023.4 573.3,1022.9 577.0,1019.6 581.4,1017.2 586.2,1015.7 591.0,1014.6 595.9,1014.9 600.4,1017.0 602.8,1021.3 600.9,1025.7 596.7,1028.4 591.9,1029.8 587.0,1029.6 582.4,1027.7 577.8,1025.7 574.3,1022.2 570.1,1019.5 565.6,1017.4 560.9,1015.8 558.5,1015.3" stroke="#ffb700" marker-start="url(#m44)" marker-mid="url(#m44)" marker-end="url(#m44)"/>
<polyline points="558.5,1015.3 553.5,1015.8 548.6,1014.9 544.9,1011.5 541.7,1007.7 540.2,1003.0 541.3,998.2 545.4,995.4 550.3,995.1 555.2,996.1 559.8,998.1 564.3,1000.1 569.3,999.9 573.5,997.3 577.0,993.7 580.8,990.4 585.6,989.5 590.3,990.8 592.3,995.3 592.4,1000.3 592.8,1005.3 596.0,1009.0 600.3,1011.5 604.0,1014.8 605.6,1019.4 606.7,1024.3 608.2,1029.1" stroke="#ffa700" marker-start="url(#m45)" marker-mid="url(#m45)" marker-end="url(#m45)"/>
<polyline points="608.2,1029.1 607.2,1034.0 606.3,1038.9 606.8,1043.8 606.3,1048.8 603.4,1052.6 598.7,1053.7 594.5,1051.1 591.3,1047.3 589.1,1046.0" stroke="#ff9700" marker-start="url(#m46)" marker-mid="url(#m46)" marker-end="url(#m46)"/>
<polyline points="564.8,1047.6 561.4,1051.3 557.5,1054.4 553.2,1056.9 549.2,1059.9 548.9,1064.6 552.5,1068.0 557.5,1068.0 562.4,1066.8 566.2,1063.7 567.5,1058.9" stroke="#ff4800" marker-start="url(#m51)" marker-mid="url(#m51)" marker-end="url(#m51)"/>
<polyline points="567.5,1058.9 569.2,1054.2 572.6,1050.6 576.9,1048.2 581.2,1045.5 585.7,1043.3 590.1,1041.0 593.2,1037.1 597.1,1034.1 601.1,1036.6 603.9,1040.7 608.8,1041.6 612.6,1044.7 613.8,1046.9" stroke="#ff3800" marker-start="url(#m52)" marker-mid="url(#m52)" marker-end="url(#m52)"/>
<polyline points="613.8,1046.9 615.1,1051.7 615.9,1056.6 618.3,1061.0 618.5,1065.6 615.0,1069.1 610.3,1070.5 605.3,1070.0 600.7,1068.1 596.7,1065.2 595.0,1060.6 595.4,1055.6 597.3,1051.0 598.3,1048.7" stroke="#ff2800" marker-start="url(#m53)" marker-mid="url(#m53)" marker-end="url(#m53)"/>
<polyline points="598.3,1048.7 602.1,1045.5 606.4,1043.0 611.2,1041.9" stroke="#ff1800" marker-start="url(#m54)" marker-mid="url(#m54)" marker-end="url(#m54)"/>
<polyline points="627.3,1084.3 629.2,1079.7 630.6,1074.9 631.0,1069.9 627.9,1066.2 623.5,1063.9 618.7,1062.7 613.9,1063.7 612.3,1068.1 614.4,1072.7 618.5,1075.4 621.9,1079.1 623.7,1083.8 626.7,1087.7 631.6,1088.6 636.5,1089.4 641.3,1088.5 645.6,1086.0 648.4,1081.9 650.6,1077.4 652.1,1072.6 650.4,1068.1 645.4,1067.7 640.7,1066.4 636.8,1063.2 634.9,1061.6" stroke="#b70000" marker-start="url(#m60)" marker-mid="url(#m60)" marker-end="url(#m60)"/>
<polyline points="634.9,1061.6 631.2,1058.3 628.6,1054.0 629.5,1049.3 634.1,1048.4 638.3,1051.0 641.0,1055.2 640.6,1060.2 639.9,1065.1 640.2,1070.1 640.3,1075.1 636.6,1077.7 631.6,1077.9 626.7,1079.1 621.8,1079.5 617.0,1080.5 616.5,1085.2 619.0,1089.5 623.0,1092.2 627.7,1090.7 630.8,1086.8 634.2,1083.2 638.1,1079.9 642.6,1077.9 647.5,1076.8 652.0,1078.5 654.6,1082.6 659.4,1081.3 662.2,1078.0 662.3,1073.0 661.1,1068.2 659.8,1063.4 656.5,1059.7" stroke="#a70000" marker-start="url(#m61)" marker-mid="url(#m61)" marker-end="url(#m61)"/>
<polyline points="483.7,1095.8 483.1,1090.9 483.1,1085.9 484.0,1081.0 483.8,1076.0 484.6,1071.1 487.0,1066.8 491.0,1063.8 495.3,1061.3 500.2,1061.6 504.3,1064.5 509.1,1065.8 513.9,1067.1 516.4,1071.2 514.9,1075.9 510.6,1078.3 506.2,1080.5 503.8,1084.8 502.2,1089.5" stroke="#08fff7" marker-start="url(#m24)" marker-mid="url(#m24)" marker-end="url(#m24)"/>
<polyline points="502.2,1089.5 501.9,1094.5 504.4,1098.8 508.7,1101.2 513.6,1102.1 517.6,1104.2 516.0,1108.6 511.3,1108.5 510.0,1103.7 511.4,1098.9 512.4,1094.0 513.7,1089.2 514.8,1084.3 516.3,1079.5 514.3,1075.0 512.9,1070.2 509.9,1066.6 505.7,1068.9 504.3,1073.7 502.5,1078.3 503.9,1083.1 508.2,1085.6 510.7,1089.8 513.2,1094.0 516.6,1097.7 517.0,1102.6 513.3,1105.7 508.4,1106.6 503.5,1105.4 499.1,1103.0" stroke="#18ffe7" marker-start="url(#m25)" marker-mid="url(#m25)" marker-end="url(#m25)"/>
<polyline points="499.1,1103.0 494.3,1102.1 490.9,1105.7 488.4,1110.0 485.9,1114.4 481.7,1116.9 476.8,1117.3 472.7,1114.5 470.9,1109.9 470.5,1104.9 467.7,1100.9 463.6,1098.1 459.5,1095.2 454.7,1094.0 450.4,1096.3 448.6,1101.0 449.2,1106.0 451.2,1110.5 455.2,1113.4 460.0,1114.7 465.0,1115.1 469.8,1113.7 474.1,1111.2 479.0,1111.6 481.5,1112.2" stroke="#28ffd7" marker-start="url(#m26)" marker-mid="url(#m26)" marker-end="url(#m26)"/>
<polyline points="459.9,1129.1 457.3,1133.3 455.2,1137.9 453.6,1142.6 453.4,1147.6 449.0,1145.9 447.5,1141.2 449.0,1138.9 453.9,1140.3 458.6,1141.8 463.4,1143.2 468.4,1143.1 473.3,1142.5 478.3,1143.1 481.9,1139.8 482.9,1135.0 482.1,1130.0 481.4,1125.1 479.5,1120.5 475.1,1118.2 470.3,1117.4" stroke="#97ff68" marker-start="url(#m33)" marker-mid="url(#m33)" marker-end="url(#m33)"/>
<polyline points="470.3,1117.4 465.4,1118.4 461.1,1120.9 456.8,1123.5 455.0,1128.1 454.1,1133.0 455.8,1137.7 460.3,1139.7 465.3,1139.6 470.2,1140.4 474.8,1142.3 479.2,1144.6 483.9,1146.1 488.4,1144.0 491.1,1139.8 493.3,1135.5 497.6,1133.0 502.4,1131.8 505.0,1135.7 503.2,1140.4 499.6,1143.9 495.0,1145.8 490.0,1146.2 485.4,1144.6 481.8,1141.2 480.0,1136.5 477.8,1132.0 476.0,1127.3 477.2,1122.6 477.7,1117.7 475.6,1113.3 471.1,1111.0 466.3,1109.9 461.3,1110.6 456.6,1111.7 451.6,1112.3 446.8,1111.0 448.5,1106.3 452.0,1102.8 456.9,1102.0 461.7,1103.4 466.6,1104.5 471.4,1105.3" stroke="#a7ff58" marker-start="url(#m34)" marker-mid="url(#m34)" marker-end="url(#m34)"/>
<polyline points="471.4,1105.3 476.2,1106.8 480.9,1108.5" stroke="#b7ff48" marker-start="url(#m35)" marker-mid="url(#m35)" marker-end="url(#m35)"/>
<polyline points="661.1,1158.0 665.6,1155.8 669.1,1152.5 667.7,1150.2 663.4,1152.7 659.2,1155.4 654.4,1156.7 651.1,1160.4 650.1,1165.3 651.1,1170.2 654.1,1167.6 655.7,1162.9 660.3,1161.3" stroke="#78ff87" marker-start="url(#m31)" marker-mid="url(#m31)" marker-end="url(#m31)"/>
<polyline points="660.3,1161.3 665.2,1162.2 660.4,1163.4 655.7,1165.0 650.8,1163.9 646.0,1164.8 641.8,1167.5 640.6,1172.1 644.6,1174.8 644.3,1169.8 644.2,1164.8 641.6,1160.7 636.8,1159.1 631.9,1158.4 628.8,1162.0 630.6,1166.6 634.8,1169.0 639.1,1166.8 642.9,1163.7 644.3,1158.9 644.7,1153.9 647.3,1149.7 650.9,1146.3 655.2,1143.8 660.1,1143.3 662.7,1146.0 664.6,1150.6 665.8,1155.4 664.5,1160.3 662.1,1164.6 658.9,1164.4 656.5,1160.1 655.2,1155.2 653.5,1150.6 650.6,1146.5 648.3,1142.1 647.1,1139.9" stroke="#87ff78" marker-start="url(#m32)" marker-mid="url(#m32)" marker-end="url(#m32)"/>
<polyline points="495.7,1169.5 500.1,1171.8 504.2,1174.5 507.1,1178.6 506.1,1183.3 502.7,1186.9 498.3,1189.4 493.8,1191.6 489.3,1193.6 484.3,1193.5 479.3,1194.0 474.5,1195.2 469.7,1193.8 465.8,1190.7 463.6,1186.3 461.3,1181.9 458.7,1177.6 456.4,1173.2 453.1,1169.4 448.7,1167.2 446.5,1163.8 448.0,1159.7 452.6,1157.7 457.4,1158.7 462.2,1160.2 464.8,1164.1 462.1,1168.3 458.7,1171.9 455.5,1175.6 454.9,1180.6 454.4,1185.5 456.0,1190.0 458.0,1194.6 459.4,1199.4 462.8,1202.9 467.8,1202.6 471.6,1199.5 475.7,1196.8 480.3,1198.4 481.6,1202.9 478.9,1207.0 473.9,1206.9" stroke="#ffb700" marker-start="url(#m44)" marker-mid="url(#m44)" marker-end="url(#m44)"/>
<polyline points="473.9,1206.9 469.5,1204.6 464.7,1203.4 459.9,1204.6 455.3,1206.4 451.1,1204.0 450.5,1199.1 452.0,1194.3 455.7,1191.3 460.6,1191.5 465.5,1190.7 470.1,1188.6 474.1,1185.7 476.9,1181.6 479.5,1177.3 482.1,1173.2 482.0,1168.2 479.5,1163.9 475.9,1160.5 472.9,1156.5 475.0,1152.2 478.7,1148.9 482.3,1145.4 485.7,1141.7 489.7,1138.9 494.2,1140.7 494.8,1145.6 492.6,1150.0 488.7,1153.1 484.6,1155.9 486.4,1160.4 490.8,1162.8 495.7,1162.7 500.6,1161.9 503.0,1157.7 499.6,1154.5 494.6,1154.9" stroke="#ffa700" marker-start="url(#m45)" marker-mid="url(#m45)" marker-end="url(#m45)"/>
<polyline points="465.9,1187.7 469.4,1184.1 473.7,1181.7 478.5,1180.4 483.5,1179.6 488.2,1177.9 492.9,1176.2 497.1,1173.6 500.3,1169.7 499.6,1165.2 494.8,1163.9 490.2,1162.1 486.1,1159.3 481.7,1157.1 477.9,1153.9 474.1,1150.6 469.5,1148.7 464.8,1146.9 460.3,1144.9 456.3,1141.9 451.5,1140.8 447.0,1142.6 449.7,1146.8 452.5,1150.9 452.8,1155.7 448.9,1158.7 446.4,1161.8 447.5,1166.7 450.5,1170.6 454.3,1173.8 458.7,1176.2 463.1,1178.5 467.7,1180.4 471.1,1184.0 474.5,1187.6 478.6,1190.4 483.3,1192.1 486.8,1195.5 487.1,1200.5 484.6,1204.6 479.8,1206.0 475.0,1205.0" stroke="#ffb700" marker-start="url(#m44)" marker-mid="url(#m44)" marker-end="url(#m44)"/>
<polyline points="475.0,1205.0 470.8,1202.3 466.6,1199.5 463.8,1195.4 462.8,1190.5 461.2,1185.8 459.5,1181.1 460.8,1176.3 461.8,1171.4 460.5,1166.5 458.3,1162.1 455.4,1158.0 454.1,1153.2 450.1,1150.6 448.0,1147.8 448.2,1142.8 449.9,1138.1 453.6,1135.3 458.5,1135.9 462.9,1138.2 465.2,1142.7 467.5,1147.0 470.7,1150.8 474.2,1154.3 478.9,1156.0 483.4,1158.1 488.4,1157.5 492.7,1155.0 496.5,1151.9 496.6,1147.0 493.6,1143.1 489.4,1140.4 485.2,1137.7 480.7,1135.5 475.7,1135.1 470.8,1134.3 465.8,1134.7" stroke="#ffa700" marker-start="url(#m45)" marker-mid="url(#m45)" marker-end="url(#m45)"/>
<polyline points="558.1,1177.4 554.4,1174.1 550.2,1171.5 546.2,1168.5 543.5,1164.3 544.8,1159.6 546.8,1155.0 547.8,1150.1 547.4,1145.2 545.2,1140.8 542.1,1136.8 537.7,1134.7 533.3,1132.8 535.3,1128.6 539.8,1126.5 544.6,1125.0 549.3,1123.4 553.8,1121.5 557.8,1118.5 561.4,1115.1 564.3,1111.0 568.7,1108.7 573.4,1110.2 576.9,1113.7 580.5,1117.2 582.4,1121.6 580.5,1126.2 578.2,1130.6 574.6,1134.0 569.8,1135.5 566.1,1138.7 563.7,1143.1 561.1,1147.3 556.7,1149.7 553.9,1153.7 556.1,1158.1 557.4,1162.9 554.8,1166.8 551.3,1163.5 552.5,1158.8 556.6,1156.2 561.0,1158.4 562.2,1163.2 562.7,1168.2 561.5,1173.0 560.0,1177.8" stroke="#ff5800" marker-start="url(#m50)" marker-mid="url(#m50)" marker-end="url(#m50)"/>
<polyline points="560.0,1177.8 559.7,1182.7 557.0,1186.8 554.0,1190.8 553.1,1195.7 555.8,1199.8 560.6,1201.0 565.3,1202.7 570.1,1201.7 572.6,1197.5 573.0,1192.5 572.3,1187.6 572.0,1182.6 571.2,1177.7 570.5,1172.7 572.6,1168.2 576.7,1165.6 581.3,1163.7 586.2,1163.3 591.0,1164.7 596.0,1164.7 601.0,1164.5 605.5,1166.7 609.8,1169.2 613.5,1172.4 616.2,1176.6 617.3,1181.4 617.0,1186.4 614.5,1190.6 610.7,1193.9 607.7,1197.8 604.2,1201.4 599.7,1203.5 594.7,1203.2 589.8,1203.4 584.9,1204.3 580.0,1204.9 575.3,1203.2 570.9,1200.8 566.3,1198.8 561.5,1197.6 556.7,1196.1 551.8,1195.6 546.8,1196.5 542.5,1194.5 540.4,1190.1 539.4,1185.2 537.4,1180.6 536.0,1175.9 532.7,1172.1 528.7,1169.1" stroke="#ff4800" marker-start="url(#m51)" marker-mid="url(#m51)" marker-end="url(#m51)"/>
<polyline points="585.5,1146.2 582.3,1149.6 584.5,1153.8 589.4,1154.3 593.8,1152.0 598.6,1150.5 603.0,1148.3 605.1,1143.8" stroke="#87ff78" marker-start="url(#m32)" marker-mid="url(#m32)" marker-end="url(#m32)"/>
<polyline points="605.1,1143.8 607.0,1139.2 607.1,1134.2 605.9,1129.4 601.4,1127.8 597.8,1131.2 596.6,1136.0 592.8,1139.1 588.0,1140.3 583.3,1139.0 581.1,1134.5 579.2,1129.9 579.4,1125.0 583.3,1122.3 587.9,1124.3 591.9,1127.3 594.5,1131.5 594.0,1136.5 591.7,1140.9 587.9,1144.0 583.0,1145.0 578.0,1145.2 573.3,1146.9 568.4,1147.6 563.8,1149.6 560.2,1153.0 556.6,1156.4 552.6,1159.3 551.9,1164.0 555.3,1167.6 559.9,1169.3 564.9,1169.6 569.8,1170.5 573.6,1173.5 574.5,1178.3 574.8,1183.3 573.1,1187.9 573.7,1192.7 578.1,1194.7 582.9,1193.9 586.8,1190.8 591.2,1188.6 596.2,1188.1 601.0,1189.3 605.3,1191.8 609.8,1194.0 611.7,1197.7 608.5,1201.3 603.6,1202.0 598.6,1202.3 593.7,1202.7 589.1,1201.1 586.3,1197.0 586.1,1192.1 590.6,1190.2 595.6,1189.8 599.7,1187.0 602.4,1182.9 605.1,1178.6 608.3,1174.8 610.9,1170.5 612.0,1165.7 612.8,1160.7 612.8,1155.8 610.8,1151.5 606.4,1149.0 604.3,1144.5 604.6,1139.6 605.8,1134.7 606.8,1129.8 605.4,1125.1 602.7,1121.0 598.0,1119.3 593.2,1118.2 588.2,1117.8 583.9,1120.2 579.5,1122.5 575.1,1124.7 573.4,1126.6" stroke="#97ff68" marker-start="url(#m33)" marker-mid="url(#m33)" marker-end="url(#m33)"/>
<polyline points="573.4,1126.6 571.4,1131.0 572.6,1135.8 572.9,1140.8 574.2,1145.5 577.4,1149.3 581.6,1152.0 585.8,1154.6 590.2,1157.1 595.1,1157.7 599.8,1156.0" stroke="#a7ff58" marker-start="url(#m34)" marker-mid="url(#m34)" marker-end="url(#m34)"/>
<polyline points="614.4,1252.9 613.3,1248.1 613.9,1243.2 617.7,1240.1 622.4,1238.5 627.3,1239.3 631.0,1242.7 633.0,1247.2" stroke="#87ff78" marker-start="url(#m32)" marker-mid="url(#m32)" marker-end="url(#m32)"/>
<polyline points="633.0,1247.2 632.1,1252.0 628.7,1255.7 624.9,1258.9 622.0,1262.9 618.8,1266.7 614.5,1269.3 610.8,1272.7 607.5,1276.4 603.8,1279.8 601.1,1284.0 597.4,1287.4 592.8,1289.3 587.9,1290.3 583.1,1289.3 579.0,1286.5 577.5,1281.8 577.2,1276.9 574.9,1272.5 570.5,1270.2 566.2,1267.7 561.3,1266.8 556.3,1267.3 551.5,1268.2 547.5,1271.2 543.6,1274.3 538.7,1275.2 533.7,1275.4 528.7,1275.6 525.6,1271.8 524.1,1267.0 523.3,1262.1 520.5,1258.0 516.5,1255.0 512.9,1251.6 509.5,1248.0 507.6,1243.4 505.9,1238.7 505.2,1233.8 505.3,1228.8 503.4,1224.4 501.3,1219.9 499.2,1215.4 495.1,1212.6 490.4,1210.8 486.3,1208.2 482.0,1205.8 477.1,1204.9 472.2,1205.7 467.7,1207.8 463.9,1211.1 461.1,1215.2 461.5,1220.0 466.1,1221.3 470.5,1219.1 473.4,1215.1 475.1,1210.4 475.2,1205.4 477.3,1200.9 476.3,1196.1 475.8,1191.1 475.7,1186.1 476.5,1181.3 478.1,1176.5 480.8,1172.5 485.3,1170.3 490.2,1169.5 495.2,1170.0 498.3,1173.8 498.5,1178.8 499.0,1183.7 498.9,1188.7 498.8,1193.7 500.1,1198.5 503.6,1202.1 504.6,1206.9 502.0,1211.1 497.2,1212.3 494.9,1211.5" stroke="#97ff68" marker-start="url(#m33)" marker-mid="url(#m33)" marker-end="url(#m33)"/>
<polyline points="494.9,1211.5 490.4,1209.3 485.6,1208.1 480.6,1207.5 475.8,1208.5 470.8,1208.8 466.5,1206.7 464.5,1202.1 462.1,1197.7 459.3,1193.5 457.1,1189.1" stroke="#a7ff58" marker-start="url(#m34)" marker-mid="url(#m34)" marker-end="url(#m34)"/>
<polyline points="595.6,1252.2 591.1,1250.1 586.9,1247.3 582.8,1244.5 579.1,1241.1 575.7,1237.6 575.4,1232.7 578.0,1228.5" stroke="#87ff78" marker-start="url(#m32)" marker-mid="url(#m32)" marker-end="url(#m32)"/>
<polyline points="578.0,1228.5 582.7,1226.8 586.7,1224.0 589.9,1220.2 594.0,1217.3 598.9,1216.4 603.9,1216.2 608.8,1216.2 613.4,1217.9 616.3,1222.0 618.6,1226.4 620.9,1230.8 623.5,1235.0 627.0,1238.6 630.5,1242.1 634.0,1245.7 633.5,1250.6 630.0,1254.0 625.2,1255.4 620.3,1256.2 615.4,1257.3 611.6,1260.2 610.6,1265.1 609.9,1270.0 609.1,1274.9 605.7,1278.6 600.9,1279.6 596.7,1277.2 594.0,1273.0 592.7,1268.2 591.4,1263.4 588.8,1259.1 586.0,1255.0 582.1,1251.9 577.2,1250.8 572.3,1250.8 567.4,1249.8 562.4,1249.5 557.4,1249.2 552.6,1247.9 547.6,1247.3 542.7,1246.2 537.9,1245.3 534.1,1242.1 530.1,1239.1 528.2,1234.6 529.2,1229.9 532.8,1226.4 535.8,1222.5 536.8,1217.7 534.5,1213.4 530.0,1211.2 525.1,1211.3 520.4,1213.1 516.8,1216.5 514.0,1220.6 509.2,1221.9 504.6,1220.3 502.8,1215.8 504.3,1211.1 508.1,1208.0 512.8,1206.2 517.8,1206.3 522.5,1207.9 527.0,1210.0 531.7,1211.6 536.6,1211.3 541.6,1211.3 546.5,1211.6 550.9,1214.0 555.7,1214.8 559.1,1211.3 561.6,1206.9 564.5,1202.9 564.5,1198.0 560.3,1195.5 555.4,1194.6 550.4,1194.5 547.9,1194.4" stroke="#97ff68" marker-start="url(#m33)" marker-mid="url(#m33)" marker-end="url(#m33)"/>
<polyline points="547.9,1194.4 543.5,1192.4 541.1,1188.0 537.3,1184.9 532.5,1183.5 527.8,1181.7 523.7,1179.0 519.1,1177.2 514.4,1178.9 510.0,1181.2 506.2,1184.5" stroke="#a7ff58" marker-start="url(#m34)" marker-mid="url(#m34)" marker-end="url(#m34)"/>
<polyline points="587.2,1136.6 585.4,1141.2 585.2,1146.1 585.1,1151.1 586.1,1156.0 588.1,1160.3 593.0,1160.3 596.5,1156.9" stroke="#87ff78" marker-start="url(#m32)" marker-mid="url(#m32)" marker-end="url(#m32)"/>
<polyline points="596.5,1156.9 598.1,1152.3 598.1,1147.3 597.5,1142.4 596.8,1137.4 597.6,1132.5 600.1,1128.4 604.9,1128.7 609.3,1131.0 613.4,1133.9 617.0,1137.3 620.3,1141.0 623.1,1145.2 624.0,1150.1 624.8,1155.0 627.1,1159.4 630.9,1162.6 634.9,1165.5 638.7,1168.8 640.6,1173.3 640.8,1178.3 644.9,1175.5 649.3,1173.1 651.6,1168.7 653.1,1163.9 652.3,1159.2 648.0,1157.0 643.0,1156.8 638.0,1156.9 633.2,1155.7 628.4,1154.3 624.0,1151.9 620.4,1148.4 616.4,1145.4 612.0,1143.1 607.5,1141.0 603.4,1138.1 599.8,1134.6 596.2,1131.2 593.2,1127.2 591.4,1122.6 590.1,1117.8 586.2,1114.8 581.4,1115.6 578.4,1119.5 578.2,1124.4 582.4,1127.0 587.1,1126.0 585.5,1121.9 581.3,1123.9 579.5,1128.5 577.0,1132.8 575.7,1137.6 577.1,1142.3 580.6,1145.9 583.6,1149.8 586.6,1153.8 591.0,1155.9 595.6,1154.7 598.1,1150.4 599.6,1145.6 599.9,1140.6 601.6,1136.2 606.5,1136.4 608.9,1140.4 610.6,1145.1 612.3,1149.8 616.4,1152.6 621.4,1152.0 626.0,1150.1 630.8,1150.5 631.6,1155.2 628.5,1159.1 624.1,1161.4 620.0,1159.1 618.1,1154.5 616.3,1149.8 614.5,1145.2 612.9,1143.3" stroke="#97ff68" marker-start="url(#m33)" marker-mid="url(#m33)" marker-end="url(#m33)"/>
<polyline points="612.9,1143.3 608.5,1140.8 604.1,1138.6 599.2,1137.6 594.3,1136.5 589.9,1134.1 585.0,1134.3 580.1,1134.0 576.0,1131.2 572.4,1127.7 568.5,1124.9" stroke="#a7ff58" marker-start="url(#m34)" marker-mid="url(#m34)" marker-end="url(#m34)"/>
<polyline points="500.2,1243.6 496.0,1246.3 491.3,1246.4 488.5,1242.3 487.4,1237.5 485.6,1232.9 483.0,1228.7 484.2,1223.9 488.5,1221.5 493.4,1222.5 498.1,1224.0 503.0,1223.5 508.0,1223.5 512.6,1225.4 516.4,1228.6 518.2,1233.2 518.1,1238.2 516.7,1243.0 514.2,1247.3 515.2,1252.2 517.6,1256.5 520.8,1253.5 519.9,1251.2" stroke="#ff2800" marker-start="url(#m53)" marker-mid="url(#m53)" marker-end="url(#m53)"/>
<polyline points="519.9,1251.2 515.9,1248.2 511.0,1247.4 506.1,1248.3 501.2,1249.0 496.5,1250.7 492.4,1253.5 489.2,1257.3 487.1,1261.8 483.8,1265.3 479.1,1263.9 474.9,1261.2 470.4,1259.1 465.9,1256.8 461.3,1254.9 456.9,1252.6 453.1,1249.4 449.6,1245.8 447.2,1241.4 448.6,1238.7 453.6,1237.9 458.1,1235.9 462.0,1232.8 464.8,1228.7 464.9,1223.8 461.3,1220.4 456.7,1218.4 451.9,1216.9 447.0,1217.0 447.5,1212.1 450.7,1208.2 454.4,1204.9 459.3,1204.7 464.3,1205.4 469.2,1206.1 474.1,1205.9 478.8,1204.5 483.7,1205.3 488.1,1207.6 492.0,1210.7 493.8,1215.3 492.1,1219.9 487.8,1222.4 483.7,1225.0 480.6,1228.9 479.3,1233.7 480.2,1238.6 480.7,1243.6 481.5,1248.5 484.1,1252.8 486.7,1257.0 487.6,1261.9 491.8,1263.9 495.3,1260.5 496.9,1255.8 499.1,1251.4 503.1,1248.3 506.2,1244.5 509.5,1240.7 510.7,1238.5" stroke="#ff1800" marker-start="url(#m54)" marker-mid="url(#m54)" marker-end="url(#m54)"/>
<polyline points="510.7,1238.5 514.8,1235.7 519.5,1236.6 521.2,1241.1 519.7,1245.8 517.2,1250.2 515.0,1254.6 511.5,1258.1 507.1,1260.4 503.2,1257.6 501.0,1253.1 498.9,1248.6 496.3,1244.3 493.6,1240.2 488.9,1238.5 484.2,1236.9 480.0,1234.3 477.8,1230.0 480.2,1225.7 482.9,1221.5 486.8,1218.4 491.5,1216.7 496.4,1217.4 500.2,1220.7 504.3,1223.5 509.0,1225.4 513.9,1226.0 518.8,1226.3" stroke="#ff0800" marker-start="url(#m55)" marker-mid="url(#m55)" marker-end="url(#m55)"/>
<polyline points="610.4,1246.7 605.5,1247.0 602.1,1250.6 600.4,1255.3 597.6,1259.4 593.4,1262.2 588.5,1262.8 584.5,1260.0 584.1,1255.0 583.2,1250.2 581.2,1245.6 577.1,1242.7 573.5,1239.3 570.7,1235.2 567.7,1231.3 565.7,1226.7 564.8,1224.4" stroke="#d70000" marker-start="url(#m58)" marker-mid="url(#m58)" marker-end="url(#m58)"/>
<polyline points="564.8,1224.4 564.0,1219.6 566.1,1215.0 569.5,1211.4 573.4,1208.3 576.8,1204.6 580.1,1200.8 584.0,1197.9 588.9,1196.8 593.8,1197.4 598.8,1198.2 602.5,1201.6 603.2,1206.3 599.7,1209.7 594.8,1210.8 590.0,1209.5 586.6,1206.0 586.7,1201.1 589.2,1196.8 593.2,1193.9 598.1,1193.6 603.1,1193.9 608.0,1193.0 612.1,1190.3 616.9,1188.7 621.4,1190.6 625.0,1187.9 624.0,1183.6 619.1,1183.2 615.6,1186.8 614.3,1191.5 612.6,1195.9" stroke="#c70000" marker-start="url(#m59)" marker-mid="url(#m59)" marker-end="url(#m59)"/>
<polyline points="612.6,1195.9 608.8,1199.2 603.9,1200.4 599.0,1199.8 594.0,1199.4 589.1,1199.1 584.4,1201.0 580.0,1203.3 575.5,1205.5 570.7,1206.6 566.4,1209.1 563.8,1213.2 564.2,1218.1 565.5,1222.9 568.0,1227.1 570.3,1231.6 574.2,1234.6 578.8,1236.7 583.0,1239.3 586.8,1242.5 589.1,1246.8 589.7,1251.8 589.8,1256.7 591.4,1261.4 595.6,1264.0 600.4,1265.3 605.3,1265.9 609.5,1263.4 610.0,1258.5 606.6,1254.9 604.2,1254.6" stroke="#b70000" marker-start="url(#m60)" marker-mid="url(#m60)" marker-end="url(#m60)"/>
<polyline points="600.9,1257.9 605.8,1258.4 610.8,1259.0 615.7,1258.6 619.7,1255.6 622.3,1251.4 624.8,1247.1 629.2,1244.8 633.9,1245.7 637.4,1249.2 642.0,1251.1 646.0,1253.9 646.2,1258.7 642.0,1261.1 637.1,1262.1 633.0,1264.8 630.6,1265.8" stroke="#d70000" marker-start="url(#m58)" marker-mid="url(#m58)" marker-end="url(#m58)"/>
<polyline points="630.6,1265.8 626.6,1268.7 622.0,1270.5 617.4,1268.9 614.4,1264.9 612.7,1260.2 610.3,1255.8 605.6,1254.2 601.6,1251.3 599.1,1247.0 599.4,1242.1 602.1,1237.9 605.6,1234.3 610.6,1234.1 613.4,1238.0 612.1,1242.6 608.2,1245.8 604.2,1248.8 599.4,1249.3 594.6,1248.0 590.1,1245.9 586.3,1242.7 581.7,1241.0 577.0,1242.6 572.7,1245.1 572.5,1249.8 576.9,1251.7 581.4,1249.8 582.1,1244.9 583.7,1240.1 584.6,1235.2 583.9,1230.3" stroke="#c70000" marker-start="url(#m59)" marker-mid="url(#m59)" marker-end="url(#m59)"/>
<polyline points="583.9,1230.3 582.0,1225.7 579.1,1221.6 575.5,1218.2 570.5,1217.5 565.8,1218.8 562.2,1222.3 558.1,1225.0 553.9,1227.7 551.3,1231.9 552.9,1236.6 556.1,1240.4 561.1,1240.9 565.9,1239.6 570.5,1237.7 575.5,1237.2 580.3,1236.1 585.2,1234.9 590.1,1235.9 594.9,1237.2 598.7,1240.3 599.7,1245.1 599.8,1250.1 598.8,1254.9 596.2,1259.2 595.1,1264.0 597.3,1268.4 601.8,1270.4 606.8,1270.7 611.8,1270.3 614.1,1269.5" stroke="#b70000" marker-start="url(#m60)" marker-mid="url(#m60)" marker-end="url(#m60)"/>
<polyline points="476.4,1283.8 480.3,1280.7 485.1,1279.3 489.7,1277.3 494.0,1274.8 498.4,1272.4 499.4,1267.7 495.9,1264.1 491.9,1261.2 487.1,1259.9 482.3,1258.3 479.1,1254.5 475.6,1250.9 472.4,1247.1 470.4,1242.5 471.9,1237.9 476.5,1236.5 481.5,1237.0 485.7,1239.7 489.6,1242.8 493.1,1246.4 497.6,1248.6 502.0,1246.9 503.4,1242.3 501.7,1237.6 497.1,1236.1 493.0,1238.7 492.5,1243.6 496.0,1247.1 501.0,1247.4 506.0,1247.3 511.0,1247.6 514.5,1244.4 513.3,1239.6 509.0,1237.9 504.0,1238.7 499.2,1240.0 494.4,1239.3 492.8,1234.7 495.5,1230.8 500.5,1230.4 505.5,1230.6 510.0,1232.7 512.3,1233.7" stroke="#f70000" marker-start="url(#m56)" marker-mid="url(#m56)" marker-end="url(#m56)"/>
<polyline points="512.3,1233.7 515.4,1237.6 518.6,1241.5 520.8,1245.9 523.1,1250.4 523.5,1255.4 521.5,1259.9 517.7,1263.1 514.8,1267.1 511.0,1270.5 508.4,1274.6 505.7,1278.8 502.9,1283.0 503.2,1287.7 506.1,1291.8 507.8,1296.4 508.6,1301.4 510.2,1306.1 513.5,1309.5 518.3,1309.0 522.3,1305.9 526.9,1304.1 531.3,1301.8 534.2,1297.7 537.7,1294.2 540.6,1290.2 543.1,1285.8 545.6,1281.5 549.0,1277.9 551.8,1273.8 551.7,1268.8 552.8,1264.0 556.6,1260.9 561.6,1260.9 565.8,1263.4 566.1,1268.2 562.4,1271.3 557.5,1271.8 552.5,1272.0 547.5,1271.8 543.4,1269.3 541.8,1264.6 540.4,1262.6" stroke="#e70000" marker-start="url(#m57)" marker-mid="url(#m57)" marker-end="url(#m57)"/>
<polyline points="596.2,1281.9 591.5,1283.6 587.8,1286.9 585.6,1291.3 586.2,1296.3 588.0,1300.8 591.6,1304.3 593.9,1308.7 592.8,1313.4 589.7,1317.4 585.4,1319.6 581.5,1316.8 579.5,1312.3 577.5,1307.7 574.3,1303.9 571.6,1299.7 568.4,1295.9 563.5,1295.9 558.7,1297.2 555.8,1301.2 554.8,1306.0 559.2,1307.4 562.9,1304.2 564.0,1299.3 565.4,1294.5 564.5,1289.6 564.6,1284.8 566.5,1280.2 566.3,1275.2 566.5,1270.2 568.2,1265.5 570.4,1261.0 573.1,1256.9 574.9,1252.2 574.7,1247.3 572.4,1242.8 568.1,1240.4 563.3,1238.8 558.4,1237.8 553.4,1237.7 549.3,1240.3 546.3,1244.3 543.0,1248.0 542.4,1250.4" stroke="#f70000" marker-start="url(#m56)" marker-mid="url(#m56)" marker-end="url(#m56)"/>
<polyline points="542.4,1250.4 543.5,1255.3 547.3,1258.5 552.2,1258.7 557.2,1258.6 560.8,1255.5 561.9,1250.6 562.8,1245.7 563.4,1240.8 561.2,1236.4 556.4,1236.4 553.3,1240.3 549.5,1243.5 544.9,1245.2 540.2,1246.9 535.2,1247.5 530.5,1249.1 525.6,1250.1 520.6,1250.2 516.0,1248.3 511.0,1248.2 506.8,1250.6 503.2,1254.1 499.1,1256.9 494.3,1258.0 490.2,1255.3 488.9,1250.5 488.8,1245.5 487.4,1240.7 485.5,1236.1 486.3,1231.2 489.6,1227.7 494.6,1227.5 498.3,1230.6 500.5,1235.1 501.5,1240.0 503.0,1244.7 505.6,1249.0 507.3,1253.6 507.5,1258.6 509.1,1263.1 513.8,1264.6 516.3,1264.2" stroke="#e70000" marker-start="url(#m57)" marker-mid="url(#m57)" marker-end="url(#m57)"/>
<polyline points="494.8,1267.0 498.8,1264.0 503.5,1262.2 508.1,1260.2 513.0,1260.4 517.6,1262.3 521.8,1265.1 526.4,1266.8 531.3,1267.8 535.6,1265.7 535.4,1260.9 531.0,1258.7 526.0,1258.9 521.1,1259.7 516.7,1262.0 515.4,1266.7 516.2,1271.6 515.8,1276.5 513.4,1280.9 509.7,1284.1 504.8,1283.8 501.9,1279.7 499.1,1275.7 494.8,1273.1 490.0,1271.7 485.1,1272.5 481.4,1275.7 481.7,1280.5 485.5,1283.5 490.4,1283.3 493.1,1279.3 496.6,1275.8 501.4,1274.8 504.9,1278.2 505.6,1283.0 502.0,1286.4 498.3,1289.6 496.1,1294.1 495.7,1299.1 495.8,1304.1 496.7,1309.0 498.0,1313.8 498.6,1318.8 499.9,1320.9" stroke="#f70000" marker-start="url(#m56)" marker-mid="url(#m56)" marker-end="url(#m56)"/>
<polyline points="499.9,1320.9 504.5,1322.6 509.4,1321.3 513.3,1318.2 517.9,1316.1 519.2,1311.7 515.6,1308.4 510.7,1308.8 507.7,1312.9 504.2,1316.4 499.5,1317.9 494.5,1317.9 489.5,1318.1 485.0,1316.3 482.5,1312.0 482.0,1307.1 483.4,1302.3 485.0,1297.5 488.7,1294.3 492.9,1291.6 497.8,1290.5 502.5,1288.7 506.7,1286.1 511.3,1284.3 515.9,1282.2 520.8,1281.5 525.7,1281.9 530.0,1284.4 531.7,1288.9 529.3,1293.2 524.3,1293.4 519.4,1292.4 514.5,1292.9 509.5,1293.2 504.5,1293.4 499.6,1292.3 495.0,1290.4 493.5,1285.8 492.2,1281.0 488.9,1277.3 484.5,1275.2 479.7,1276.0 477.5,1277.2" stroke="#e70000" marker-start="url(#m57)" marker-mid="url(#m57)" marker-end="url(#m57)"/>
<polyline points="549.3,1286.7 550.7,1282.0 552.4,1277.3 554.2,1272.6 557.9,1269.2 560.5,1265.0 560.4,1260.0 559.4,1255.1 556.4,1251.3 552.4,1248.3 552.4,1243.4 554.4,1238.9 559.3,1238.4 563.9,1240.2 567.7,1243.5 572.5,1244.8 577.4,1245.2 582.1,1247.0 586.7,1248.8 591.6,1249.3 596.6,1248.6 600.6,1246.6 597.2,1243.8 593.7,1247.0 592.8,1251.8 591.9,1256.7 587.6,1258.8 583.4,1256.1 578.9,1253.8 574.8,1251.1 574.5,1246.2 574.7,1241.3 571.2,1238.0 566.3,1237.0 561.3,1237.0 556.3,1237.2 551.3,1237.5 546.7,1239.4 542.2,1241.6 537.9,1244.0 534.2,1247.2 532.2,1251.8 531.7,1256.7 533.4,1258.5" stroke="#f70000" marker-start="url(#m56)" marker-mid="url(#m56)" marker-end="url(#m56)"/>
<polyline points="533.4,1258.5 537.9,1257.3 541.3,1253.6 543.0,1249.0 544.7,1244.3 548.1,1240.6 552.7,1238.6 557.6,1238.6 562.6,1239.3 566.6,1242.2 570.4,1245.4 574.4,1248.4 576.6,1252.7 577.4,1257.7 578.7,1262.5 579.8,1267.3 583.3,1270.9 586.6,1274.4 587.9,1279.1 587.2,1284.0 584.6,1288.2 580.6,1291.2 577.3,1294.9 574.0,1298.6 570.1,1301.7 565.2,1302.8 560.7,1305.0 555.8,1305.9 550.8,1305.6 545.9,1304.9 541.0,1303.9 536.1,1304.4 531.2,1303.3 528.7,1299.0 527.3,1294.3 526.3,1289.4 528.3,1284.9 532.9,1283.0 537.1,1280.3 541.7,1279.0 546.7,1279.5 551.4,1281.1 553.9,1281.3" stroke="#e70000" marker-start="url(#m57)" marker-mid="url(#m57)" marker-end="url(#m57)"/>
<polyline points="499.5,1363.4 501.9,1367.8 505.7,1370.9 510.5,1370.0 512.7,1365.7 511.9,1360.8 514.7,1356.8 519.2,1357.6 520.5,1362.4 522.1,1367.1 525.7,1370.5 530.2,1372.5 534.0,1369.4 536.2,1364.9 539.5,1361.2 540.9,1356.5 538.4,1352.4 533.5,1352.2 529.2,1354.7 524.6,1356.6 520.9,1360.0 517.4,1363.6 513.3,1366.3 508.4,1366.5 504.1,1364.1 503.0,1359.3 502.8,1354.3 503.1,1349.3 502.8,1344.3 501.2,1339.7 497.7,1336.3 492.8,1336.2 487.8,1336.1 483.8,1333.2 479.2,1331.4 474.4,1332.6 470.7,1335.8 466.3,1338.2 461.4,1339.0 456.4,1339.8 451.5,1340.4 446.5,1340.9 446.1,1345.9 450.9,1347.3 455.9,1347.3 460.5,1345.5 465.0,1343.3 469.0,1340.4 473.9,1340.8 477.9,1343.7 481.6,1347.1 483.9,1351.5 481.6,1355.9 477.0,1357.7 472.5,1359.7 469.9,1363.8 469.1,1368.8 465.6,1372.2 460.6,1372.1 458.1,1372.4" stroke="#ff1800" marker-start="url(#m54)" marker-mid="url(#m54)" marker-end="url(#m54)"/>
<polyline points="458.1,1372.4 453.1,1372.3 448.2,1371.6 446.2,1376.2 447.8,1380.4 451.5,1383.8 455.9,1386.2 459.5,1389.6 463.3,1392.8 468.1,1391.8 469.8,1387.2 467.8,1382.7 463.3,1380.7 458.4,1381.2 454.8,1384.7 450.7,1387.5 446.0,1389.2 446.8,1394.1 448.9,1398.6 451.4,1402.9 453.9,1407.3 458.0,1410.0 461.2,1408.4 459.9,1403.7 455.9,1400.9 451.1,1399.4 446.9,1396.7 451.8,1396.0 456.8,1395.6 461.3,1393.5 465.5,1390.7 470.4,1390.0 475.2,1391.2 479.6,1393.4 483.5,1396.6 488.1,1398.3 490.6,1398.2" stroke="#ff0800" marker-start="url(#m55)" marker-mid="url(#m55)" marker-end="url(#m55)"/>
<polyline points="512.0,1313.4 508.3,1316.8 506.4,1321.4 505.8,1326.3 504.8,1331.2 504.7,1336.2 504.1,1341.2 500.7,1344.6 495.9,1346.1 491.0,1347.0 486.2,1346.0 481.5,1344.4 478.9,1340.2 479.7,1335.4 482.4,1331.1 484.7,1326.8 485.4,1321.9 482.3,1318.0 478.9,1314.4 475.9,1310.5 471.5,1309.0 468.2,1312.5 468.3,1317.4 471.5,1321.3 476.1,1323.1 480.6,1321.4 483.5,1317.4 484.3,1312.6 480.6,1309.6 476.1,1311.3 474.9,1316.0 477.4,1320.1 482.0,1321.9 486.4,1323.9 488.7,1328.3 490.9,1332.8 491.7,1337.7 491.8,1342.7 490.3,1347.4 486.5,1350.6 482.4,1353.5 478.6,1356.7 475.2,1360.4 475.4,1365.2 477.4,1369.8 479.9,1374.1 484.1,1376.6 488.6,1374.7 491.2,1370.4 491.9,1365.5 492.5,1360.6 495.5,1356.6 498.0,1352.3 499.2,1347.9 496.6,1343.7 492.0,1341.8 487.1,1341.0 482.3,1342.3 479.5,1346.4 478.6,1348.8" stroke="#ff1800" marker-start="url(#m54)" marker-mid="url(#m54)" marker-end="url(#m54)"/>
<polyline points="478.6,1348.8 478.9,1353.7 479.4,1358.7 478.1,1363.5 477.6,1368.4 477.6,1373.4 477.9,1378.4 479.6,1383.0 482.9,1386.8 487.0,1389.3 491.5,1387.5 496.1,1385.5 501.0,1384.3 506.0,1384.3 510.8,1383.3 515.2,1381.0 520.1,1381.7 524.7,1383.6 529.0,1386.2 531.5,1390.4 529.9,1395.0 528.9,1399.9 528.1,1404.8 526.2,1409.4 523.6,1405.2 520.0,1401.7 515.5,1399.6 510.9,1399.8 510.1,1404.5 512.0,1409.2 508.8,1408.5 506.8,1404.0 502.8,1401.0 499.7,1397.2 500.8,1392.4 503.0,1387.9 504.2,1385.7" stroke="#ff0800" marker-start="url(#m55)" marker-mid="url(#m55)" marker-end="url(#m55)"/>
<polyline points="502.6,1360.5 500.9,1355.8 497.0,1353.0 492.1,1351.8 488.0,1349.1 484.8,1345.3 480.4,1343.2 475.4,1343.6 471.2,1346.3 466.6,1348.3 461.7,1348.0 457.3,1345.5 452.3,1345.1 447.4,1344.1 448.8,1342.0 453.7,1341.5 458.4,1339.8 462.7,1337.4 465.1,1333.1 466.1,1328.2 462.5,1324.8 457.7,1323.6 452.9,1322.3 448.1,1320.8 450.2,1316.3 454.3,1313.5 459.0,1311.7 463.9,1311.9 468.6,1313.5 473.6,1313.6 478.5,1314.1 483.5,1313.4 488.2,1311.8 492.8,1309.9 497.1,1307.3 501.8,1305.8 506.5,1307.3 509.8,1311.0 510.4,1316.0 511.7,1320.7 514.0,1325.1 514.2,1330.1 513.5,1335.0 511.9,1339.8 508.5,1343.3 505.0,1346.6 506.3,1351.3 510.0,1354.6 514.4,1357.1 518.8,1359.3 522.9,1362.1 526.8,1365.3 531.1,1367.6 535.1,1370.7 537.5,1375.1 538.6,1379.9 539.1,1384.9 537.2,1389.5 533.0,1392.1 530.5,1391.9" stroke="#ff1800" marker-start="url(#m54)" marker-mid="url(#m54)" marker-end="url(#m54)"/>
<polyline points="530.5,1391.9 525.6,1392.1 520.7,1393.0 515.8,1392.0 510.9,1391.1 506.3,1389.2 501.6,1387.3 497.0,1385.5 492.9,1382.9 492.1,1378.2 496.0,1375.2 500.6,1373.3 505.6,1373.1 510.6,1373.6 515.4,1375.1 519.6,1377.7 521.1,1382.3 520.2,1387.2 518.7,1392.0 516.0,1396.0 512.7,1399.8 510.3,1404.1 505.8,1406.3 500.9,1406.9 496.2,1407.7 497.3,1410.4 502.3,1410.7 505.7,1407.0 509.9,1404.2 514.5,1405.8 518.8,1408.3 523.0,1408.8 527.3,1406.1 530.4,1402.3 533.3,1398.2 536.1,1394.1 537.9,1392.3" stroke="#ff0800" marker-start="url(#m55)" marker-mid="url(#m55)" marker-end="url(#m55)"/>
</g>
<rect x="15.2" y="726" width="412.3" height="686.4" fill="none" stroke="#000" stroke-width="3.2"/>
<rect x="443.4" y="727" width="412" height="686.5" fill="none" stroke="#000" stroke-width="3.2"/>
<path d="M257.00 730.70L186.80 770.30L257.00 809.90M257.00 815.95L186.80 855.55L257.00 895.15M257.00 901.20L186.80 940.80L257.00 980.40M257.00 986.45L186.80 1026.05L257.00 1065.65M257.00 1071.70L186.80 1111.30L257.00 1150.90M257.00 1156.95L186.80 1196.55L257.00 1236.15M257.00 1242.20L186.80 1281.80L257.00 1321.40M257.00 1327.45L186.80 1367.05L257.00 1406.65" fill="none" stroke="#000" stroke-width="3.4" stroke-linejoin="miter" stroke-miterlimit="10"/><path d="M257.00 735.70L195.65 770.30L257.00 804.90M257.00 820.95L195.65 855.55L257.00 890.15M257.00 906.20L195.65 940.80L257.00 975.40M257.00 991.45L195.65 1026.05L257.00 1060.65M257.00 1076.70L195.65 1111.30L257.00 1145.90M257.00 1161.95L195.65 1196.55L257.00 1231.15M257.00 1247.20L195.65 1281.80L257.00 1316.40M257.00 1332.45L195.65 1367.05L257.00 1401.65" fill="none" stroke="#000" stroke-width="3.4" stroke-linejoin="bevel"/><path d="M257.00 728.70V735.70M257.00 804.90V811.90M257.00 813.95V820.95M257.00 890.15V897.15M257.00 899.20V906.20M257.00 975.40V982.40M257.00 984.45V991.45M257.00 1060.65V1067.65M257.00 1069.70V1076.70M257.00 1145.90V1152.90M257.00 1154.95V1161.95M257.00 1231.15V1238.15M257.00 1240.20V1247.20M257.00 1316.40V1323.40M257.00 1325.45V1332.45M257.00 1401.65V1408.65" fill="none" stroke="#000" stroke-width="4"/>
<path d="M685.20 730.70L615.00 770.30L685.20 809.90M685.20 815.95L615.00 855.55L685.20 895.15M685.20 901.20L615.00 940.80L685.20 980.40M685.20 986.45L615.00 1026.05L685.20 1065.65M685.20 1071.70L615.00 1111.30L685.20 1150.90M685.20 1156.95L615.00 1196.55L685.20 1236.15M685.20 1242.20L615.00 1281.80L685.20 1321.40M685.20 1327.45L615.00 1367.05L685.20 1406.65" fill="none" stroke="#000" stroke-width="3.4" stroke-linejoin="miter" stroke-miterlimit="10"/><path d="M685.20 735.70L623.85 770.30L685.20 804.90M685.20 820.95L623.85 855.55L685.20 890.15M685.20 906.20L623.85 940.80L685.20 975.40M685.20 991.45L623.85 1026.05L685.20 1060.65M685.20 1076.70L623.85 1111.30L685.20 1145.90M685.20 1161.95L623.85 1196.55L685.20 1231.15M685.20 1247.20L623.85 1281.80L685.20 1316.40M685.20 1332.45L623.85 1367.05L685.20 1401.65" fill="none" stroke="#000" stroke-width="3.4" stroke-linejoin="bevel"/><path d="M685.20 728.70V735.70M685.20 804.90V811.90M685.20 813.95V820.95M685.20 890.15V897.15M685.20 899.20V906.20M685.20 975.40V982.40M685.20 984.45V991.45M685.20 1060.65V1067.65M685.20 1069.70V1076.70M685.20 1145.90V1152.90M685.20 1154.95V1161.95M685.20 1231.15V1238.15M685.20 1240.20V1247.20M685.20 1316.40V1323.40M685.20 1325.45V1332.45M685.20 1401.65V1408.65" fill="none" stroke="#000" stroke-width="4"/>
<defs><linearGradient id="jet" x1="0" y1="1" x2="0" y2="0"><stop offset="0.00000" stop-color="#000087"/><stop offset="0.01562" stop-color="#000087"/><stop offset="0.01562" stop-color="#000097"/><stop offset="0.03125" stop-color="#000097"/><stop offset="0.03125" stop-color="#0000a7"/><stop offset="0.04688" stop-color="#0000a7"/><stop offset="0.04688" stop-color="#0000b7"/><stop offset="0.06250" stop-color="#0000b7"/><stop offset="0.06250" stop-color="#0000c7"/><stop offset="0.07812" stop-color="#0000c7"/><stop offset="0.07812" stop-color="#0000d7"/><stop offset="0.09375" stop-color="#0000d7"/><stop offset="0.09375" stop-color="#0000e7"/><stop offset="0.10938" stop-color="#0000e7"/><stop offset="0.10938" stop-color="#0000f7"/><stop offset="0.12500" stop-color="#0000f7"/><stop offset="0.12500" stop-color="#0008ff"/><stop offset="0.14062" stop-color="#0008ff"/><stop offset="0.14062" stop-color="#0018ff"/><stop offset="0.15625" stop-color="#0018ff"/><stop offset="0.15625" stop-color="#0028ff"/><stop offset="0.17188" stop-color="#0028ff"/><stop offset="0.17188" stop-color="#0038ff"/><stop offset="0.18750" stop-color="#0038ff"/><stop offset="0.18750" stop-color="#0048ff"/><stop offset="0.20312" stop-color="#0048ff"/><stop offset="0.20312" stop-color="#0058ff"/><stop offset="0.21875" stop-color="#0058ff"/><stop offset="0.21875" stop-color="#0068ff"/><stop offset="0.23438" stop-color="#0068ff"/><stop offset="0.23438" stop-color="#0078ff"/><stop offset="0.25000" stop-color="#0078ff"/><stop offset="0.25000" stop-color="#0087ff"/><stop offset="0.26562" stop-color="#0087ff"/><stop offset="0.26562" stop-color="#0097ff"/><stop offset="0.28125" stop-color="#0097ff"/><stop offset="0.28125" stop-color="#00a7ff"/><stop offset="0.29688" stop-color="#00a7ff"/><stop offset="0.29688" stop-color="#00b7ff"/><stop offset="0.31250" stop-color="#00b7ff"/><stop offset="0.31250" stop-color="#00c7ff"/><stop offset="0.32812" stop-color="#00c7ff"/><stop offset="0.32812" stop-color="#00d7ff"/><stop offset="0.34375" stop-color="#00d7ff"/><stop offset="0.34375" stop-color="#00e7ff"/><stop offset="0.35938" stop-color="#00e7ff"/><stop offset="0.35938" stop-color="#00f7ff"/><stop offset="0.37500" stop-color="#00f7ff"/><stop offset="0.37500" stop-color="#08fff7"/><stop offset="0.39062" stop-color="#08fff7"/><stop offset="0.39062" stop-color="#18ffe7"/><stop offset="0.40625" stop-color="#18ffe7"/><stop offset="0.40625" stop-color="#28ffd7"/><stop offset="0.42188" stop-color="#28ffd7"/><stop offset="0.42188" stop-color="#38ffc7"/><stop offset="0.43750" stop-color="#38ffc7"/><stop offset="0.43750" stop-color="#48ffb7"/><stop offset="0.45312" stop-color="#48ffb7"/><stop offset="0.45312" stop-color="#58ffa7"/><stop offset="0.46875" stop-color="#58ffa7"/><stop offset="0.46875" stop-color="#68ff97"/><stop offset="0.48438" stop-color="#68ff97"/><stop offset="0.48438" stop-color="#78ff87"/><stop offset="0.50000" stop-color="#78ff87"/><stop offset="0.50000" stop-color="#87ff78"/><stop offset="0.51562" stop-color="#87ff78"/><stop offset="0.51562" stop-color="#97ff68"/><stop offset="0.53125" stop-color="#97ff68"/><stop offset="0.53125" stop-color="#a7ff58"/><stop offset="0.54688" stop-color="#a7ff58"/><stop offset="0.54688" stop-color="#b7ff48"/><stop offset="0.56250" stop-color="#b7ff48"/><stop offset="0.56250" stop-color="#c7ff38"/><stop offset="0.57812" stop-color="#c7ff38"/><stop offset="0.57812" stop-color="#d7ff28"/><stop offset="0.59375" stop-color="#d7ff28"/><stop offset="0.59375" stop-color="#e7ff18"/><stop offset="0.60938" stop-color="#e7ff18"/><stop offset="0.60938" stop-color="#f7ff08"/><stop offset="0.62500" stop-color="#f7ff08"/><stop offset="0.62500" stop-color="#fff700"/><stop offset="0.64062" stop-color="#fff700"/><stop offset="0.64062" stop-color="#ffe700"/><stop offset="0.65625" stop-color="#ffe700"/><stop offset="0.65625" stop-color="#ffd700"/><stop offset="0.67188" stop-color="#ffd700"/><stop offset="0.67188" stop-color="#ffc700"/><stop offset="0.68750" stop-color="#ffc700"/><stop offset="0.68750" stop-color="#ffb700"/><stop offset="0.70312" stop-color="#ffb700"/><stop offset="0.70312" stop-color="#ffa700"/><stop offset="0.71875" stop-color="#ffa700"/><stop offset="0.71875" stop-color="#ff9700"/><stop offset="0.73438" stop-color="#ff9700"/><stop offset="0.73438" stop-color="#ff8700"/><stop offset="0.75000" stop-color="#ff8700"/><stop offset="0.75000" stop-color="#ff7800"/><stop offset="0.76562" stop-color="#ff7800"/><stop offset="0.76562" stop-color="#ff6800"/><stop offset="0.78125" stop-color="#ff6800"/><stop offset="0.78125" stop-color="#ff5800"/><stop offset="0.79688" stop-color="#ff5800"/><stop offset="0.79688" stop-color="#ff4800"/><stop offset="0.81250" stop-color="#ff4800"/><stop offset="0.81250" stop-color="#ff3800"/><stop offset="0.82812" stop-color="#ff3800"/><stop offset="0.82812" stop-color="#ff2800"/><stop offset="0.84375" stop-color="#ff2800"/><stop offset="0.84375" stop-color="#ff1800"/><stop offset="0.85938" stop-color="#ff1800"/><stop offset="0.85938" stop-color="#ff0800"/><stop offset="0.87500" stop-color="#ff0800"/><stop offset="0.87500" stop-color="#f70000"/><stop offset="0.89062" stop-color="#f70000"/><stop offset="0.89062" stop-color="#e70000"/><stop offset="0.90625" stop-color="#e70000"/><stop offset="0.90625" stop-color="#d70000"/><stop offset="0.92188" stop-color="#d70000"/><stop offset="0.92188" stop-color="#c70000"/><stop offset="0.93750" stop-color="#c70000"/><stop offset="0.93750" stop-color="#b70000"/><stop offset="0.95312" stop-color="#b70000"/><stop offset="0.95312" stop-color="#a70000"/><stop offset="0.96875" stop-color="#a70000"/><stop offset="0.96875" stop-color="#970000"/><stop offset="0.98438" stop-color="#970000"/><stop offset="0.98438" stop-color="#870000"/><stop offset="1.00000" stop-color="#870000"/></linearGradient></defs>
<rect x="877.0" y="728.00" width="52.6" height="686.40" fill="url(#jet)"/>
<rect x="877.0" y="728.0" width="52.6" height="686.4" fill="none" stroke="#000" stroke-width="1.6"/>
<path d="M877.0 1251.0h5.5M929.6 1251.0h-5.5M877.0 1087.5h5.5M929.6 1087.5h-5.5M877.0 924.1h5.5M929.6 924.1h-5.5M877.0 760.7h5.5M929.6 760.7h-5.5" stroke="#000" stroke-width="1.6"/>
<g font-family='"Liberation Sans", sans-serif' font-size="44.5" fill="#1a1a1a" text-anchor="middle">
<text x="972.8" y="1260.4">50</text>
<text x="972.8" y="1096.9">100</text>
<text x="972.8" y="933.5">150</text>
<text x="972.8" y="770.1">200</text>
</g>
<text x="977.3" y="711.3" text-anchor="middle" font-family='"Liberation Sans", sans-serif' font-size="42" fill="#1a1a1a">(min)</text>
</svg>
</body></html>
